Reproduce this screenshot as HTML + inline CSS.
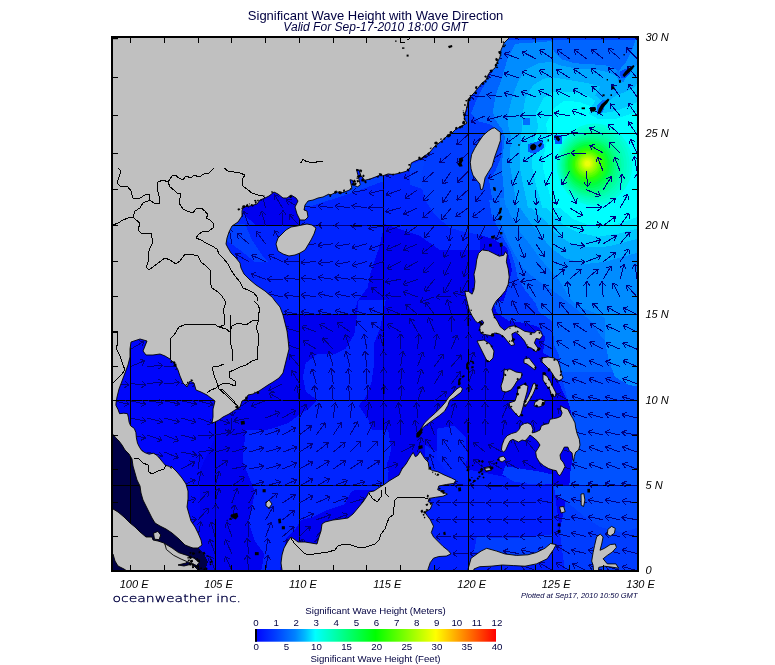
<!DOCTYPE html><html><head><meta charset="utf-8"><title>Significant Wave Height with Wave Direction</title>
<style>html,body{margin:0;padding:0;background:#fff}svg{display:block}text{font-family:"Liberation Sans",sans-serif}</style></head><body>
<svg width="775" height="665" viewBox="0 0 775 665">
<defs>
<clipPath id="mapclip"><rect x="113" y="38" width="524" height="532"/></clipPath>
<linearGradient id="cb" x1="0" x2="1" y1="0" y2="0"><stop offset="0" stop-color="#0000ff"/><stop offset="0.083" stop-color="#003cff"/><stop offset="0.167" stop-color="#0082ff"/><stop offset="0.208" stop-color="#00b9ff"/><stop offset="0.25" stop-color="#00ffff"/><stop offset="0.5" stop-color="#00ff00"/><stop offset="0.75" stop-color="#ffff00"/><stop offset="1" stop-color="#ff0000"/></linearGradient>
</defs>
<rect width="775" height="665" fill="#fff"/>
<g clip-path="url(#mapclip)">
<rect x="113" y="38" width="524" height="532" fill="#0000f0"/>
<g shape-rendering="crispEdges">
<polygon fill="#0024ff" points="222.0,190.0 300.0,185.0 384.0,160.0 480.0,130.0 480.0,250.0 440.0,250.0 420.0,236.0 384.4,224.0 379.4,247.0 371.0,271.0 367.7,287.5 357.6,301.0 354.0,315.0 283.0,315.0 222.0,300.0"/>
<polygon fill="#0040ff" points="224.0,224.0 245.0,224.0 252.0,240.0 262.0,255.0 268.0,262.0 255.0,262.0 240.0,250.0 226.0,240.0"/>
<polygon fill="#0040ff" points="305.0,200.0 330.0,192.0 360.0,182.0 384.0,176.0 384.0,181.0 360.0,190.0 330.0,200.0 305.0,208.0"/>
<polygon fill="#0040ff" points="410.0,165.0 480.0,135.0 480.0,190.0 465.0,195.0 455.0,185.0 440.0,180.0 425.0,190.0 410.0,185.0"/>
<polygon fill="#0024ff" points="302.9,377.1 305.7,362.9 317.1,354.3 334.3,354.3 345.7,348.6 354.3,334.3 357.1,314.3 358.6,300.0 385.7,300.0 382.9,314.3 380.0,328.6 374.3,342.9 374.3,362.9 371.4,382.9 365.7,397.1 358.6,405.7 368.6,420.0 374.3,437.1 380.0,448.6 385.7,460.0 388.6,471.4 387.1,490.0 260.0,490.0 260.0,431.4 271.4,428.6 288.6,422.9 300.0,414.3 308.6,408.6 317.1,400.0 305.7,391.4"/>
<polygon fill="#0024ff" points="245.7,430.0 388.2,430.0 391.3,448.6 388.2,461.0 375.8,476.5 363.4,485.7 351.0,491.9 344.8,504.3 326.3,510.5 313.9,516.7 301.5,519.8 295.3,529.1 286.0,538.4 282.9,553.9 279.8,570.9 261.2,570.9 264.3,553.9 255.0,541.5 248.8,522.9 251.9,507.4 255.0,491.9 248.8,476.5 242.6,461.0 244.2,445.5"/>
<polygon fill="#0024ff" points="437.1,428.6 454.3,425.7 465.7,437.1 467.1,460.0 460.0,477.1 445.7,474.3 437.1,454.3"/>
<polygon fill="#0000f0" points="240.0,190.0 300.0,190.0 300.0,225.0 256.0,225.0 244.0,215.0"/>
<polygon fill="#0006fb" points="113.0,330.0 215.0,330.0 215.0,400.0 214.0,440.0 200.0,470.0 200.0,548.0 113.0,548.0"/>
<polygon fill="#000046" points="111.0,430.0 125.0,438.0 140.0,460.0 150.0,490.0 170.0,520.0 195.0,545.0 203.0,552.0 208.0,562.0 204.0,572.0 111.0,572.0"/>
<polygon fill="#003cff" points="505.0,38.0 640.0,38.0 640.0,572.0 562.0,572.0 558.0,540.0 566.0,500.0 578.0,470.0 580.0,440.0 572.0,410.0 562.0,390.0 550.0,360.0 546.0,335.0 536.0,322.0 516.0,316.0 502.0,306.0 507.0,290.0 512.0,270.0 507.0,248.0 495.0,240.0 480.0,235.0 465.0,232.0 450.0,228.0 435.0,215.0 425.0,200.0 420.0,180.0 425.0,160.0 440.0,140.0 465.0,118.0 470.0,97.0 490.0,72.0"/>
<polygon fill="#0052ff" points="561.6,369.4 639.9,369.4 639.9,485.8 569.3,485.8 570.6,470.3 574.5,449.6 573.2,428.9 570.6,410.8 566.7,395.3 562.9,382.3"/>
<polygon fill="#0048ff" points="553.8,485.3 639.9,485.3 639.9,527.2 621.1,532.4 600.4,527.2 584.9,516.9 569.3,503.9 553.8,493.6"/>
<polygon fill="#0064ff" points="504.7,39.9 639.9,39.9 639.9,208.0 495.6,208.0 491.7,196.4 489.1,180.9 495.6,170.5 500.8,157.6 502.1,144.6 500.8,134.3 495.6,127.8 489.1,123.9 478.8,121.4 471.0,113.6 476.2,100.7 481.4,90.3 489.1,77.4 495.6,64.5 500.8,51.5"/>
<polygon fill="#0064ff" points="489.1,200.0 491.7,215.5 499.5,231.0 509.8,249.1 515.0,264.7 517.6,277.6 525.4,290.5 535.7,303.5 539.6,313.8 542.2,324.2 546.6,334.5 553.8,344.9 559.0,355.2 561.6,372.0 639.9,372.0 639.9,200.0"/>
<polygon fill="#0078ff" points="500.0,198.0 500.0,221.7 507.2,239.7 514.4,254.0 523.5,268.6 536.0,279.4 547.0,286.6 552.3,290.0 565.0,300.0 580.0,312.0 592.0,322.0 600.0,335.0 605.0,341.0 640.0,341.0 640.0,198.0"/>
<polygon fill="#008cff" points="515.0,43.8 551.2,41.2 553.8,51.5 561.6,59.3 574.5,63.2 595.2,64.5 608.1,65.7 618.5,70.9 626.2,61.9 632.7,48.9 635.3,39.9 639.9,39.9 639.9,208.0 506.0,208.0 504.9,202.1 503.4,186.0 501.6,166.1 503.4,149.8 504.9,136.9 502.1,129.1 498.2,123.9 494.3,117.5 493.0,111.0 495.6,95.5 502.1,77.4 507.3,59.3"/>
<polygon fill="#008cff" points="504.0,198.0 505.0,202.0 511.0,216.0 520.0,232.0 530.0,244.5 539.8,258.2 551.5,271.8 561.3,283.6 569.0,297.2 577.0,306.0 592.6,312.0 605.5,318.0 605.0,341.0 609.0,361.0 615.0,377.0 629.0,385.0 640.0,387.0 640.0,198.0"/>
<polygon fill="#00aaff" points="517.6,82.6 525.4,69.6 538.3,63.2 551.2,61.9 561.6,65.7 574.5,68.3 595.2,69.6 608.1,72.2 618.5,77.4 628.8,74.8 636.6,64.5 639.9,59.3 639.9,208.0 517.1,208.0 516.0,202.1 513.7,186.0 510.1,166.1 510.4,149.8 510.9,136.9 508.5,126.5 507.3,118.8 511.1,100.7"/>
<polygon fill="#00aaff" points="515.0,198.0 516.0,202.0 523.0,212.0 530.0,222.0 539.8,234.7 551.5,248.4 565.2,258.2 584.7,264.0 604.2,262.0 621.8,257.2 640.0,252.0 640.0,198.0"/>
<polygon fill="#00c8ff" points="525.4,98.1 533.1,85.1 543.5,78.7 553.8,77.4 569.3,80.0 584.9,82.6 600.4,86.4 595.2,95.5 605.5,103.3 615.9,95.5 626.2,91.6 634.0,87.7 639.9,80.0 639.9,208.0 527.9,208.0 526.9,202.1 523.3,186.0 519.7,166.1 520.2,149.8 521.0,136.9 522.3,123.9 522.8,113.6"/>
<polygon fill="#00c8ff" points="526.0,198.0 527.0,202.0 533.0,210.0 545.6,221.0 555.4,232.8 569.0,242.5 588.6,247.4 608.0,246.4 623.8,242.5 640.0,238.0 640.0,198.0"/>
<polygon fill="#00e6ff" points="535.7,113.6 543.5,98.1 553.8,91.6 569.3,91.6 584.9,94.2 595.2,100.7 590.0,109.7 600.4,113.6 615.9,111.0 628.8,105.8 639.9,100.7 639.9,208.0 542.2,208.0 540.9,202.1 536.2,186.0 531.8,166.1 533.1,149.8 534.9,136.9 538.3,126.5"/>
<polygon fill="#00e6ff" points="540.0,198.0 541.0,202.0 545.0,206.0 551.5,213.2 563.2,225.0 578.8,232.8 598.4,236.7 618.0,233.7 640.0,228.0 640.0,198.0"/>
<polygon fill="#00ffff" points="546.1,123.9 553.8,108.4 564.2,100.7 579.7,102.0 592.6,107.1 588.7,113.6 597.8,118.8 615.9,118.8 631.4,113.6 639.9,111.0 639.9,208.0 553.3,208.0 552.0,202.1 547.3,186.0 542.7,166.1 544.8,149.8 547.9,136.9"/>
<polygon fill="#00ffff" points="551.0,198.0 552.5,200.0 559.3,207.4 573.0,219.0 588.6,225.0 608.0,226.0 623.8,222.0 640.0,216.0 640.0,198.0"/>
<polygon fill="#003aff" points="493.0,301.0 497.0,313.0 509.0,321.0 525.0,323.0 539.0,327.0 545.0,337.0 543.0,353.0 551.0,357.0 554.0,341.0 552.0,321.0 535.0,309.0 515.0,301.0"/>
<polygon fill="#001eff" points="425.0,445.0 470.0,470.0 520.0,480.0 554.0,486.0 565.0,572.0 425.0,572.0"/>
<polygon fill="#0046ff" points="619.7,71.9 626.1,68.7 631.2,67.5 629.9,73.2 625.4,78.3 621.0,77.7"/>
<polygon fill="#0078ff" points="617.1,69.4 619.7,71.9 621.0,77.7 625.4,78.3 623.5,82.1 618.4,79.6 615.9,74.5"/>
<polygon fill="#006eff" points="596.7,106.4 602.5,100.0 606.9,100.0 605.0,106.4 601.8,113.4 597.3,114.7"/>
<polygon fill="#005aff" points="528.0,144.0 543.0,140.0 544.0,148.0 535.0,154.0 528.0,152.0"/>
<polygon fill="#005aff" points="554.0,135.0 562.0,135.0 562.0,144.0 555.0,144.0"/>
<polygon fill="#006eff" points="523.0,118.0 530.0,118.0 530.0,125.0 523.0,125.0"/>
<polygon fill="#003eff" points="476.8,536.9 505.2,538.3 533.5,536.9 553.4,534.1 553.4,544.0 544.9,548.3 536.4,552.5 527.9,554.8 516.5,555.4 505.2,554.0 496.6,551.1 486.7,548.3 481.0,551.1 473.9,552.5"/>
<polygon fill="#003eff" points="505.2,466.0 522.2,468.8 539.2,471.6 553.4,474.5 553.4,484.4 533.5,484.4 513.7,481.6 502.3,474.5"/>
<polygon fill="#0024ff" points="437.0,444.7 451.2,447.5 462.6,458.9 468.3,473.1 468.3,484.4 456.9,481.6 445.5,470.2 437.0,458.9"/>
</g>
<ellipse cx="594.5" cy="164.5" rx="38" ry="41" fill="rgb(0, 255, 222)"/>
<ellipse cx="593.7" cy="164.7" rx="36.0" ry="38.5" fill="rgb(0, 255, 208)"/>
<ellipse cx="592.9" cy="164.8" rx="34.0" ry="36.0" fill="rgb(0, 255, 194)"/>
<ellipse cx="592" cy="165" rx="32" ry="33.5" fill="rgb(0, 255, 180)"/>
<ellipse cx="591.3" cy="165.2" rx="30.2" ry="31.5" fill="rgb(0, 255, 163)"/>
<ellipse cx="590.7" cy="165.3" rx="28.4" ry="29.5" fill="rgb(0, 255, 147)"/>
<ellipse cx="590" cy="165.5" rx="26.5" ry="27.5" fill="rgb(0, 255, 130)"/>
<ellipse cx="589.6" cy="165.3" rx="24.7" ry="25.4" fill="rgb(0, 255, 106)"/>
<ellipse cx="589.2" cy="165.0" rx="22.9" ry="23.2" fill="rgb(0, 255, 83)"/>
<ellipse cx="588.8" cy="164.8" rx="21" ry="21" fill="rgb(0, 255, 60)"/>
<ellipse cx="588.6" cy="164.6" rx="19.0" ry="19.0" fill="rgb(16, 255, 40)"/>
<ellipse cx="588.4" cy="164.4" rx="17.0" ry="17.0" fill="rgb(33, 255, 20)"/>
<ellipse cx="588.2" cy="164.2" rx="15" ry="15" fill="rgb(50, 255, 0)"/>
<ellipse cx="588.1" cy="164.1" rx="13.3" ry="13.3" fill="rgb(76, 255, 0)"/>
<ellipse cx="587.9" cy="163.9" rx="11.7" ry="11.7" fill="rgb(102, 255, 0)"/>
<ellipse cx="587.8" cy="163.8" rx="10" ry="10" fill="rgb(130, 255, 0)"/>
<ellipse cx="587.7" cy="163.7" rx="8.7" ry="8.7" fill="rgb(149, 255, 0)"/>
<ellipse cx="587.7" cy="163.6" rx="7.4" ry="7.4" fill="rgb(169, 255, 0)"/>
<ellipse cx="587.6" cy="163.5" rx="6" ry="6" fill="rgb(190, 255, 0)"/>
<ellipse cx="587.6" cy="163.5" rx="4.9" ry="4.9" fill="rgb(204, 255, 3)"/>
<ellipse cx="587.6" cy="163.5" rx="3.8" ry="3.8" fill="rgb(219, 255, 6)"/>
<ellipse cx="587.6" cy="163.5" rx="2.6" ry="2.6" fill="rgb(235, 255, 10)"/>
<g stroke="#000" stroke-width="1" shape-rendering="crispEdges">
<line x1="130.6" y1="38" x2="130.6" y2="570"/>
<line x1="215.0" y1="38" x2="215.0" y2="570"/>
<line x1="299.4" y1="38" x2="299.4" y2="570"/>
<line x1="383.8" y1="38" x2="383.8" y2="570"/>
<line x1="468.2" y1="38" x2="468.2" y2="570"/>
<line x1="552.6" y1="38" x2="552.6" y2="570"/>
<line x1="113" y1="485.5" x2="637" y2="485.5"/>
<line x1="113" y1="400.5" x2="637" y2="400.5"/>
<line x1="113" y1="314.5" x2="637" y2="314.5"/>
<line x1="113" y1="225.5" x2="637" y2="225.5"/>
<line x1="113" y1="133.5" x2="637" y2="133.5"/>
</g>
<g stroke="#000080" stroke-width="1" fill="none" shape-rendering="crispEdges">
<path d="M113.7 418.0L128.9 421.2M128.9 421.2L123.9 423.4M128.9 421.2L125.2 417.1"/>
<path d="M113.7 400.8L128.8 404.3M128.8 404.3L123.8 406.5M128.8 404.3L125.2 400.2"/>
<path d="M113.7 383.7L129.2 384.8M129.2 384.8L124.5 387.7M129.2 384.8L125.0 381.2"/>
<path d="M113.7 366.5L128.1 360.6M128.1 360.6L125.2 365.3M128.1 360.6L122.8 359.3"/>
<path d="M113.7 349.2L127.1 341.4M127.1 341.4L124.9 346.4M127.1 341.4L121.7 340.8"/>
<path d="M113.7 331.8L127.1 324.1M127.1 324.1L124.9 329.1M127.1 324.1L121.7 323.5"/>
<path d="M113.7 314.4L127.1 306.6M127.1 306.6L124.9 311.6M127.1 306.6L121.7 306.0"/>
<path d="M113.7 296.9L127.1 289.1M127.1 289.1L124.9 294.1M127.1 289.1L121.7 288.5"/>
<path d="M113.7 279.3L127.1 271.5M127.1 271.5L124.9 276.5M127.1 271.5L121.7 270.9"/>
<path d="M113.7 261.6L127.1 253.8M127.1 253.8L124.9 258.8M127.1 253.8L121.7 253.2"/>
<path d="M113.7 243.8L127.1 236.0M127.1 236.0L124.9 241.0M127.1 236.0L121.7 235.4"/>
<path d="M113.7 225.8L127.1 218.1M127.1 218.1L124.9 223.1M127.1 218.1L121.7 217.5"/>
<path d="M113.7 207.8L127.1 200.1M127.1 200.1L124.9 205.1M127.1 200.1L121.7 199.5"/>
<path d="M113.7 189.7L108.7 175.0M108.7 175.0L113.2 178.2M108.7 175.0L107.1 180.3"/>
<path d="M113.7 171.4L108.7 156.8M108.7 156.8L113.2 159.9M108.7 156.8L107.1 162.0"/>
<path d="M113.7 153.0L108.7 138.4M108.7 138.4L113.2 141.5M108.7 138.4L107.1 143.6"/>
<path d="M113.7 134.5L108.7 119.8M108.7 119.8L113.2 123.0M108.7 119.8L107.1 125.1"/>
<path d="M113.7 115.8L108.7 101.1M108.7 101.1L113.2 104.3M108.7 101.1L107.1 106.4"/>
<path d="M113.7 96.9L108.7 82.2M108.7 82.2L113.2 85.4M108.7 82.2L107.1 87.5"/>
<path d="M113.7 77.9L108.7 63.2M108.7 63.2L113.2 66.4M108.7 63.2L107.1 68.5"/>
<path d="M113.7 58.7L108.7 44.0M108.7 44.0L113.2 47.2M108.7 44.0L107.1 49.3"/>
<path d="M113.7 39.3L108.7 24.6M108.7 24.6L113.2 27.8M108.7 24.6L107.1 29.9"/>
<path d="M130.6 452.1L146.0 454.0M146.0 454.0L141.2 456.7M146.0 454.0L142.0 450.2"/>
<path d="M130.6 435.0L145.8 437.9M145.8 437.9L140.9 440.3M145.8 437.9L142.1 433.9"/>
<path d="M130.6 418.0L145.8 421.2M145.8 421.2L140.7 423.4M145.8 421.2L142.1 417.1"/>
<path d="M130.6 400.8L145.7 404.3M145.7 404.3L140.6 406.5M145.7 404.3L142.1 400.2"/>
<path d="M130.6 383.7L146.1 384.8M146.1 384.8L141.4 387.7M146.1 384.8L141.8 381.2"/>
<path d="M130.6 366.5L145.0 360.6M145.0 360.6L142.1 365.3M145.0 360.6L139.6 359.3"/>
<path d="M130.6 349.2L144.0 341.4M144.0 341.4L141.8 346.4M144.0 341.4L138.6 340.8"/>
<path d="M130.6 331.8L144.0 324.1M144.0 324.1L141.8 329.1M144.0 324.1L138.6 323.5"/>
<path d="M130.6 314.4L144.0 306.6M144.0 306.6L141.8 311.6M144.0 306.6L138.6 306.0"/>
<path d="M130.6 296.9L144.0 289.1M144.0 289.1L141.8 294.1M144.0 289.1L138.6 288.5"/>
<path d="M130.6 279.3L144.0 271.5M144.0 271.5L141.8 276.5M144.0 271.5L138.6 270.9"/>
<path d="M130.6 261.6L144.0 253.8M144.0 253.8L141.8 258.8M144.0 253.8L138.6 253.2"/>
<path d="M130.6 243.8L144.0 236.0M144.0 236.0L141.8 241.0M144.0 236.0L138.6 235.4"/>
<path d="M130.6 225.8L144.0 218.1M144.0 218.1L141.8 223.1M144.0 218.1L138.6 217.5"/>
<path d="M130.6 207.8L125.6 193.2M125.6 193.2L130.1 196.3M125.6 193.2L123.9 198.4"/>
<path d="M130.6 189.7L125.6 175.0M125.6 175.0L130.1 178.2M125.6 175.0L123.9 180.3"/>
<path d="M130.6 171.4L125.6 156.8M125.6 156.8L130.1 159.9M125.6 156.8L123.9 162.0"/>
<path d="M130.6 153.0L125.6 138.4M125.6 138.4L130.1 141.5M125.6 138.4L123.9 143.6"/>
<path d="M130.6 134.5L125.6 119.8M125.6 119.8L130.1 123.0M125.6 119.8L123.9 125.1"/>
<path d="M130.6 115.8L125.6 101.1M125.6 101.1L130.1 104.3M125.6 101.1L123.9 106.4"/>
<path d="M130.6 96.9L125.6 82.2M125.6 82.2L130.1 85.4M125.6 82.2L123.9 87.5"/>
<path d="M130.6 77.9L125.6 63.2M125.6 63.2L130.1 66.4M125.6 63.2L123.9 68.5"/>
<path d="M130.6 58.7L125.6 44.0M125.6 44.0L130.1 47.2M125.6 44.0L123.9 49.3"/>
<path d="M130.6 39.3L125.6 24.6M125.6 24.6L130.1 27.8M125.6 24.6L123.9 29.9"/>
<path d="M147.5 486.0L159.9 495.3M159.9 495.3L154.4 495.2M159.9 495.3L158.3 490.0"/>
<path d="M147.5 469.0L160.8 477.0M160.8 477.0L155.3 477.5M160.8 477.0L158.6 472.0"/>
<path d="M147.5 452.1L162.5 456.0M162.5 456.0L157.3 458.0M162.5 456.0L159.0 451.7"/>
<path d="M147.5 435.0L162.0 440.3M162.0 440.3L156.8 441.8M162.0 440.3L159.0 435.8"/>
<path d="M147.5 418.0L162.5 422.0M162.5 422.0L157.3 423.9M162.5 422.0L159.0 417.7"/>
<path d="M147.5 400.8L162.8 403.0M162.8 403.0L158.0 405.6M162.8 403.0L158.9 399.2"/>
<path d="M147.5 383.7L162.9 381.8M162.9 381.8L158.8 385.5M162.9 381.8L158.1 379.1"/>
<path d="M147.5 366.5L162.9 365.4M162.9 365.4L158.7 368.9M162.9 365.4L158.3 362.5"/>
<path d="M147.5 349.2L162.0 343.9M162.0 343.9L159.0 348.4M162.0 343.9L156.8 342.3"/>
<path d="M147.5 331.8L159.5 322.0M159.5 322.0L158.1 327.4M159.5 322.0L154.0 322.3"/>
<path d="M147.5 314.4L162.0 309.1M162.0 309.1L159.0 313.6M162.0 309.1L156.8 307.6"/>
<path d="M147.5 296.9L162.0 291.6M162.0 291.6L159.0 296.1M162.0 291.6L156.8 290.0"/>
<path d="M147.5 279.3L162.0 273.9M162.0 273.9L159.0 278.5M162.0 273.9L156.8 272.4"/>
<path d="M147.5 261.6L162.0 256.3M162.0 256.3L159.0 260.8M162.0 256.3L156.8 254.7"/>
<path d="M147.5 243.8L162.0 238.5M162.0 238.5L159.0 243.0M162.0 238.5L156.8 236.9"/>
<path d="M147.5 225.8L142.4 211.2M142.4 211.2L146.9 214.3M142.4 211.2L140.8 216.5"/>
<path d="M147.5 207.8L142.4 193.2M142.4 193.2L146.9 196.3M142.4 193.2L140.8 198.4"/>
<path d="M147.5 189.7L142.4 175.0M142.4 175.0L146.9 178.2M142.4 175.0L140.8 180.3"/>
<path d="M147.5 171.4L142.4 156.8M142.4 156.8L146.9 159.9M142.4 156.8L140.8 162.0"/>
<path d="M147.5 153.0L142.4 138.4M142.4 138.4L146.9 141.5M142.4 138.4L140.8 143.6"/>
<path d="M147.5 134.5L142.4 119.8M142.4 119.8L146.9 123.0M142.4 119.8L140.8 125.1"/>
<path d="M147.5 115.8L142.4 101.1M142.4 101.1L146.9 104.3M142.4 101.1L140.8 106.4"/>
<path d="M147.5 96.9L142.4 82.2M142.4 82.2L146.9 85.4M142.4 82.2L140.8 87.5"/>
<path d="M147.5 77.9L142.4 63.2M142.4 63.2L146.9 66.4M142.4 63.2L140.8 68.5"/>
<path d="M147.5 58.7L142.4 44.0M142.4 44.0L146.9 47.2M142.4 44.0L140.8 49.3"/>
<path d="M147.5 39.3L142.4 24.6M142.4 24.6L146.9 27.8M142.4 24.6L140.8 29.9"/>
<path d="M164.4 502.9L176.4 512.7M176.4 512.7L170.9 512.4M176.4 512.7L175.0 507.4"/>
<path d="M164.4 486.0L177.3 494.6M177.3 494.6L171.8 494.8M177.3 494.6L175.4 489.4"/>
<path d="M164.4 469.0L178.1 476.2M178.1 476.2L172.6 477.0M178.1 476.2L175.6 471.3"/>
<path d="M164.4 452.1L178.7 457.9M178.7 457.9L173.4 459.2M178.7 457.9L175.8 453.2"/>
<path d="M164.4 435.0L178.7 440.8M178.7 440.8L173.4 442.2M178.7 440.8L175.8 436.2"/>
<path d="M164.4 418.0L179.3 422.0M179.3 422.0L174.2 423.9M179.3 422.0L175.9 417.7"/>
<path d="M164.4 400.8L179.5 404.1M179.5 404.1L174.5 406.3M179.5 404.1L175.8 400.0"/>
<path d="M164.4 383.7L179.8 382.6M179.8 382.6L175.6 386.1M179.8 382.6L175.2 379.7"/>
<path d="M164.4 366.5L179.9 366.5M179.9 366.5L175.4 369.7M179.9 366.5L175.4 363.2"/>
<path d="M164.4 349.2L179.4 345.4M179.4 345.4L175.9 349.6M179.4 345.4L174.3 343.3"/>
<path d="M164.4 331.8L177.7 323.8M177.7 323.8L175.5 328.9M177.7 323.8L172.2 323.3"/>
<path d="M164.4 314.4L174.3 302.5M174.3 302.5L173.9 308.0M174.3 302.5L169.0 303.8"/>
<path d="M164.4 296.9L178.9 291.6M178.9 291.6L175.8 296.1M178.9 291.6L173.6 290.0"/>
<path d="M164.4 279.3L178.9 273.9M178.9 273.9L175.8 278.5M178.9 273.9L173.6 272.4"/>
<path d="M164.4 261.6L150.9 253.8M150.9 253.8L156.4 253.2M150.9 253.8L153.2 258.8"/>
<path d="M164.4 243.8L152.7 233.6M152.7 233.6L158.1 234.1M152.7 233.6L153.9 238.9"/>
<path d="M164.4 225.8L159.3 211.2M159.3 211.2L163.8 214.3M159.3 211.2L157.7 216.5"/>
<path d="M164.4 207.8L159.3 193.2M159.3 193.2L163.8 196.3M159.3 193.2L157.7 198.4"/>
<path d="M164.4 189.7L159.3 175.0M159.3 175.0L163.8 178.2M159.3 175.0L157.7 180.3"/>
<path d="M164.4 171.4L159.3 156.8M159.3 156.8L163.8 159.9M159.3 156.8L157.7 162.0"/>
<path d="M164.4 153.0L159.3 138.4M159.3 138.4L163.8 141.5M159.3 138.4L157.7 143.6"/>
<path d="M164.4 134.5L159.3 119.8M159.3 119.8L163.8 123.0M159.3 119.8L157.7 125.1"/>
<path d="M164.4 115.8L159.3 101.1M159.3 101.1L163.8 104.3M159.3 101.1L157.7 106.4"/>
<path d="M164.4 96.9L159.3 82.2M159.3 82.2L163.8 85.4M159.3 82.2L157.7 87.5"/>
<path d="M164.4 77.9L159.3 63.2M159.3 63.2L163.8 66.4M159.3 63.2L157.7 68.5"/>
<path d="M164.4 58.7L159.3 44.0M159.3 44.0L163.8 47.2M159.3 44.0L157.7 49.3"/>
<path d="M164.4 39.3L159.3 24.6M159.3 24.6L163.8 27.8M159.3 24.6L157.7 29.9"/>
<path d="M181.2 519.8L196.7 519.4M196.7 519.4L192.4 522.8M196.7 519.4L192.2 516.3"/>
<path d="M181.2 502.9L196.1 498.4M196.1 498.4L192.8 502.8M196.1 498.4L190.9 496.6"/>
<path d="M181.2 486.0L195.4 479.8M195.4 479.8L192.7 484.5M195.4 479.8L190.1 478.6"/>
<path d="M181.2 469.0L194.9 461.6M194.9 461.6L192.5 466.6M194.9 461.6L189.4 460.9"/>
<path d="M181.2 452.1L196.5 455.0M196.5 455.0L191.5 457.3M196.5 455.0L192.7 451.0"/>
<path d="M181.2 435.0L196.2 439.0M196.2 439.0L191.1 441.0M196.2 439.0L192.8 434.8"/>
<path d="M181.2 418.0L196.1 422.2M196.1 422.2L191.0 424.1M196.1 422.2L192.8 417.9"/>
<path d="M181.2 400.8L196.4 404.1M196.4 404.1L191.4 406.3M196.4 404.1L192.7 400.0"/>
<path d="M181.2 383.7L196.7 383.7M196.7 383.7L192.3 386.9M196.7 383.7L192.3 380.4"/>
<path d="M181.2 366.5L196.7 365.9M196.7 365.9L192.4 369.3M196.7 365.9L192.2 362.8"/>
<path d="M181.2 349.2L196.6 347.4M196.6 347.4L192.6 351.1M196.6 347.4L191.8 344.7"/>
<path d="M181.2 331.8L194.8 324.3M194.8 324.3L192.5 329.3M194.8 324.3L189.3 323.6"/>
<path d="M181.2 314.4L191.2 302.5M191.2 302.5L190.8 308.0M191.2 302.5L185.9 303.8"/>
<path d="M181.2 296.9L188.3 283.1M188.3 283.1L189.2 288.5M188.3 283.1L183.4 285.5"/>
<path d="M181.2 279.3L167.8 271.5M167.8 271.5L173.3 270.9M167.8 271.5L170.1 276.5"/>
<path d="M181.2 261.6L167.8 253.8M167.8 253.8L173.3 253.2M167.8 253.8L170.1 258.8"/>
<path d="M181.2 243.8L169.5 233.6M169.5 233.6L175.0 234.1M169.5 233.6L170.8 238.9"/>
<path d="M181.2 225.8L176.2 211.2M176.2 211.2L180.7 214.3M176.2 211.2L174.6 216.5"/>
<path d="M181.2 207.8L176.2 193.2M176.2 193.2L180.7 196.3M176.2 193.2L174.6 198.4"/>
<path d="M181.2 189.7L176.2 175.0M176.2 175.0L180.7 178.2M176.2 175.0L174.6 180.3"/>
<path d="M181.2 171.4L176.2 156.8M176.2 156.8L180.7 159.9M176.2 156.8L174.6 162.0"/>
<path d="M181.2 153.0L176.2 138.4M176.2 138.4L180.7 141.5M176.2 138.4L174.6 143.6"/>
<path d="M181.2 134.5L176.2 119.8M176.2 119.8L180.7 123.0M176.2 119.8L174.6 125.1"/>
<path d="M181.2 115.8L176.2 101.1M176.2 101.1L180.7 104.3M176.2 101.1L174.6 106.4"/>
<path d="M181.2 96.9L176.2 82.2M176.2 82.2L180.7 85.4M176.2 82.2L174.6 87.5"/>
<path d="M181.2 77.9L176.2 63.2M176.2 63.2L180.7 66.4M176.2 63.2L174.6 68.5"/>
<path d="M181.2 58.7L176.2 44.0M176.2 44.0L180.7 47.2M176.2 44.0L174.6 49.3"/>
<path d="M181.2 39.3L176.2 24.6M176.2 24.6L180.7 27.8M176.2 24.6L174.6 29.9"/>
<path d="M198.1 536.7L200.8 521.5M200.8 521.5L203.2 526.4M200.8 521.5L196.9 525.3"/>
<path d="M198.1 519.8L208.5 508.3M208.5 508.3L207.9 513.8M208.5 508.3L203.1 509.5"/>
<path d="M198.1 502.9L208.5 491.4M208.5 491.4L207.9 496.9M208.5 491.4L203.1 492.6"/>
<path d="M198.1 486.0L201.1 470.8M201.1 470.8L203.4 475.8M201.1 470.8L197.1 474.5"/>
<path d="M198.1 469.0L200.0 453.7M200.0 453.7L202.7 458.5M200.0 453.7L196.3 457.7"/>
<path d="M198.1 452.1L213.5 449.9M213.5 449.9L209.5 453.7M213.5 449.9L208.6 447.3"/>
<path d="M198.1 435.0L213.6 435.0M213.6 435.0L209.2 438.3M213.6 435.0L209.2 431.8"/>
<path d="M198.1 418.0L212.7 423.3M212.7 423.3L207.4 424.8M212.7 423.3L209.6 418.7"/>
<path d="M198.1 400.8L213.1 404.9M213.1 404.9L208.0 406.8M213.1 404.9L209.6 400.6"/>
<path d="M198.1 383.7L213.5 385.4M213.5 385.4L208.7 388.1M213.5 385.4L209.5 381.7"/>
<path d="M198.1 366.5L213.6 365.3M213.6 365.3L209.4 368.8M213.6 365.3L208.9 362.4"/>
<path d="M198.1 349.2L213.3 346.2M213.3 346.2L209.6 350.2M213.3 346.2L208.3 343.8"/>
<path d="M198.1 331.8L212.0 324.9M212.0 324.9L209.5 329.8M212.0 324.9L206.6 324.0"/>
<path d="M198.1 314.4L204.1 300.1M204.1 300.1L205.4 305.4M204.1 300.1L199.4 302.9"/>
<path d="M198.1 296.9L200.9 281.6M200.9 281.6L203.3 286.6M200.9 281.6L197.0 285.4"/>
<path d="M198.1 279.3L201.8 264.2M201.8 264.2L203.9 269.3M201.8 264.2L197.6 267.7"/>
<path d="M198.1 261.6L184.7 253.8M184.7 253.8L190.2 253.2M184.7 253.8L186.9 258.8"/>
<path d="M198.1 243.8L186.4 233.6M186.4 233.6L191.9 234.1M186.4 233.6L187.7 238.9"/>
<path d="M198.1 225.8L193.1 211.2M193.1 211.2L197.6 214.3M193.1 211.2L191.5 216.5"/>
<path d="M198.1 207.8L193.1 193.2M193.1 193.2L197.6 196.3M193.1 193.2L191.5 198.4"/>
<path d="M198.1 189.7L193.1 175.0M193.1 175.0L197.6 178.2M193.1 175.0L191.5 180.3"/>
<path d="M198.1 171.4L193.1 156.8M193.1 156.8L197.6 159.9M193.1 156.8L191.5 162.0"/>
<path d="M198.1 153.0L193.1 138.4M193.1 138.4L197.6 141.5M193.1 138.4L191.5 143.6"/>
<path d="M198.1 134.5L193.1 119.8M193.1 119.8L197.6 123.0M193.1 119.8L191.5 125.1"/>
<path d="M198.1 115.8L193.1 101.1M193.1 101.1L197.6 104.3M193.1 101.1L191.5 106.4"/>
<path d="M198.1 96.9L193.1 82.2M193.1 82.2L197.6 85.4M193.1 82.2L191.5 87.5"/>
<path d="M198.1 77.9L193.1 63.2M193.1 63.2L197.6 66.4M193.1 63.2L191.5 68.5"/>
<path d="M198.1 58.7L193.1 44.0M193.1 44.0L197.6 47.2M193.1 44.0L191.5 49.3"/>
<path d="M198.1 39.3L193.1 24.6M193.1 24.6L197.6 27.8M193.1 24.6L191.5 29.9"/>
<path d="M215.0 570.5L209.7 555.9M209.7 555.9L214.3 559.0M209.7 555.9L208.2 561.2"/>
<path d="M215.0 553.6L209.7 539.1M209.7 539.1L214.3 542.1M209.7 539.1L208.2 544.3"/>
<path d="M215.0 536.7L211.0 521.8M211.0 521.8L215.3 525.2M211.0 521.8L209.0 526.9"/>
<path d="M215.0 519.8L216.1 504.4M216.1 504.4L219.0 509.0M216.1 504.4L212.5 508.6"/>
<path d="M215.0 502.9L219.0 488.0M219.0 488.0L221.0 493.1M219.0 488.0L214.7 491.4"/>
<path d="M215.0 486.0L219.3 471.1M219.3 471.1L221.2 476.3M219.3 471.1L214.9 474.5"/>
<path d="M215.0 469.0L227.9 460.4M227.9 460.4L226.0 465.5M227.9 460.4L222.4 460.2"/>
<path d="M215.0 452.1L230.0 448.0M230.0 448.0L226.5 452.3M230.0 448.0L224.8 446.1"/>
<path d="M215.0 435.0L230.3 432.3M230.3 432.3L226.4 436.3M230.3 432.3L225.3 429.9"/>
<path d="M215.0 418.0L229.6 423.3M229.6 423.3L224.3 424.8M229.6 423.3L226.5 418.7"/>
<path d="M215.0 400.8L228.5 408.5M228.5 408.5L223.0 409.1M228.5 408.5L226.2 403.5"/>
<path d="M215.0 383.7L229.3 389.6M229.3 389.6L224.0 390.9M229.3 389.6L226.5 384.9"/>
<path d="M215.0 366.5L230.5 367.3M230.5 367.3L225.9 370.3M230.5 367.3L226.2 363.8"/>
<path d="M215.0 349.2L229.6 344.1M229.6 344.1L226.5 348.6M229.6 344.1L224.4 342.5"/>
<path d="M215.0 331.8L224.4 319.5M224.4 319.5L224.3 325.0M224.4 319.5L219.1 321.1"/>
<path d="M215.0 314.4L212.5 299.1M212.5 299.1L216.4 302.9M212.5 299.1L210.0 304.0"/>
<path d="M215.0 296.9L207.8 283.1M207.8 283.1L212.8 285.6M207.8 283.1L207.0 288.6"/>
<path d="M215.0 279.3L210.0 264.6M210.0 264.6L214.5 267.7M210.0 264.6L208.3 269.9"/>
<path d="M215.0 261.6L215.3 246.1M215.3 246.1L218.4 250.6M215.3 246.1L212.0 250.4"/>
<path d="M215.0 243.8L203.3 233.6M203.3 233.6L208.8 234.1M203.3 233.6L204.5 238.9"/>
<path d="M215.0 225.8L210.0 211.2M210.0 211.2L214.5 214.3M210.0 211.2L208.3 216.5"/>
<path d="M215.0 207.8L210.0 193.2M210.0 193.2L214.5 196.3M210.0 193.2L208.3 198.4"/>
<path d="M215.0 189.7L210.0 175.0M210.0 175.0L214.5 178.2M210.0 175.0L208.3 180.3"/>
<path d="M215.0 171.4L210.0 156.8M210.0 156.8L214.5 159.9M210.0 156.8L208.3 162.0"/>
<path d="M215.0 153.0L210.0 138.4M210.0 138.4L214.5 141.5M210.0 138.4L208.3 143.6"/>
<path d="M215.0 134.5L210.0 119.8M210.0 119.8L214.5 123.0M210.0 119.8L208.3 125.1"/>
<path d="M215.0 115.8L210.0 101.1M210.0 101.1L214.5 104.3M210.0 101.1L208.3 106.4"/>
<path d="M215.0 96.9L210.0 82.2M210.0 82.2L214.5 85.4M210.0 82.2L208.3 87.5"/>
<path d="M215.0 77.9L210.0 63.2M210.0 63.2L214.5 66.4M210.0 63.2L208.3 68.5"/>
<path d="M215.0 58.7L210.0 44.0M210.0 44.0L214.5 47.2M210.0 44.0L208.3 49.3"/>
<path d="M215.0 39.3L210.0 24.6M210.0 24.6L214.5 27.8M210.0 24.6L208.3 29.9"/>
<path d="M231.9 570.5L225.3 556.5M225.3 556.5L230.1 559.1M225.3 556.5L224.3 561.9"/>
<path d="M231.9 553.6L225.3 539.6M225.3 539.6L230.1 542.2M225.3 539.6L224.3 545.0"/>
<path d="M231.9 536.7L226.6 522.2M226.6 522.2L231.1 525.2M226.6 522.2L225.1 527.5"/>
<path d="M231.9 519.8L235.1 504.7M235.1 504.7L237.3 509.7M235.1 504.7L231.0 508.4"/>
<path d="M231.9 502.9L237.2 488.4M237.2 488.4L238.7 493.7M237.2 488.4L232.6 491.4"/>
<path d="M231.9 486.0L244.4 476.9M244.4 476.9L242.7 482.1M244.4 476.9L238.9 476.9"/>
<path d="M231.9 469.0L247.0 465.8M247.0 465.8L243.4 469.9M247.0 465.8L242.0 463.6"/>
<path d="M231.9 452.1L246.8 447.8M246.8 447.8L243.4 452.1M246.8 447.8L241.6 445.9"/>
<path d="M231.9 435.0L247.0 431.8M247.0 431.8L243.4 435.9M247.0 431.8L242.0 429.6"/>
<path d="M231.9 418.0L230.8 433.4M230.8 433.4L227.9 428.8M230.8 433.4L234.3 429.2"/>
<path d="M231.9 400.8L232.6 416.3M232.6 416.3L229.1 412.0M232.6 416.3L235.6 411.7"/>
<path d="M231.9 383.7L235.5 398.8M235.5 398.8L231.3 395.2M235.5 398.8L237.6 393.7"/>
<path d="M231.9 366.5L237.5 380.9M237.5 380.9L232.9 377.9M237.5 380.9L238.9 375.6"/>
<path d="M231.9 349.2L239.0 335.4M239.0 335.4L239.8 340.9M239.0 335.4L234.1 337.9"/>
<path d="M231.9 331.8L225.4 317.7M225.4 317.7L230.2 320.4M225.4 317.7L224.3 323.1"/>
<path d="M231.9 314.4L220.5 303.8M220.5 303.8L226.0 304.5M220.5 303.8L221.6 309.2"/>
<path d="M231.9 296.9L219.8 287.2M219.8 287.2L225.3 287.4M219.8 287.2L221.2 292.5"/>
<path d="M231.9 279.3L219.9 269.4M219.9 269.4L225.4 269.7M219.9 269.4L221.3 274.7"/>
<path d="M231.9 261.6L222.3 249.3M222.3 249.3L227.6 250.9M222.3 249.3L222.5 254.8"/>
<path d="M231.9 243.8L229.2 228.5M229.2 228.5L233.1 232.3M229.2 228.5L226.8 233.4"/>
<path d="M231.9 225.8L226.8 211.2M226.8 211.2L231.3 214.3M226.8 211.2L225.2 216.5"/>
<path d="M231.9 207.8L226.8 193.2M226.8 193.2L231.3 196.3M226.8 193.2L225.2 198.4"/>
<path d="M231.9 189.7L226.8 175.0M226.8 175.0L231.3 178.2M226.8 175.0L225.2 180.3"/>
<path d="M231.9 171.4L226.8 156.8M226.8 156.8L231.3 159.9M226.8 156.8L225.2 162.0"/>
<path d="M231.9 153.0L226.8 138.4M226.8 138.4L231.3 141.5M226.8 138.4L225.2 143.6"/>
<path d="M231.9 134.5L226.8 119.8M226.8 119.8L231.3 123.0M226.8 119.8L225.2 125.1"/>
<path d="M231.9 115.8L226.8 101.1M226.8 101.1L231.3 104.3M226.8 101.1L225.2 106.4"/>
<path d="M231.9 96.9L226.8 82.2M226.8 82.2L231.3 85.4M226.8 82.2L225.2 87.5"/>
<path d="M231.9 77.9L226.8 63.2M226.8 63.2L231.3 66.4M226.8 63.2L225.2 68.5"/>
<path d="M231.9 58.7L226.8 44.0M226.8 44.0L231.3 47.2M226.8 44.0L225.2 49.3"/>
<path d="M231.9 39.3L226.8 24.6M226.8 24.6L231.3 27.8M226.8 24.6L225.2 29.9"/>
<path d="M248.8 570.5L246.9 555.1M246.9 555.1L250.6 559.1M246.9 555.1L244.2 559.9"/>
<path d="M248.8 553.6L246.9 538.2M246.9 538.2L250.6 542.3M246.9 538.2L244.2 543.0"/>
<path d="M248.8 536.7L247.9 521.3M247.9 521.3L251.4 525.5M247.9 521.3L245.0 525.9"/>
<path d="M248.8 519.8L252.5 504.8M252.5 504.8L254.6 509.9M252.5 504.8L248.3 508.3"/>
<path d="M248.8 502.9L256.3 489.4M256.3 489.4L256.9 494.8M256.3 489.4L251.3 491.7"/>
<path d="M248.8 486.0L263.7 481.7M263.7 481.7L260.3 486.1M263.7 481.7L258.5 479.8"/>
<path d="M248.8 469.0L264.0 466.1M264.0 466.1L260.2 470.1M264.0 466.1L259.0 463.8"/>
<path d="M248.8 452.1L263.7 447.8M263.7 447.8L260.3 452.1M263.7 447.8L258.5 445.9"/>
<path d="M248.8 435.0L263.7 430.8M263.7 430.8L260.3 435.1M263.7 430.8L258.5 428.9"/>
<path d="M248.8 418.0L233.6 421.2M233.6 421.2L237.3 417.1M233.6 421.2L238.6 423.4"/>
<path d="M248.8 400.8L236.0 409.7M236.0 409.7L237.8 404.5M236.0 409.7L241.5 409.8"/>
<path d="M248.8 383.7L238.6 395.4M238.6 395.4L239.1 389.9M238.6 395.4L244.0 394.2"/>
<path d="M248.8 366.5L235.5 374.5M235.5 374.5L237.6 369.5M235.5 374.5L241.0 375.0"/>
<path d="M248.8 349.2L233.4 351.1M233.4 351.1L237.4 347.4M233.4 351.1L238.2 353.8"/>
<path d="M248.8 331.8L233.9 327.3M233.9 327.3L239.1 325.5M233.9 327.3L237.2 331.7"/>
<path d="M248.8 314.4L234.7 307.8M234.7 307.8L240.1 306.7M234.7 307.8L237.4 312.6"/>
<path d="M248.8 296.9L234.8 290.2M234.8 290.2L240.2 289.2M234.8 290.2L237.4 295.0"/>
<path d="M248.8 279.3L235.0 272.1M235.0 272.1L240.5 271.3M235.0 272.1L237.5 277.0"/>
<path d="M248.8 261.6L235.3 253.8M235.3 253.8L240.8 253.2M235.3 253.8L237.6 258.8"/>
<path d="M248.8 243.8L237.1 233.6M237.1 233.6L242.5 234.1M237.1 233.6L238.3 238.9"/>
<path d="M248.8 225.8L243.7 211.2M243.7 211.2L248.2 214.3M243.7 211.2L242.1 216.5"/>
<path d="M248.8 207.8L243.7 193.2M243.7 193.2L248.2 196.3M243.7 193.2L242.1 198.4"/>
<path d="M248.8 189.7L243.7 175.0M243.7 175.0L248.2 178.2M243.7 175.0L242.1 180.3"/>
<path d="M248.8 171.4L243.7 156.8M243.7 156.8L248.2 159.9M243.7 156.8L242.1 162.0"/>
<path d="M248.8 153.0L243.7 138.4M243.7 138.4L248.2 141.5M243.7 138.4L242.1 143.6"/>
<path d="M248.8 134.5L243.7 119.8M243.7 119.8L248.2 123.0M243.7 119.8L242.1 125.1"/>
<path d="M248.8 115.8L243.7 101.1M243.7 101.1L248.2 104.3M243.7 101.1L242.1 106.4"/>
<path d="M248.8 96.9L243.7 82.2M243.7 82.2L248.2 85.4M243.7 82.2L242.1 87.5"/>
<path d="M248.8 77.9L243.7 63.2M243.7 63.2L248.2 66.4M243.7 63.2L242.1 68.5"/>
<path d="M248.8 58.7L233.4 56.5M233.4 56.5L238.3 53.9M233.4 56.5L237.4 60.3"/>
<path d="M248.8 39.3L233.4 37.1M233.4 37.1L238.3 34.5M233.4 37.1L237.4 40.9"/>
<path d="M265.6 570.5L267.8 555.2M267.8 555.2L270.4 560.0M267.8 555.2L264.0 559.1"/>
<path d="M265.6 553.6L267.8 538.3M267.8 538.3L270.4 543.1M267.8 538.3L264.0 542.2"/>
<path d="M265.6 536.7L271.2 522.3M271.2 522.3L272.6 527.6M271.2 522.3L266.6 525.3"/>
<path d="M265.6 519.8L273.4 506.4M273.4 506.4L274.0 511.9M273.4 506.4L268.4 508.7"/>
<path d="M265.6 502.9L277.5 493.0M277.5 493.0L276.2 498.3M277.5 493.0L272.0 493.3"/>
<path d="M265.6 486.0L280.5 481.7M280.5 481.7L277.2 486.1M280.5 481.7L275.4 479.8"/>
<path d="M265.6 469.0L280.5 464.8M280.5 464.8L277.2 469.1M280.5 464.8L275.4 462.9"/>
<path d="M265.6 452.1L280.5 447.8M280.5 447.8L277.2 452.1M280.5 447.8L275.4 445.9"/>
<path d="M265.6 435.0L280.2 429.7M280.2 429.7L277.1 434.3M280.2 429.7L274.9 428.2"/>
<path d="M265.6 418.0L280.0 412.2M280.0 412.2L277.1 416.8M280.0 412.2L274.7 410.8"/>
<path d="M265.6 400.8L251.1 406.1M251.1 406.1L254.2 401.6M251.1 406.1L256.4 407.7"/>
<path d="M265.6 383.7L252.7 392.2M252.7 392.2L254.6 387.0M252.7 392.2L258.2 392.4"/>
<path d="M265.6 366.5L251.3 372.4M251.3 372.4L254.2 367.7M251.3 372.4L256.7 373.7"/>
<path d="M265.6 349.2L250.4 352.0M250.4 352.0L254.2 348.0M250.4 352.0L255.4 354.4"/>
<path d="M265.6 331.8L250.1 331.3M250.1 331.3L254.7 328.2M250.1 331.3L254.5 334.7"/>
<path d="M265.6 314.4L250.5 310.8M250.5 310.8L255.6 308.7M250.5 310.8L254.1 315.0"/>
<path d="M265.6 296.9L250.9 292.1M250.9 292.1L256.1 290.4M250.9 292.1L254.1 296.6"/>
<path d="M265.6 279.3L251.1 273.9M251.1 273.9L256.4 272.4M251.1 273.9L254.2 278.5"/>
<path d="M265.6 261.6L251.5 255.2M251.5 255.2L256.9 254.1M251.5 255.2L254.2 260.0"/>
<path d="M265.6 243.8L256.1 231.5M256.1 231.5L261.4 233.1M256.1 231.5L256.3 237.0"/>
<path d="M265.6 225.8L261.4 210.9M261.4 210.9L265.7 214.3M261.4 210.9L259.5 216.1"/>
<path d="M265.6 207.8L261.4 192.9M261.4 192.9L265.7 196.3M261.4 192.9L259.5 198.1"/>
<path d="M265.6 189.7L261.4 174.8M261.4 174.8L265.7 178.2M261.4 174.8L259.5 180.0"/>
<path d="M265.6 171.4L261.4 156.5M261.4 156.5L265.7 159.9M261.4 156.5L259.5 161.7"/>
<path d="M265.6 153.0L261.4 138.1M261.4 138.1L265.7 141.5M261.4 138.1L259.5 143.3"/>
<path d="M265.6 134.5L261.4 119.6M261.4 119.6L265.7 122.9M261.4 119.6L259.5 124.7"/>
<path d="M265.6 115.8L250.3 113.6M250.3 113.6L255.1 111.0M250.3 113.6L254.2 117.4"/>
<path d="M265.6 96.9L250.3 94.7M250.3 94.7L255.1 92.2M250.3 94.7L254.2 98.6"/>
<path d="M265.6 77.9L250.3 75.7M250.3 75.7L255.1 73.1M250.3 75.7L254.2 79.5"/>
<path d="M265.6 58.7L250.3 56.5M250.3 56.5L255.1 53.9M250.3 56.5L254.2 60.3"/>
<path d="M265.6 39.3L250.3 37.1M250.3 37.1L255.1 34.5M250.3 37.1L254.2 40.9"/>
<path d="M282.5 570.5L287.8 555.9M287.8 555.9L289.3 561.2M287.8 555.9L283.3 559.0"/>
<path d="M282.5 553.6L287.8 539.1M287.8 539.1L289.3 544.3M287.8 539.1L283.3 542.1"/>
<path d="M282.5 536.7L294.2 526.6M294.2 526.6L293.0 531.9M294.2 526.6L288.7 527.0"/>
<path d="M282.5 519.8L294.7 510.3M294.7 510.3L293.2 515.6M294.7 510.3L289.2 510.5"/>
<path d="M282.5 502.9L295.5 494.5M295.5 494.5L293.5 499.6M295.5 494.5L290.0 494.2"/>
<path d="M282.5 486.0L296.7 479.7M296.7 479.7L293.9 484.5M296.7 479.7L291.3 478.5"/>
<path d="M282.5 469.0L296.8 463.0M296.8 463.0L294.0 467.7M296.8 463.0L291.4 461.7"/>
<path d="M282.5 452.1L297.2 447.0M297.2 447.0L294.0 451.5M297.2 447.0L291.9 445.4"/>
<path d="M282.5 435.0L295.9 427.3M295.9 427.3L293.7 432.3M295.9 427.3L290.5 426.7"/>
<path d="M282.5 418.0L295.9 410.2M295.9 410.2L293.7 415.2M295.9 410.2L290.5 409.6"/>
<path d="M282.5 400.8L269.1 393.1M269.1 393.1L274.6 392.5M269.1 393.1L271.3 398.1"/>
<path d="M282.5 383.7L268.7 390.7M268.7 390.7L271.2 385.8M268.7 390.7L274.1 391.6"/>
<path d="M282.5 366.5L267.9 371.6M267.9 371.6L271.0 367.1M267.9 371.6L273.2 373.2"/>
<path d="M282.5 349.2L267.3 352.3M267.3 352.3L271.0 348.2M267.3 352.3L272.3 354.5"/>
<path d="M282.5 331.8L267.0 332.7M267.0 332.7L271.3 329.2M267.0 332.7L271.7 335.7"/>
<path d="M282.5 314.4L267.1 313.2M267.1 313.2L271.8 310.3M267.1 313.2L271.3 316.7"/>
<path d="M282.5 296.9L267.4 293.6M267.4 293.6L272.4 291.4M267.4 293.6L271.0 297.7"/>
<path d="M282.5 279.3L267.0 279.3M267.0 279.3L271.5 276.0M267.0 279.3L271.5 282.5"/>
<path d="M282.5 261.6L268.4 255.2M268.4 255.2L273.7 254.1M268.4 255.2L271.1 260.0"/>
<path d="M282.5 243.8L274.3 230.6M274.3 230.6L279.4 232.7M274.3 230.6L273.9 236.1"/>
<path d="M282.5 225.8L283.1 210.4M283.1 210.4L286.1 214.9M283.1 210.4L279.7 214.7"/>
<path d="M282.5 207.8L274.4 194.7M274.4 194.7L279.4 196.7M274.4 194.7L274.0 200.1"/>
<path d="M282.5 189.7L283.1 174.2M283.1 174.2L286.1 178.8M283.1 174.2L279.7 178.5"/>
<path d="M282.5 171.4L267.2 169.3M267.2 169.3L272.0 166.7M267.2 169.3L271.1 173.1"/>
<path d="M282.5 153.0L267.2 150.9M267.2 150.9L272.0 148.3M267.2 150.9L271.1 154.7"/>
<path d="M282.5 134.5L267.2 132.3M267.2 132.3L272.0 129.7M267.2 132.3L271.1 136.1"/>
<path d="M282.5 115.8L267.2 113.6M267.2 113.6L272.0 111.0M267.2 113.6L271.1 117.4"/>
<path d="M282.5 96.9L267.2 94.7M267.2 94.7L272.0 92.2M267.2 94.7L271.1 98.6"/>
<path d="M282.5 77.9L267.2 75.7M267.2 75.7L272.0 73.1M267.2 75.7L271.1 79.5"/>
<path d="M282.5 58.7L267.2 56.5M267.2 56.5L272.0 53.9M267.2 56.5L271.1 60.3"/>
<path d="M282.5 39.3L267.2 37.1M267.2 37.1L272.0 34.5M267.2 37.1L271.1 40.9"/>
<path d="M299.4 570.5L304.7 555.9M304.7 555.9L306.2 561.2M304.7 555.9L300.1 559.0"/>
<path d="M299.4 553.6L303.3 538.6M303.3 538.6L305.3 543.7M303.3 538.6L299.0 542.1"/>
<path d="M299.4 536.7L310.5 525.9M310.5 525.9L309.5 531.3M310.5 525.9L305.0 526.7"/>
<path d="M299.4 519.8L313.6 513.5M313.6 513.5L310.8 518.3M313.6 513.5L308.2 512.4"/>
<path d="M299.4 502.9L313.0 495.4M313.0 495.4L310.6 500.4M313.0 495.4L307.5 494.7"/>
<path d="M299.4 486.0L313.0 478.5M313.0 478.5L310.6 483.5M313.0 478.5L307.5 477.8"/>
<path d="M299.4 469.0L313.0 461.5M313.0 461.5L310.6 466.5M313.0 461.5L307.5 460.9"/>
<path d="M299.4 452.1L312.5 443.8M312.5 443.8L310.5 448.9M312.5 443.8L307.1 443.5"/>
<path d="M299.4 435.0L311.6 425.5M311.6 425.5L310.1 430.8M311.6 425.5L306.1 425.7"/>
<path d="M299.4 418.0L306.4 404.1M306.4 404.1L307.3 409.6M306.4 404.1L301.5 406.6"/>
<path d="M299.4 400.8L296.7 385.6M296.7 385.6L300.7 389.4M296.7 385.6L294.3 390.5"/>
<path d="M299.4 383.7L291.6 370.3M291.6 370.3L296.7 372.5M291.6 370.3L291.1 375.7"/>
<path d="M299.4 366.5L289.4 354.6M289.4 354.6L294.8 355.9M289.4 354.6L289.8 360.1"/>
<path d="M299.4 349.2L284.8 343.9M284.8 343.9L290.1 342.3M284.8 343.9L287.9 348.4"/>
<path d="M299.4 331.8L284.4 327.8M284.4 327.8L289.6 325.8M284.4 327.8L287.9 332.1"/>
<path d="M299.4 314.4L284.2 311.4M284.2 311.4L289.2 309.1M284.2 311.4L287.9 315.4"/>
<path d="M299.4 296.9L284.1 294.7M284.1 294.7L288.9 292.1M284.1 294.7L288.0 298.5"/>
<path d="M299.4 279.3L283.9 278.2M283.9 278.2L288.6 275.3M283.9 278.2L288.2 281.7"/>
<path d="M299.4 261.6L283.9 261.6M283.9 261.6L288.3 258.3M283.9 261.6L288.3 264.8"/>
<path d="M299.4 243.8L285.3 237.4M285.3 237.4L290.6 236.3M285.3 237.4L288.0 242.2"/>
<path d="M299.4 225.8L289.0 214.3M289.0 214.3L294.4 215.5M289.0 214.3L289.6 219.8"/>
<path d="M299.4 207.8L286.2 199.7M286.2 199.7L291.7 199.3M286.2 199.7L288.3 204.7"/>
<path d="M299.4 189.7L284.1 187.5M284.1 187.5L288.9 184.9M284.1 187.5L288.0 191.3"/>
<path d="M299.4 171.4L284.1 169.3M284.1 169.3L288.9 166.7M284.1 169.3L288.0 173.1"/>
<path d="M299.4 153.0L284.1 150.9M284.1 150.9L288.9 148.3M284.1 150.9L288.0 154.7"/>
<path d="M299.4 134.5L284.1 132.3M284.1 132.3L288.9 129.7M284.1 132.3L288.0 136.1"/>
<path d="M299.4 115.8L284.1 113.6M284.1 113.6L288.9 111.0M284.1 113.6L288.0 117.4"/>
<path d="M299.4 96.9L284.1 94.7M284.1 94.7L288.9 92.2M284.1 94.7L288.0 98.6"/>
<path d="M299.4 77.9L284.1 75.7M284.1 75.7L288.9 73.1M284.1 75.7L288.0 79.5"/>
<path d="M299.4 58.7L284.1 56.5M284.1 56.5L288.9 53.9M284.1 56.5L288.0 60.3"/>
<path d="M299.4 39.3L284.1 42.0M284.1 42.0L288.0 38.0M284.1 42.0L289.1 44.4"/>
<path d="M316.3 570.5L321.6 555.9M321.6 555.9L323.1 561.2M321.6 555.9L317.0 559.0"/>
<path d="M316.3 553.6L318.2 538.2M318.2 538.2L320.9 543.1M318.2 538.2L314.5 542.2"/>
<path d="M316.3 536.7L326.1 524.7M326.1 524.7L325.8 530.2M326.1 524.7L320.8 526.1"/>
<path d="M316.3 519.8L330.9 514.8M330.9 514.8L327.8 519.3M330.9 514.8L325.7 513.2"/>
<path d="M316.3 502.9L330.4 496.6M330.4 496.6L327.7 501.4M330.4 496.6L325.1 495.5"/>
<path d="M316.3 486.0L329.8 478.5M329.8 478.5L327.5 483.5M329.8 478.5L324.4 477.8"/>
<path d="M316.3 469.0L329.4 460.8M329.4 460.8L327.4 465.9M329.4 460.8L323.9 460.4"/>
<path d="M316.3 452.1L328.5 442.5M328.5 442.5L327.0 447.8M328.5 442.5L323.0 442.7"/>
<path d="M316.3 435.0L325.4 422.5M325.4 422.5L325.4 428.0M325.4 422.5L320.2 424.2"/>
<path d="M316.3 418.0L319.2 402.7M319.2 402.7L321.6 407.7M319.2 402.7L315.2 406.5"/>
<path d="M316.3 400.8L314.1 385.5M314.1 385.5L317.9 389.5M314.1 385.5L311.5 390.4"/>
<path d="M316.3 383.7L312.0 368.8M312.0 368.8L316.3 372.2M312.0 368.8L310.1 373.9"/>
<path d="M316.3 366.5L311.0 351.9M311.0 351.9L315.5 355.0M311.0 351.9L309.5 357.2"/>
<path d="M316.3 349.2L303.1 341.0M303.1 341.0L308.6 340.6M303.1 341.0L305.2 346.1"/>
<path d="M316.3 331.8L301.7 326.5M301.7 326.5L307.0 325.0M301.7 326.5L304.8 331.1"/>
<path d="M316.3 314.4L301.1 311.4M301.1 311.4L306.0 309.1M301.1 311.4L304.8 315.4"/>
<path d="M316.3 296.9L300.9 294.7M300.9 294.7L305.8 292.1M300.9 294.7L304.9 298.5"/>
<path d="M316.3 279.3L300.8 278.2M300.8 278.2L305.5 275.3M300.8 278.2L305.0 281.7"/>
<path d="M316.3 261.6L300.8 262.6M300.8 262.6L305.0 259.1M300.8 262.6L305.5 265.5"/>
<path d="M316.3 243.8L300.9 245.6M300.9 245.6L304.9 241.9M300.9 245.6L305.7 248.3"/>
<path d="M316.3 225.8L300.8 224.8M300.8 224.8L305.5 221.9M300.8 224.8L305.0 228.3"/>
<path d="M316.3 207.8L300.9 205.7M300.9 205.7L305.8 203.1M300.9 205.7L304.9 209.5"/>
<path d="M316.3 189.7L305.0 179.0M305.0 179.0L310.5 179.7M305.0 179.0L306.0 184.4"/>
<path d="M316.3 171.4L300.9 169.3M300.9 169.3L305.8 166.7M300.9 169.3L304.9 173.1"/>
<path d="M316.3 153.0L300.9 150.9M300.9 150.9L305.8 148.3M300.9 150.9L304.9 154.7"/>
<path d="M316.3 134.5L300.9 132.3M300.9 132.3L305.8 129.7M300.9 132.3L304.9 136.1"/>
<path d="M316.3 115.8L300.9 113.6M300.9 113.6L305.8 111.0M300.9 113.6L304.9 117.4"/>
<path d="M316.3 96.9L301.0 99.6M301.0 99.6L304.8 95.6M301.0 99.6L306.0 102.0"/>
<path d="M316.3 77.9L301.0 80.6M301.0 80.6L304.8 76.6M301.0 80.6L306.0 83.0"/>
<path d="M316.3 58.7L301.0 61.4M301.0 61.4L304.8 57.4M301.0 61.4L306.0 63.8"/>
<path d="M316.3 39.3L301.0 42.0M301.0 42.0L304.8 38.0M301.0 42.0L306.0 44.4"/>
<path d="M333.2 570.5L347.8 565.5M347.8 565.5L344.7 570.0M347.8 565.5L342.6 563.8"/>
<path d="M333.2 553.6L332.6 538.1M332.6 538.1L336.0 542.5M332.6 538.1L329.5 542.7"/>
<path d="M333.2 536.7L340.8 523.2M340.8 523.2L341.4 528.7M340.8 523.2L335.8 525.5"/>
<path d="M333.2 519.8L347.6 514.3M347.6 514.3L344.6 518.9M347.6 514.3L342.3 512.9"/>
<path d="M333.2 502.9L347.7 497.6M347.7 497.6L344.6 502.2M347.7 497.6L342.4 496.1"/>
<path d="M333.2 486.0L347.6 480.4M347.6 480.4L344.6 485.1M347.6 480.4L342.3 479.0"/>
<path d="M333.2 469.0L346.0 460.4M346.0 460.4L344.1 465.5M346.0 460.4L340.5 460.2"/>
<path d="M333.2 452.1L345.2 442.3M345.2 442.3L343.8 447.6M345.2 442.3L339.7 442.6"/>
<path d="M333.2 435.0L341.8 422.2M341.8 422.2L342.0 427.7M341.8 422.2L336.7 424.1"/>
<path d="M333.2 418.0L335.3 402.6M335.3 402.6L337.9 407.5M335.3 402.6L331.5 406.6"/>
<path d="M333.2 400.8L331.8 385.4M331.8 385.4L335.4 389.6M331.8 385.4L329.0 390.1"/>
<path d="M333.2 383.7L331.0 368.3M331.0 368.3L334.8 372.3M331.0 368.3L328.4 373.2"/>
<path d="M333.2 366.5L328.9 351.6M328.9 351.6L333.2 354.9M328.9 351.6L327.0 356.7"/>
<path d="M333.2 349.2L322.6 337.8M322.6 337.8L328.0 338.9M322.6 337.8L323.3 343.3"/>
<path d="M333.2 331.8L319.7 324.1M319.7 324.1L325.2 323.5M319.7 324.1L322.0 329.1"/>
<path d="M333.2 314.4L318.0 311.1M318.0 311.1L323.0 308.9M318.0 311.1L321.7 315.2"/>
<path d="M333.2 296.9L318.0 293.6M318.0 293.6L323.0 291.4M318.0 293.6L321.7 297.7"/>
<path d="M333.2 279.3L317.8 277.1M317.8 277.1L322.7 274.5M317.8 277.1L321.8 280.9"/>
<path d="M333.2 261.6L317.8 263.4M317.8 263.4L321.8 259.7M317.8 263.4L322.6 266.1"/>
<path d="M333.2 243.8L317.8 245.6M317.8 245.6L321.8 241.9M317.8 245.6L322.6 248.3"/>
<path d="M333.2 225.8L317.7 224.8M317.7 224.8L322.4 221.9M317.7 224.8L321.9 228.3"/>
<path d="M333.2 207.8L317.8 205.7M317.8 205.7L322.7 203.1M317.8 205.7L321.8 209.5"/>
<path d="M333.2 189.7L318.4 185.0M318.4 185.0L323.6 183.2M318.4 185.0L321.6 189.4"/>
<path d="M333.2 171.4L324.2 158.8M324.2 158.8L329.4 160.5M324.2 158.8L324.1 164.3"/>
<path d="M333.2 153.0L317.9 155.7M317.9 155.7L321.7 151.7M317.9 155.7L322.8 158.1"/>
<path d="M333.2 134.5L317.9 137.2M317.9 137.2L321.7 133.2M317.9 137.2L322.8 139.6"/>
<path d="M333.2 115.8L317.9 118.4M317.9 118.4L321.7 114.5M317.9 118.4L322.8 120.9"/>
<path d="M333.2 96.9L317.9 99.6M317.9 99.6L321.7 95.6M317.9 99.6L322.8 102.0"/>
<path d="M333.2 77.9L317.9 80.6M317.9 80.6L321.7 76.6M317.9 80.6L322.8 83.0"/>
<path d="M333.2 58.7L317.9 61.4M317.9 61.4L321.7 57.4M317.9 61.4L322.8 63.8"/>
<path d="M333.2 39.3L317.9 42.0M317.9 42.0L321.7 38.0M317.9 42.0L322.8 44.4"/>
<path d="M350.0 570.5L364.7 565.5M364.7 565.5L361.5 570.0M364.7 565.5L359.4 563.8"/>
<path d="M350.0 553.6L346.4 538.6M346.4 538.6L350.6 542.1M346.4 538.6L344.3 543.7"/>
<path d="M350.0 536.7L353.5 521.6M353.5 521.6L355.6 526.7M353.5 521.6L349.3 525.2"/>
<path d="M350.0 519.8L364.2 513.4M364.2 513.4L361.4 518.2M364.2 513.4L358.8 512.3"/>
<path d="M350.0 502.9L364.9 498.4M364.9 498.4L361.6 502.8M364.9 498.4L359.7 496.6"/>
<path d="M350.0 486.0L364.9 481.7M364.9 481.7L361.6 486.1M364.9 481.7L359.8 479.8"/>
<path d="M350.0 469.0L362.9 460.4M362.9 460.4L361.0 465.5M362.9 460.4L357.4 460.2"/>
<path d="M350.0 452.1L361.0 441.1M361.0 441.1L360.1 446.5M361.0 441.1L355.6 442.0"/>
<path d="M350.0 435.0L357.8 421.6M357.8 421.6L358.4 427.1M357.8 421.6L352.8 423.8"/>
<path d="M350.0 418.0L352.2 402.6M352.2 402.6L354.8 407.5M352.2 402.6L348.4 406.6"/>
<path d="M350.0 400.8L348.4 385.4M348.4 385.4L352.1 389.5M348.4 385.4L345.7 390.2"/>
<path d="M350.0 383.7L348.4 368.3M348.4 368.3L352.1 372.4M348.4 368.3L345.7 373.0"/>
<path d="M350.0 366.5L346.0 351.5M346.0 351.5L350.3 354.9M346.0 351.5L344.1 356.6"/>
<path d="M350.0 349.2L345.3 334.4M345.3 334.4L349.7 337.7M345.3 334.4L343.6 339.7"/>
<path d="M350.0 331.8L337.3 322.9M337.3 322.9L342.8 322.8M337.3 322.9L339.1 328.1"/>
<path d="M350.0 314.4L335.0 310.6M335.0 310.6L340.1 308.6M335.0 310.6L338.5 314.8"/>
<path d="M350.0 296.9L334.9 293.6M334.9 293.6L339.9 291.4M334.9 293.6L338.6 297.7"/>
<path d="M350.0 279.3L334.7 277.1M334.7 277.1L339.5 274.5M334.7 277.1L338.6 280.9"/>
<path d="M350.0 261.6L334.8 264.5M334.8 264.5L338.6 260.5M334.8 264.5L339.8 266.8"/>
<path d="M350.0 243.8L334.8 246.4M334.8 246.4L338.6 242.5M334.8 246.4L339.7 248.9"/>
<path d="M350.0 225.8L334.5 225.3M334.5 225.3L339.1 222.2M334.5 225.3L338.9 228.7"/>
<path d="M350.0 207.8L334.7 205.7M334.7 205.7L339.5 203.1M334.7 205.7L338.6 209.5"/>
<path d="M350.0 189.7L334.5 189.1M334.5 189.1L339.1 186.1M334.5 189.1L338.9 192.5"/>
<path d="M350.0 171.4L336.4 164.0M336.4 164.0L341.9 163.3M336.4 164.0L338.8 169.0"/>
<path d="M350.0 153.0L334.8 155.7M334.8 155.7L338.6 151.7M334.8 155.7L339.7 158.1"/>
<path d="M350.0 134.5L334.8 137.2M334.8 137.2L338.6 133.2M334.8 137.2L339.7 139.6"/>
<path d="M350.0 115.8L334.8 118.4M334.8 118.4L338.6 114.5M334.8 118.4L339.7 120.9"/>
<path d="M350.0 96.9L334.8 99.6M334.8 99.6L338.6 95.6M334.8 99.6L339.7 102.0"/>
<path d="M350.0 77.9L334.8 80.6M334.8 80.6L338.6 76.6M334.8 80.6L339.7 83.0"/>
<path d="M350.0 58.7L334.8 61.4M334.8 61.4L338.6 57.4M334.8 61.4L339.7 63.8"/>
<path d="M350.0 39.3L334.8 42.0M334.8 42.0L338.6 38.0M334.8 42.0L339.7 44.4"/>
<path d="M366.9 570.5L381.7 566.0M381.7 566.0L378.4 570.4M381.7 566.0L376.5 564.2"/>
<path d="M366.9 553.6L359.7 539.9M359.7 539.9L364.7 542.3M359.7 539.9L358.9 545.3"/>
<path d="M366.9 536.7L363.2 521.7M363.2 521.7L367.4 525.2M363.2 521.7L361.1 526.8"/>
<path d="M366.9 519.8L380.2 511.9M380.2 511.9L378.1 517.0M380.2 511.9L374.8 511.4"/>
<path d="M366.9 502.9L381.7 498.1M381.7 498.1L378.4 502.6M381.7 498.1L376.4 496.4"/>
<path d="M366.9 486.0L382.1 482.8M382.1 482.8L378.4 486.9M382.1 482.8L377.1 480.5"/>
<path d="M366.9 469.0L379.8 460.4M379.8 460.4L377.9 465.5M379.8 460.4L374.3 460.2"/>
<path d="M366.9 452.1L377.9 441.1M377.9 441.1L377.0 446.5M377.9 441.1L372.4 442.0"/>
<path d="M366.9 435.0L374.0 421.2M374.0 421.2L374.8 426.6M374.0 421.2L369.1 423.7"/>
<path d="M366.9 418.0L369.1 402.6M369.1 402.6L371.7 407.5M369.1 402.6L365.3 406.6"/>
<path d="M366.9 400.8L368.0 385.4M368.0 385.4L370.9 390.0M368.0 385.4L364.5 389.6"/>
<path d="M366.9 383.7L366.4 368.2M366.4 368.2L369.8 372.5M366.4 368.2L363.3 372.7"/>
<path d="M366.9 366.5L364.8 351.1M364.8 351.1L368.6 355.1M364.8 351.1L362.2 356.0"/>
<path d="M366.9 349.2L364.0 333.9M364.0 333.9L368.0 337.7M364.0 333.9L361.6 338.9"/>
<path d="M366.9 331.8L356.0 320.8M356.0 320.8L361.4 321.7M356.0 320.8L356.8 326.3"/>
<path d="M366.9 314.4L352.0 310.1M352.0 310.1L357.2 308.2M352.0 310.1L355.4 314.4"/>
<path d="M366.9 296.9L351.6 294.7M351.6 294.7L356.4 292.1M351.6 294.7L355.5 298.5"/>
<path d="M366.9 279.3L351.5 277.9M351.5 277.9L356.2 275.1M351.5 277.9L355.6 281.5"/>
<path d="M366.9 261.6L351.9 265.6M351.9 265.6L355.4 261.3M351.9 265.6L357.1 267.5"/>
<path d="M366.9 243.8L351.9 247.8M351.9 247.8L355.4 243.5M351.9 247.8L357.1 249.7"/>
<path d="M366.9 225.8L351.4 226.4M351.4 226.4L355.8 223.0M351.4 226.4L356.0 229.5"/>
<path d="M366.9 207.8L351.6 205.7M351.6 205.7L356.4 203.1M351.6 205.7L355.5 209.5"/>
<path d="M366.9 189.7L351.7 192.4M351.7 192.4L355.5 188.4M351.7 192.4L356.6 194.8"/>
<path d="M366.9 171.4L351.6 169.2M351.6 169.2L356.4 166.7M351.6 169.2L355.5 173.1"/>
<path d="M366.9 153.0L355.0 143.1M355.0 143.1L360.5 143.4M355.0 143.1L356.4 148.4"/>
<path d="M366.9 134.5L351.7 137.2M351.7 137.2L355.5 133.2M351.7 137.2L356.6 139.6"/>
<path d="M366.9 115.8L351.7 118.4M351.7 118.4L355.5 114.5M351.7 118.4L356.6 120.9"/>
<path d="M366.9 96.9L351.7 99.6M351.7 99.6L355.5 95.6M351.7 99.6L356.6 102.0"/>
<path d="M366.9 77.9L351.7 80.6M351.7 80.6L355.5 76.6M351.7 80.6L356.6 83.0"/>
<path d="M366.9 58.7L351.7 61.4M351.7 61.4L355.5 57.4M351.7 61.4L356.6 63.8"/>
<path d="M366.9 39.3L351.5 37.9M351.5 37.9L356.2 35.1M351.5 37.9L355.6 41.5"/>
<path d="M383.8 570.5L398.6 566.0M398.6 566.0L395.3 570.4M398.6 566.0L393.4 564.2"/>
<path d="M383.8 553.6L373.3 542.2M373.3 542.2L378.7 543.3M373.3 542.2L374.0 547.6"/>
<path d="M383.8 536.7L373.1 525.5M373.1 525.5L378.5 526.5M373.1 525.5L373.8 531.0"/>
<path d="M383.8 519.8L394.4 508.6M394.4 508.6L393.7 514.0M394.4 508.6L389.0 509.6"/>
<path d="M383.8 502.9L398.3 497.5M398.3 497.5L395.3 502.1M398.3 497.5L393.0 496.1"/>
<path d="M383.8 486.0L398.6 481.4M398.6 481.4L395.3 485.8M398.6 481.4L393.4 479.6"/>
<path d="M383.8 469.0L398.3 463.5M398.3 463.5L395.3 468.1M398.3 463.5L393.0 462.1"/>
<path d="M383.8 452.1L394.8 441.1M394.8 441.1L393.9 446.5M394.8 441.1L389.3 442.0"/>
<path d="M383.8 435.0L389.1 420.5M389.1 420.5L390.6 425.7M389.1 420.5L384.5 423.5"/>
<path d="M383.8 418.0L383.8 402.5M383.8 402.5L387.0 406.9M383.8 402.5L380.6 406.9"/>
<path d="M383.8 400.8L384.3 385.4M384.3 385.4L387.4 389.9M384.3 385.4L381.0 389.7"/>
<path d="M383.8 383.7L383.8 368.2M383.8 368.2L387.0 372.6M383.8 368.2L380.6 372.6"/>
<path d="M383.8 366.5L383.3 351.0M383.3 351.0L386.6 355.3M383.3 351.0L380.2 355.5"/>
<path d="M383.8 349.2L379.8 334.2M379.8 334.2L384.1 337.7M379.8 334.2L377.8 339.3"/>
<path d="M383.8 331.8L371.4 322.5M371.4 322.5L376.9 322.6M371.4 322.5L373.0 327.7"/>
<path d="M383.8 314.4L369.2 309.1M369.2 309.1L374.5 307.6M369.2 309.1L372.3 313.6"/>
<path d="M383.8 296.9L371.4 287.5M371.4 287.5L376.9 287.6M371.4 287.5L373.0 292.8"/>
<path d="M383.8 279.3L368.3 279.3M368.3 279.3L372.7 276.0M368.3 279.3L372.7 282.5"/>
<path d="M383.8 261.6L369.1 266.3M369.1 266.3L372.3 261.9M369.1 266.3L374.3 268.0"/>
<path d="M383.8 243.8L369.2 249.1M369.2 249.1L372.3 244.5M369.2 249.1L374.5 250.6"/>
<path d="M383.8 225.8L368.5 228.5M368.5 228.5L372.4 224.6M368.5 228.5L373.5 230.9"/>
<path d="M383.8 207.8L368.3 207.8M368.3 207.8L372.7 204.6M368.3 207.8L372.7 211.1"/>
<path d="M383.8 189.7L368.8 193.7M368.8 193.7L372.3 189.4M368.8 193.7L374.0 195.7"/>
<path d="M383.8 171.4L368.3 172.5M368.3 172.5L372.5 169.0M368.3 172.5L373.0 175.4"/>
<path d="M383.8 153.0L368.8 148.9M368.8 148.9L374.0 147.0M368.8 148.9L372.3 153.2"/>
<path d="M383.8 134.5L368.8 138.5M368.8 138.5L372.3 134.2M368.8 138.5L374.0 140.4"/>
<path d="M383.8 115.8L368.8 119.8M368.8 119.8L372.3 115.5M368.8 119.8L374.0 121.7"/>
<path d="M383.8 96.9L368.8 100.9M368.8 100.9L372.3 96.6M368.8 100.9L374.0 102.9"/>
<path d="M383.8 77.9L371.9 87.8M371.9 87.8L373.3 82.5M371.9 87.8L377.4 87.4"/>
<path d="M383.8 58.7L368.4 57.3M368.4 57.3L373.1 54.5M368.4 57.3L372.5 60.9"/>
<path d="M383.8 39.3L368.4 37.9M368.4 37.9L373.1 35.1M368.4 37.9L372.5 41.5"/>
<path d="M400.7 570.5L385.2 570.5M385.2 570.5L389.6 567.3M385.2 570.5L389.6 573.7"/>
<path d="M400.7 553.6L387.8 545.0M387.8 545.0L393.3 544.8M387.8 545.0L389.7 550.2"/>
<path d="M400.7 536.7L386.6 530.2M386.6 530.2L392.0 529.1M386.6 530.2L389.3 535.0"/>
<path d="M400.7 519.8L398.4 504.5M398.4 504.5L402.2 508.4M398.4 504.5L395.8 509.4"/>
<path d="M400.7 502.9L413.6 494.3M413.6 494.3L411.7 499.5M413.6 494.3L408.1 494.1"/>
<path d="M400.7 486.0L413.8 477.8M413.8 477.8L411.8 482.9M413.8 477.8L408.4 477.4"/>
<path d="M400.7 469.0L414.2 461.5M414.2 461.5L411.9 466.5M414.2 461.5L408.8 460.9"/>
<path d="M400.7 452.1L414.5 445.0M414.5 445.0L412.0 449.9M414.5 445.0L409.1 444.2"/>
<path d="M400.7 435.0L400.7 419.5M400.7 419.5L403.9 424.0M400.7 419.5L397.4 424.0"/>
<path d="M400.7 418.0L398.0 402.7M398.0 402.7L401.9 406.5M398.0 402.7L395.6 407.6"/>
<path d="M400.7 400.8L401.8 385.4M401.8 385.4L404.7 390.0M401.8 385.4L398.2 389.6"/>
<path d="M400.7 383.7L401.8 368.2M401.8 368.2L404.7 372.9M401.8 368.2L398.2 372.4"/>
<path d="M400.7 366.5L402.8 351.1M402.8 351.1L405.4 356.0M402.8 351.1L399.0 355.1"/>
<path d="M400.7 349.2L400.7 333.7M400.7 333.7L403.9 338.1M400.7 333.7L397.4 338.1"/>
<path d="M400.7 331.8L387.3 324.1M387.3 324.1L392.7 323.5M387.3 324.1L389.5 329.1"/>
<path d="M400.7 314.4L386.4 308.3M386.4 308.3L391.8 307.1M386.4 308.3L389.2 313.0"/>
<path d="M400.7 296.9L385.2 295.5M385.2 295.5L390.0 292.7M385.2 295.5L389.4 299.1"/>
<path d="M400.7 279.3L385.4 281.9M385.4 281.9L389.2 278.0M385.4 281.9L390.4 284.4"/>
<path d="M400.7 261.6L387.0 268.8M387.0 268.8L389.4 263.9M387.0 268.8L392.4 269.6"/>
<path d="M400.7 243.8L386.4 249.8M386.4 249.8L389.2 245.1M386.4 249.8L391.8 251.0"/>
<path d="M400.7 225.8L386.1 231.1M386.1 231.1L389.2 226.6M386.1 231.1L391.4 232.7"/>
<path d="M400.7 207.8L385.7 211.8M385.7 211.8L389.2 207.6M385.7 211.8L390.8 213.8"/>
<path d="M400.7 189.7L386.1 195.0M386.1 195.0L389.2 190.4M386.1 195.0L391.4 196.5"/>
<path d="M400.7 171.4L385.8 175.9M385.8 175.9L389.2 171.5M385.8 175.9L391.0 177.7"/>
<path d="M400.7 153.0L385.2 152.5M385.2 152.5L389.7 149.4M385.2 152.5L389.5 155.9"/>
<path d="M400.7 134.5L386.7 127.8M386.7 127.8L392.1 126.8M386.7 127.8L389.3 132.6"/>
<path d="M400.7 115.8L389.2 126.1M389.2 126.1L390.3 120.7M389.2 126.1L394.6 125.6"/>
<path d="M400.7 96.9L388.8 106.9M388.8 106.9L390.1 101.5M388.8 106.9L394.3 106.5"/>
<path d="M400.7 77.9L389.2 88.2M389.2 88.2L390.3 82.9M389.2 88.2L394.6 87.7"/>
<path d="M400.7 58.7L385.2 57.3M385.2 57.3L390.0 54.5M385.2 57.3L389.4 60.9"/>
<path d="M400.7 39.3L385.2 37.9M385.2 37.9L390.0 35.1M385.2 37.9L389.4 41.5"/>
<path d="M417.6 570.5L402.1 570.5M402.1 570.5L406.5 567.3M402.1 570.5L406.5 573.7"/>
<path d="M417.6 553.6L403.2 547.8M403.2 547.8L408.5 546.5M403.2 547.8L406.1 552.5"/>
<path d="M417.6 536.7L402.4 533.4M402.4 533.4L407.5 531.2M402.4 533.4L406.1 537.5"/>
<path d="M417.6 519.8L402.9 514.9M402.9 514.9L408.1 513.2M402.9 514.9L406.1 519.4"/>
<path d="M417.6 502.9L403.2 497.2M403.2 497.2L408.5 495.8M403.2 497.2L406.1 501.8"/>
<path d="M417.6 486.0L414.7 470.8M414.7 470.8L418.7 474.5M414.7 470.8L412.4 475.7"/>
<path d="M417.6 469.0L427.7 457.3M427.7 457.3L427.2 462.8M427.7 457.3L422.3 458.6"/>
<path d="M417.6 452.1L421.4 437.0M421.4 437.0L423.5 442.2M421.4 437.0L417.2 440.5"/>
<path d="M417.6 435.0L414.9 419.8M414.9 419.8L418.8 423.6M414.9 419.8L412.5 424.7"/>
<path d="M417.6 418.0L416.6 402.5M416.6 402.5L420.1 406.7M416.6 402.5L413.7 407.1"/>
<path d="M417.6 400.8L422.9 386.3M422.9 386.3L424.4 391.6M422.9 386.3L418.3 389.4"/>
<path d="M417.6 383.7L421.6 368.7M421.6 368.7L423.5 373.8M421.6 368.7L417.3 372.2"/>
<path d="M417.6 366.5L422.9 351.9M422.9 351.9L424.4 357.2M422.9 351.9L418.3 355.0"/>
<path d="M417.6 349.2L418.9 333.7M418.9 333.7L421.7 338.4M418.9 333.7L415.3 337.9"/>
<path d="M417.6 331.8L409.8 318.4M409.8 318.4L414.8 320.6M409.8 318.4L409.2 323.9"/>
<path d="M417.6 314.4L405.7 304.4M405.7 304.4L411.2 304.8M405.7 304.4L407.0 309.7"/>
<path d="M417.6 296.9L403.0 291.6M403.0 291.6L408.3 290.0M403.0 291.6L406.1 296.1"/>
<path d="M417.6 279.3L403.0 284.6M403.0 284.6L406.1 280.0M403.0 284.6L408.3 286.1"/>
<path d="M417.6 261.6L404.0 269.1M404.0 269.1L406.3 264.1M404.0 269.1L409.5 269.7"/>
<path d="M417.6 243.8L403.4 250.1M403.4 250.1L406.2 245.3M403.4 250.1L408.8 251.2"/>
<path d="M417.6 225.8L404.9 234.7M404.9 234.7L406.7 229.5M404.9 234.7L410.4 234.8"/>
<path d="M417.6 207.8L403.5 214.4M403.5 214.4L406.2 209.6M403.5 214.4L408.9 215.4"/>
<path d="M417.6 189.7L404.9 198.6M404.9 198.6L406.7 193.4M404.9 198.6L410.4 198.7"/>
<path d="M417.6 171.4L403.8 178.6M403.8 178.6L406.3 173.6M403.8 178.6L409.3 179.4"/>
<path d="M417.6 153.0L402.2 154.9M402.2 154.9L406.2 151.2M402.2 154.9L407.0 157.6"/>
<path d="M417.6 134.5L402.2 132.3M402.2 132.3L407.1 129.7M402.2 132.3L406.2 136.1"/>
<path d="M417.6 115.8L405.1 106.5M405.1 106.5L410.6 106.6M405.1 106.5L406.8 111.8"/>
<path d="M417.6 96.9L406.0 107.3M406.0 107.3L407.2 101.9M406.0 107.3L411.5 106.7"/>
<path d="M417.6 77.9L402.1 76.5M402.1 76.5L406.8 73.7M402.1 76.5L406.3 80.1"/>
<path d="M417.6 58.7L402.1 57.3M402.1 57.3L406.8 54.5M402.1 57.3L406.3 60.9"/>
<path d="M417.6 39.3L402.1 37.9M402.1 37.9L406.8 35.1M402.1 37.9L406.3 41.5"/>
<path d="M434.4 570.5L418.9 570.5M418.9 570.5L423.4 567.3M418.9 570.5L423.4 573.7"/>
<path d="M434.4 553.6L419.3 550.2M419.3 550.2L424.4 548.0M419.3 550.2L422.9 554.3"/>
<path d="M434.4 536.7L419.0 535.4M419.0 535.4L423.7 532.6M419.0 535.4L423.2 539.0"/>
<path d="M434.4 519.8L419.0 518.8M419.0 518.8L423.6 515.9M419.0 518.8L423.2 522.3"/>
<path d="M434.4 502.9L419.0 501.9M419.0 501.9L423.6 498.9M419.0 501.9L423.2 505.4"/>
<path d="M434.4 486.0L420.1 480.1M420.1 480.1L425.4 478.8M420.1 480.1L423.0 484.8"/>
<path d="M434.4 469.0L429.9 454.2M429.9 454.2L434.3 457.5M429.9 454.2L428.1 459.4"/>
<path d="M434.4 452.1L425.8 439.2M425.8 439.2L430.9 441.1M425.8 439.2L425.6 444.7"/>
<path d="M434.4 435.0L429.1 420.5M429.1 420.5L433.7 423.5M429.1 420.5L427.6 425.7"/>
<path d="M434.4 418.0L438.7 403.1M438.7 403.1L440.6 408.2M438.7 403.1L434.4 406.4"/>
<path d="M434.4 400.8L446.7 391.3M446.7 391.3L445.1 396.6M446.7 391.3L441.2 391.5"/>
<path d="M434.4 383.7L442.7 370.5M442.7 370.5L443.0 376.0M442.7 370.5L437.6 372.6"/>
<path d="M434.4 366.5L443.6 353.9M443.6 353.9L443.6 359.4M443.6 353.9L438.3 355.6"/>
<path d="M434.4 349.2L437.1 333.9M437.1 333.9L439.5 338.8M437.1 333.9L433.2 337.7"/>
<path d="M434.4 331.8L428.4 317.5M428.4 317.5L433.1 320.4M428.4 317.5L427.1 322.9"/>
<path d="M434.4 314.4L425.1 302.0M425.1 302.0L430.4 303.6M425.1 302.0L425.2 307.5"/>
<path d="M434.4 296.9L419.9 302.2M419.9 302.2L423.0 297.6M419.9 302.2L425.2 303.7"/>
<path d="M434.4 279.3L424.9 291.5M424.9 291.5L425.1 286.0M424.9 291.5L430.2 289.9"/>
<path d="M434.4 261.6L423.5 272.5M423.5 272.5L424.3 267.1M423.5 272.5L428.9 271.7"/>
<path d="M434.4 243.8L422.2 253.3M422.2 253.3L423.7 248.0M422.2 253.3L427.7 253.1"/>
<path d="M434.4 225.8L424.5 237.7M424.5 237.7L424.9 232.2M424.5 237.7L429.8 236.4"/>
<path d="M434.4 207.8L422.7 218.0M422.7 218.0L424.0 212.6M422.7 218.0L428.2 217.5"/>
<path d="M434.4 189.7L423.5 200.6M423.5 200.6L424.3 195.2M423.5 200.6L428.9 199.8"/>
<path d="M434.4 171.4L422.9 181.8M422.9 181.8L424.1 176.4M422.9 181.8L428.4 181.2"/>
<path d="M434.4 153.0L420.3 159.3M420.3 159.3L423.0 154.5M420.3 159.3L425.6 160.4"/>
<path d="M434.4 134.5L418.9 134.5M418.9 134.5L423.4 131.2M418.9 134.5L423.4 137.7"/>
<path d="M434.4 115.8L419.4 112.0M419.4 112.0L424.5 109.9M419.4 112.0L422.9 116.2"/>
<path d="M434.4 96.9L422.9 107.3M422.9 107.3L424.1 101.9M422.9 107.3L428.4 106.7"/>
<path d="M434.4 77.9L419.0 76.5M419.0 76.5L423.7 73.7M419.0 76.5L423.1 80.1"/>
<path d="M434.4 58.7L419.0 57.3M419.0 57.3L423.7 54.5M419.0 57.3L423.1 60.9"/>
<path d="M434.4 39.3L419.9 34.0M419.9 34.0L425.2 32.4M419.9 34.0L423.0 38.5"/>
<path d="M451.3 570.5L435.8 570.5M435.8 570.5L440.3 567.3M435.8 570.5L440.3 573.7"/>
<path d="M451.3 553.6L435.9 552.1M435.9 552.1L440.6 549.3M435.9 552.1L440.0 555.8"/>
<path d="M451.3 536.7L435.8 536.7M435.8 536.7L440.3 533.5M435.8 536.7L440.3 540.0"/>
<path d="M451.3 519.8L435.8 519.8M435.8 519.8L440.3 516.6M435.8 519.8L440.3 523.1"/>
<path d="M451.3 502.9L435.8 502.9M435.8 502.9L440.3 499.7M435.8 502.9L440.3 506.2"/>
<path d="M451.3 486.0L437.4 479.1M437.4 479.1L442.9 478.2M437.4 479.1L440.0 484.0"/>
<path d="M451.3 469.0L442.0 456.7M442.0 456.7L447.3 458.3M442.0 456.7L442.1 462.2"/>
<path d="M451.3 452.1L442.7 439.2M442.7 439.2L447.8 441.1M442.7 439.2L442.5 444.7"/>
<path d="M451.3 435.0L448.6 419.8M448.6 419.8L452.6 423.6M448.6 419.8L446.2 424.7"/>
<path d="M451.3 418.0L455.1 402.9M455.1 402.9L457.1 408.0M455.1 402.9L450.9 406.5"/>
<path d="M451.3 400.8L455.1 385.8M455.1 385.8L457.1 390.9M455.1 385.8L450.9 389.3"/>
<path d="M451.3 383.7L460.9 371.5M460.9 371.5L460.7 377.0M460.9 371.5L455.6 373.0"/>
<path d="M451.3 366.5L461.5 354.8M461.5 354.8L461.0 360.2M461.5 354.8L456.1 356.0"/>
<path d="M451.3 349.2L457.1 334.8M457.1 334.8L458.5 340.1M457.1 334.8L452.5 337.7"/>
<path d="M451.3 331.8L451.9 316.3M451.9 316.3L454.9 320.9M451.9 316.3L448.5 320.6"/>
<path d="M451.3 314.4L447.3 299.4M447.3 299.4L451.6 302.9M447.3 299.4L445.3 304.5"/>
<path d="M451.3 296.9L435.8 296.9M435.8 296.9L440.3 293.6M435.8 296.9L440.3 300.1"/>
<path d="M451.3 279.3L444.0 292.9M444.0 292.9L443.3 287.5M444.0 292.9L449.0 290.5"/>
<path d="M451.3 261.6L444.3 275.4M444.3 275.4L443.4 269.9M444.3 275.4L449.2 272.9"/>
<path d="M451.3 243.8L444.0 257.4M444.0 257.4L443.3 252.0M444.0 257.4L449.0 255.0"/>
<path d="M451.3 225.8L449.2 241.2M449.2 241.2L446.6 236.3M449.2 241.2L453.0 237.2"/>
<path d="M451.3 207.8L441.4 219.7M441.4 219.7L441.7 214.2M441.4 219.7L446.7 218.4"/>
<path d="M451.3 189.7L442.7 202.5M442.7 202.5L442.5 197.0M442.7 202.5L447.8 200.7"/>
<path d="M451.3 171.4L442.4 184.1M442.4 184.1L442.3 178.6M442.4 184.1L447.6 182.3"/>
<path d="M451.3 153.0L439.4 163.0M439.4 163.0L440.8 157.6M439.4 163.0L444.9 162.6"/>
<path d="M451.3 134.5L436.3 138.2M436.3 138.2L439.8 134.0M436.3 138.2L441.4 140.3"/>
<path d="M451.3 115.8L435.9 114.4M435.9 114.4L440.6 111.6M435.9 114.4L440.0 118.0"/>
<path d="M451.3 96.9L437.0 90.9M437.0 90.9L442.4 89.7M437.0 90.9L439.9 95.6"/>
<path d="M451.3 77.9L435.9 76.5M435.9 76.5L440.6 73.7M435.9 76.5L440.0 80.1"/>
<path d="M451.3 58.7L435.9 57.3M435.9 57.3L440.6 54.5M435.9 57.3L440.0 60.9"/>
<path d="M451.3 39.3L436.8 34.0M436.8 34.0L442.0 32.4M436.8 34.0L439.8 38.5"/>
<path d="M468.2 570.5L452.7 570.5M452.7 570.5L457.1 567.3M452.7 570.5L457.1 573.7"/>
<path d="M468.2 553.6L452.7 553.6M452.7 553.6L457.1 550.4M452.7 553.6L457.1 556.9"/>
<path d="M468.2 536.7L452.7 536.7M452.7 536.7L457.1 533.5M452.7 536.7L457.1 540.0"/>
<path d="M468.2 519.8L452.7 519.8M452.7 519.8L457.1 516.6M452.7 519.8L457.1 523.1"/>
<path d="M468.2 502.9L452.7 502.9M452.7 502.9L457.1 499.7M452.7 502.9L457.1 506.2"/>
<path d="M468.2 486.0L452.9 483.3M452.9 483.3L457.9 480.9M452.9 483.3L456.8 487.3"/>
<path d="M468.2 469.0L458.9 456.7M458.9 456.7L464.1 458.3M458.9 456.7L459.0 462.2"/>
<path d="M468.2 452.1L458.9 439.7M458.9 439.7L464.1 441.3M458.9 439.7L459.0 445.2"/>
<path d="M468.2 435.0L466.8 419.6M466.8 419.6L470.5 423.7M466.8 419.6L464.0 424.3"/>
<path d="M468.2 418.0L468.7 402.5M468.7 402.5L471.8 407.0M468.7 402.5L465.4 406.8"/>
<path d="M468.2 400.8L469.6 385.4M469.6 385.4L472.4 390.1M469.6 385.4L465.9 389.6"/>
<path d="M468.2 383.7L473.8 369.2M473.8 369.2L475.2 374.5M473.8 369.2L469.1 372.2"/>
<path d="M468.2 366.5L474.1 352.1M474.1 352.1L475.4 357.5M474.1 352.1L469.4 355.0"/>
<path d="M468.2 349.2L469.0 333.7M469.0 333.7L472.0 338.3M469.0 333.7L465.5 338.0"/>
<path d="M468.2 331.8L467.7 316.3M467.7 316.3L471.1 320.7M467.7 316.3L464.6 320.9"/>
<path d="M468.2 314.4L464.8 299.3M464.8 299.3L468.9 302.9M464.8 299.3L462.6 304.3"/>
<path d="M468.2 296.9L453.2 292.8M453.2 292.8L458.4 290.8M453.2 292.8L456.7 297.1"/>
<path d="M468.2 279.3L460.8 292.9M460.8 292.9L460.1 287.4M460.8 292.9L465.8 290.5"/>
<path d="M468.2 261.6L464.0 276.5M464.0 276.5L462.1 271.3M464.0 276.5L468.3 273.1"/>
<path d="M468.2 243.8L461.3 257.6M461.3 257.6L460.4 252.2M461.3 257.6L466.2 255.1"/>
<path d="M468.2 225.8L462.9 240.4M462.9 240.4L461.4 235.1M462.9 240.4L467.5 237.3"/>
<path d="M468.2 207.8L455.7 216.9M455.7 216.9L457.4 211.7M455.7 216.9L461.2 216.9"/>
<path d="M468.2 189.7L456.7 200.1M456.7 200.1L457.8 194.7M456.7 200.1L462.2 199.5"/>
<path d="M468.2 171.4L457.2 182.4M457.2 182.4L458.1 176.9M457.2 182.4L462.7 181.5"/>
<path d="M468.2 153.0L456.7 163.4M456.7 163.4L457.8 158.0M456.7 163.4L462.2 162.8"/>
<path d="M468.2 134.5L456.7 144.8M456.7 144.8L457.8 139.5M456.7 144.8L462.2 144.3"/>
<path d="M468.2 115.8L452.7 116.9M452.7 116.9L456.9 113.3M452.7 116.9L457.4 119.8"/>
<path d="M468.2 96.9L452.9 94.2M452.9 94.2L457.9 91.8M452.9 94.2L456.8 98.1"/>
<path d="M468.2 77.9L452.8 76.5M452.8 76.5L457.5 73.7M452.8 76.5L456.9 80.1"/>
<path d="M468.2 58.7L453.6 53.4M453.6 53.4L458.9 51.8M453.6 53.4L456.7 57.9"/>
<path d="M468.2 39.3L453.6 34.0M453.6 34.0L458.9 32.4M453.6 34.0L456.7 38.5"/>
<path d="M485.1 570.5L469.6 570.5M469.6 570.5L474.0 567.3M469.6 570.5L474.0 573.7"/>
<path d="M485.1 553.6L469.6 553.6M469.6 553.6L474.0 550.4M469.6 553.6L474.0 556.9"/>
<path d="M485.1 536.7L469.6 536.7M469.6 536.7L474.0 533.5M469.6 536.7L474.0 540.0"/>
<path d="M485.1 519.8L469.6 519.8M469.6 519.8L474.0 516.6M469.6 519.8L474.0 523.1"/>
<path d="M485.1 502.9L469.6 502.9M469.6 502.9L474.0 499.7M469.6 502.9L474.0 506.2"/>
<path d="M485.1 486.0L469.6 484.6M469.6 484.6L474.4 481.8M469.6 484.6L473.8 488.3"/>
<path d="M485.1 469.0L473.2 459.1M473.2 459.1L478.7 459.5M473.2 459.1L474.5 464.4"/>
<path d="M485.1 452.1L473.2 442.1M473.2 442.1L478.7 442.5M473.2 442.1L474.5 447.4"/>
<path d="M485.1 435.0L485.1 419.5M485.1 419.5L488.3 424.0M485.1 419.5L481.8 424.0"/>
<path d="M485.1 418.0L485.1 402.5M485.1 402.5L488.3 406.9M485.1 402.5L481.8 406.9"/>
<path d="M485.1 400.8L485.1 385.3M485.1 385.3L488.3 389.8M485.1 385.3L481.8 389.8"/>
<path d="M485.1 383.7L486.2 368.2M486.2 368.2L489.1 372.9M486.2 368.2L482.6 372.4"/>
<path d="M485.1 366.5L486.2 351.0M486.2 351.0L489.1 355.7M486.2 351.0L482.6 355.2"/>
<path d="M485.1 349.2L484.9 333.7M484.9 333.7L488.2 338.1M484.9 333.7L481.7 338.2"/>
<path d="M485.1 314.4L482.3 299.1M482.3 299.1L486.2 302.9M482.3 299.1L479.9 304.1"/>
<path d="M485.1 296.9L472.2 288.3M472.2 288.3L477.6 288.1M472.2 288.3L474.1 293.5"/>
<path d="M485.1 279.3L477.6 292.8M477.6 292.8L476.9 287.4M477.6 292.8L482.6 290.5"/>
<path d="M485.1 261.6L484.1 277.0M484.1 277.0L481.2 272.4M484.1 277.0L487.6 272.8"/>
<path d="M485.1 243.8L481.0 258.7M481.0 258.7L479.1 253.6M481.0 258.7L485.3 255.3"/>
<path d="M485.1 225.8L478.3 239.8M478.3 239.8L477.3 234.4M478.3 239.8L483.1 237.2"/>
<path d="M485.1 207.8L472.7 217.2M472.7 217.2L474.3 211.9M472.7 217.2L478.2 217.1"/>
<path d="M485.1 189.7L475.3 201.7M475.3 201.7L475.6 196.2M475.3 201.7L480.6 200.3"/>
<path d="M485.1 171.4L472.6 180.6M472.6 180.6L474.3 175.4M472.6 180.6L478.1 180.6"/>
<path d="M485.1 153.0L472.8 162.5M472.8 162.5L474.4 157.2M472.8 162.5L478.3 162.3"/>
<path d="M485.1 134.5L473.1 144.4M473.1 144.4L474.5 139.0M473.1 144.4L478.6 144.0"/>
<path d="M485.1 115.8L471.0 122.3M471.0 122.3L473.7 117.5M471.0 122.3L476.4 123.4"/>
<path d="M485.1 96.9L469.6 95.5M469.6 95.5L474.4 92.7M469.6 95.5L473.8 99.2"/>
<path d="M485.1 77.9L470.1 73.8M470.1 73.8L475.3 71.9M470.1 73.8L473.6 78.1"/>
<path d="M485.1 58.7L470.5 53.4M470.5 53.4L475.8 51.8M470.5 53.4L473.6 57.9"/>
<path d="M485.1 39.3L470.5 34.0M470.5 34.0L475.8 32.4M470.5 34.0L473.6 38.5"/>
<path d="M502.0 570.5L486.5 570.5M486.5 570.5L490.9 567.3M486.5 570.5L490.9 573.7"/>
<path d="M502.0 553.6L486.5 552.3M486.5 552.3L491.2 549.4M486.5 552.3L490.7 555.9"/>
<path d="M502.0 536.7L486.5 536.7M486.5 536.7L490.9 533.5M486.5 536.7L490.9 540.0"/>
<path d="M502.0 519.8L486.5 519.8M486.5 519.8L490.9 516.6M486.5 519.8L490.9 523.1"/>
<path d="M502.0 502.9L486.5 502.9M486.5 502.9L490.9 499.7M486.5 502.9L490.9 506.2"/>
<path d="M502.0 486.0L486.5 486.0M486.5 486.0L490.9 482.8M486.5 486.0L490.9 489.2"/>
<path d="M502.0 469.0L488.4 461.5M488.4 461.5L493.9 460.9M488.4 461.5L490.7 466.5"/>
<path d="M502.0 452.1L488.5 444.3M488.5 444.3L494.0 443.7M488.5 444.3L490.8 449.3"/>
<path d="M502.0 435.0L504.7 419.8M504.7 419.8L507.1 424.7M504.7 419.8L500.7 423.6"/>
<path d="M502.0 418.0L508.0 403.7M508.0 403.7L509.3 409.1M508.0 403.7L503.3 406.5"/>
<path d="M502.0 400.8L507.3 386.3M507.3 386.3L508.8 391.6M507.3 386.3L502.7 389.4"/>
<path d="M502.0 383.7L504.7 368.4M504.7 368.4L507.1 373.4M504.7 368.4L500.7 372.2"/>
<path d="M502.0 314.4L498.1 299.4M498.1 299.4L502.3 302.9M498.1 299.4L496.1 304.5"/>
<path d="M502.0 296.9L492.4 284.7M492.4 284.7L497.7 286.2M492.4 284.7L492.6 290.2"/>
<path d="M502.0 279.3L494.0 292.6M494.0 292.6L493.5 287.1M494.0 292.6L499.1 290.4"/>
<path d="M502.0 261.6L504.3 276.9M504.3 276.9L500.4 273.0M504.3 276.9L506.8 272.0"/>
<path d="M502.0 243.8L501.1 259.2M501.1 259.2L498.2 254.6M501.1 259.2L504.6 255.0"/>
<path d="M502.0 225.8L495.7 240.0M495.7 240.0L494.5 234.6M495.7 240.0L500.4 237.3"/>
<path d="M502.0 207.8L493.7 221.0M493.7 221.0L493.4 215.5M493.7 221.0L498.8 218.9"/>
<path d="M502.0 189.7L494.2 203.1M494.2 203.1L493.6 197.6M494.2 203.1L499.2 200.9"/>
<path d="M502.0 171.4L488.3 178.7M488.3 178.7L490.7 173.7M488.3 178.7L493.7 179.5"/>
<path d="M502.0 153.0L489.0 161.6M489.0 161.6L491.0 156.4M489.0 161.6L494.5 161.8"/>
<path d="M502.0 134.5L489.6 143.9M489.6 143.9L491.2 138.6M489.6 143.9L495.1 143.7"/>
<path d="M502.0 115.8L487.0 119.8M487.0 119.8L490.4 115.5M487.0 119.8L492.1 121.7"/>
<path d="M502.0 96.9L486.6 94.7M486.6 94.7L491.5 92.2M486.6 94.7L490.6 98.6"/>
<path d="M502.0 77.9L487.0 73.9M487.0 73.9L492.1 71.9M487.0 73.9L490.4 78.1"/>
<path d="M502.0 58.7L487.4 53.4M487.4 53.4L492.7 51.8M487.4 53.4L490.5 57.9"/>
<path d="M502.0 39.3L487.4 34.0M487.4 34.0L492.7 32.4M487.4 34.0L490.5 38.5"/>
<path d="M518.8 570.5L503.3 570.5M503.3 570.5L507.8 567.3M503.3 570.5L507.8 573.7"/>
<path d="M518.8 553.6L503.6 550.9M503.6 550.9L508.5 548.5M503.6 550.9L507.4 554.9"/>
<path d="M518.8 536.7L503.3 536.7M503.3 536.7L507.8 533.5M503.3 536.7L507.8 540.0"/>
<path d="M518.8 519.8L503.3 519.8M503.3 519.8L507.8 516.6M503.3 519.8L507.8 523.1"/>
<path d="M518.8 502.9L503.3 502.9M503.3 502.9L507.8 499.7M503.3 502.9L507.8 506.2"/>
<path d="M518.8 486.0L503.3 486.0M503.3 486.0L507.8 482.8M503.3 486.0L507.8 489.2"/>
<path d="M518.8 469.0L505.3 461.5M505.3 461.5L510.7 460.9M505.3 461.5L507.6 466.5"/>
<path d="M518.8 452.1L512.5 437.9M512.5 437.9L517.3 440.6M512.5 437.9L511.4 443.3"/>
<path d="M518.8 435.0L520.4 419.6M520.4 419.6L523.2 424.4M520.4 419.6L516.7 423.7"/>
<path d="M518.8 400.8L522.4 385.8M522.4 385.8L524.5 390.8M522.4 385.8L518.2 389.3"/>
<path d="M518.8 331.8L511.3 318.3M511.3 318.3L516.3 320.6M511.3 318.3L510.6 323.7"/>
<path d="M518.8 314.4L512.1 300.4M512.1 300.4L516.9 303.0M512.1 300.4L511.1 305.8"/>
<path d="M518.8 296.9L512.8 282.6M512.8 282.6L517.5 285.4M512.8 282.6L511.5 287.9"/>
<path d="M518.8 279.3L504.4 284.9M504.4 284.9L507.4 280.3M504.4 284.9L509.7 286.3"/>
<path d="M518.8 261.6L524.1 276.1M524.1 276.1L519.6 273.0M524.1 276.1L525.7 270.8"/>
<path d="M518.8 243.8L524.6 258.1M524.6 258.1L520.0 255.2M524.6 258.1L526.0 252.8"/>
<path d="M518.8 225.8L518.0 241.3M518.0 241.3L515.0 236.7M518.0 241.3L521.5 237.1"/>
<path d="M518.8 207.8L515.9 223.0M515.9 223.0L513.6 218.1M515.9 223.0L519.9 219.3"/>
<path d="M518.8 189.7L514.8 204.7M514.8 204.7L512.9 199.5M514.8 204.7L519.1 201.2"/>
<path d="M518.8 171.4L512.3 185.5M512.3 185.5L511.2 180.1M512.3 185.5L517.1 182.8"/>
<path d="M518.8 153.0L507.0 163.0M507.0 163.0L508.3 157.6M507.0 163.0L512.5 162.6"/>
<path d="M518.8 134.5L506.1 143.3M506.1 143.3L507.9 138.1M506.1 143.3L511.6 143.4"/>
<path d="M518.8 115.8L503.4 117.1M503.4 117.1L507.5 113.5M503.4 117.1L508.1 119.9"/>
<path d="M518.8 96.9L503.9 92.9M503.9 92.9L509.0 90.9M503.9 92.9L507.3 97.2"/>
<path d="M518.8 77.9L504.1 73.1M504.1 73.1L509.3 71.4M504.1 73.1L507.3 77.5"/>
<path d="M518.8 58.7L504.3 53.4M504.3 53.4L509.6 51.8M504.3 53.4L507.4 57.9"/>
<path d="M518.8 39.3L504.3 34.0M504.3 34.0L509.6 32.4M504.3 34.0L507.4 38.5"/>
<path d="M535.7 570.5L521.2 565.2M521.2 565.2L526.4 563.7M521.2 565.2L524.2 569.8"/>
<path d="M535.7 553.6L520.8 549.6M520.8 549.6L525.9 547.6M520.8 549.6L524.2 553.9"/>
<path d="M535.7 536.7L520.2 536.7M520.2 536.7L524.7 533.5M520.2 536.7L524.7 540.0"/>
<path d="M535.7 519.8L520.2 519.8M520.2 519.8L524.7 516.6M520.2 519.8L524.7 523.1"/>
<path d="M535.7 502.9L520.2 502.4M520.2 502.4L524.8 499.3M520.2 502.4L524.6 505.8"/>
<path d="M535.7 486.0L520.2 485.5M520.2 485.5L524.8 482.4M520.2 485.5L524.6 488.8"/>
<path d="M535.7 469.0L522.6 460.8M522.6 460.8L528.1 460.4M522.6 460.8L524.6 465.9"/>
<path d="M535.7 452.1L525.9 440.1M525.9 440.1L531.2 441.5M525.9 440.1L526.2 445.6"/>
<path d="M535.7 435.0L532.6 419.8M532.6 419.8L536.7 423.6M532.6 419.8L530.4 424.8"/>
<path d="M535.7 331.8L524.7 320.9M524.7 320.9L530.1 321.8M524.7 320.9L525.6 326.4"/>
<path d="M535.7 314.4L524.8 303.4M524.8 303.4L530.2 304.3M524.8 303.4L525.6 308.8"/>
<path d="M535.7 296.9L527.7 283.6M527.7 283.6L532.8 285.7M527.7 283.6L527.3 289.0"/>
<path d="M535.7 279.3L520.5 281.9M520.5 281.9L524.3 278.0M520.5 281.9L525.4 284.4"/>
<path d="M535.7 261.6L545.7 273.4M545.7 273.4L540.3 272.1M545.7 273.4L545.3 267.9"/>
<path d="M535.7 243.8L544.6 256.4M544.6 256.4L539.4 254.7M544.6 256.4L544.7 251.0"/>
<path d="M535.7 225.8L542.8 239.7M542.8 239.7L537.9 237.2M542.8 239.7L543.6 234.2"/>
<path d="M535.7 207.8L538.4 223.1M538.4 223.1L534.5 219.3M538.4 223.1L540.8 218.1"/>
<path d="M535.7 189.7L536.3 205.2M536.3 205.2L532.9 200.8M536.3 205.2L539.3 200.6"/>
<path d="M535.7 171.4L528.4 185.1M528.4 185.1L527.7 179.7M528.4 185.1L533.4 182.7"/>
<path d="M535.7 153.0L523.0 161.9M523.0 161.9L524.8 156.7M523.0 161.9L528.5 162.0"/>
<path d="M535.7 134.5L521.7 141.0M521.7 141.0L524.3 136.2M521.7 141.0L527.1 142.1"/>
<path d="M535.7 115.8L520.2 115.8M520.2 115.8L524.7 112.5M520.2 115.8L524.7 119.0"/>
<path d="M535.7 96.9L521.2 91.6M521.2 91.6L526.4 90.1M521.2 91.6L524.2 96.2"/>
<path d="M535.7 77.9L521.6 71.6M521.6 71.6L526.9 70.4M521.6 71.6L524.3 76.3"/>
<path d="M535.7 58.7L521.9 51.6M521.9 51.6L527.3 50.8M521.9 51.6L524.4 56.5"/>
<path d="M535.7 39.3L521.2 34.0M521.2 34.0L526.4 32.4M521.2 34.0L524.2 38.5"/>
<path d="M552.6 570.5L539.2 562.8M539.2 562.8L544.6 562.2M539.2 562.8L541.4 567.8"/>
<path d="M552.6 553.6L538.0 548.3M538.0 548.3L543.3 546.8M538.0 548.3L541.1 552.9"/>
<path d="M552.6 536.7L537.2 535.4M537.2 535.4L541.9 532.6M537.2 535.4L541.3 539.0"/>
<path d="M552.6 519.8L537.1 519.3M537.1 519.3L541.7 516.2M537.1 519.3L541.4 522.7"/>
<path d="M552.6 502.9L537.3 500.2M537.3 500.2L542.3 497.8M537.3 500.2L541.2 504.2"/>
<path d="M552.6 486.0L537.2 484.6M537.2 484.6L541.9 481.8M537.2 484.6L541.3 488.3"/>
<path d="M552.6 469.0L538.9 461.8M538.9 461.8L544.4 461.0M538.9 461.8L541.3 466.7"/>
<path d="M552.6 452.1L539.3 444.1M539.3 444.1L544.8 443.6M539.3 444.1L541.5 449.1"/>
<path d="M552.6 435.0L543.1 422.8M543.1 422.8L548.4 424.3M543.1 422.8L543.3 428.3"/>
<path d="M552.6 366.5L539.6 358.1M539.6 358.1L545.1 357.8M539.6 358.1L541.6 363.2"/>
<path d="M552.6 349.2L539.0 341.7M539.0 341.7L544.5 341.0M539.0 341.7L541.4 346.6"/>
<path d="M552.6 331.8L539.5 323.6M539.5 323.6L544.9 323.2M539.5 323.6L541.5 328.7"/>
<path d="M552.6 314.4L541.3 303.8M541.3 303.8L546.7 304.5M541.3 303.8L542.3 309.2"/>
<path d="M552.6 296.9L543.5 284.3M543.5 284.3L548.7 286.0M543.5 284.3L543.5 289.8"/>
<path d="M552.6 279.3L564.5 269.3M564.5 269.3L563.1 274.6M564.5 269.3L559.0 269.7"/>
<path d="M552.6 261.6L567.2 266.9M567.2 266.9L561.9 268.4M567.2 266.9L564.1 262.3"/>
<path d="M552.6 243.8L566.0 251.5M566.0 251.5L560.6 252.1M566.0 251.5L563.8 246.5"/>
<path d="M552.6 225.8L563.0 237.4M563.0 237.4L557.6 236.2M563.0 237.4L562.4 231.9"/>
<path d="M552.6 207.8L560.6 221.1M560.6 221.1L555.5 219.0M560.6 221.1L561.1 215.6"/>
<path d="M552.6 189.7L556.6 204.7M556.6 204.7L552.3 201.2M556.6 204.7L558.6 199.5"/>
<path d="M552.6 171.4L545.3 185.1M545.3 185.1L544.6 179.7M545.3 185.1L550.3 182.7"/>
<path d="M552.6 153.0L539.2 160.8M539.2 160.8L541.4 155.7M539.2 160.8L544.6 161.3"/>
<path d="M552.6 134.5L538.0 139.8M538.0 139.8L541.1 135.2M538.0 139.8L543.3 141.3"/>
<path d="M552.6 115.8L537.2 114.4M537.2 114.4L541.9 111.6M537.2 114.4L541.3 118.0"/>
<path d="M552.6 96.9L538.6 90.3M538.6 90.3L544.0 89.3M538.6 90.3L541.2 95.2"/>
<path d="M552.6 77.9L539.2 70.1M539.2 70.1L544.6 69.5M539.2 70.1L541.4 75.1"/>
<path d="M552.6 58.7L539.7 50.0M539.7 50.0L545.2 49.8M539.7 50.0L541.6 55.2"/>
<path d="M552.6 39.3L539.7 30.6M539.7 30.6L545.2 30.4M539.7 30.6L541.6 35.8"/>
<path d="M569.5 570.5L556.1 562.8M556.1 562.8L561.5 562.2M556.1 562.8L558.3 567.8"/>
<path d="M569.5 553.6L556.2 545.6M556.2 545.6L561.7 545.2M556.2 545.6L558.3 550.7"/>
<path d="M569.5 536.7L554.5 532.7M554.5 532.7L559.6 530.8M554.5 532.7L558.0 537.0"/>
<path d="M569.5 519.8L554.2 517.1M554.2 517.1L559.2 514.7M554.2 517.1L558.0 521.1"/>
<path d="M569.5 502.9L555.8 495.7M555.8 495.7L561.2 494.9M555.8 495.7L558.2 500.6"/>
<path d="M569.5 486.0L554.1 483.8M554.1 483.8L559.0 481.3M554.1 483.8L558.1 487.7"/>
<path d="M569.5 469.0L555.3 462.7M555.3 462.7L560.7 461.6M555.3 462.7L558.1 467.5"/>
<path d="M569.5 452.1L555.1 446.2M555.1 446.2L560.5 444.9M555.1 446.2L558.0 450.8"/>
<path d="M569.5 435.0L556.0 427.3M556.0 427.3L561.5 426.7M556.0 427.3L558.3 432.3"/>
<path d="M569.5 418.0L557.5 408.2M557.5 408.2L563.0 408.5M557.5 408.2L558.9 413.5"/>
<path d="M569.5 400.8L555.8 393.5M555.8 393.5L561.3 392.8M555.8 393.5L558.2 398.5"/>
<path d="M569.5 383.7L554.9 378.4M554.9 378.4L560.2 376.9M554.9 378.4L558.0 382.9"/>
<path d="M569.5 366.5L555.4 359.9M555.4 359.9L560.8 358.9M555.4 359.9L558.1 364.7"/>
<path d="M569.5 349.2L556.6 340.5M556.6 340.5L562.1 340.3M556.6 340.5L558.5 345.7"/>
<path d="M569.5 331.8L556.9 322.7M556.9 322.7L562.4 322.7M556.9 322.7L558.6 327.9"/>
<path d="M569.5 314.4L559.5 302.5M559.5 302.5L564.9 303.8M559.5 302.5L559.9 308.0"/>
<path d="M569.5 296.9L567.1 281.5M567.1 281.5L570.9 285.4M567.1 281.5L564.6 286.4"/>
<path d="M569.5 279.3L581.2 269.1M581.2 269.1L579.9 274.4M581.2 269.1L575.7 269.6"/>
<path d="M569.5 261.6L585.0 262.1M585.0 262.1L580.4 265.2M585.0 262.1L580.6 258.7"/>
<path d="M569.5 243.8L584.8 246.2M584.8 246.2L579.9 248.7M584.8 246.2L580.9 242.3"/>
<path d="M569.5 225.8L584.3 230.4M584.3 230.4L579.1 232.2M584.3 230.4L581.0 226.0"/>
<path d="M569.5 207.8L582.8 215.8M582.8 215.8L577.3 216.3M582.8 215.8L580.6 210.7"/>
<path d="M569.5 189.7L576.3 203.6M576.3 203.6L571.4 201.0M576.3 203.6L577.2 198.2"/>
<path d="M569.5 171.4L561.7 184.8M561.7 184.8L561.2 179.4M561.7 184.8L566.8 182.6"/>
<path d="M569.5 153.0L554.9 158.3M554.9 158.3L558.0 153.7M554.9 158.3L560.2 159.8"/>
<path d="M569.5 134.5L554.2 137.2M554.2 137.2L558.0 133.2M554.2 137.2L559.2 139.6"/>
<path d="M569.5 115.8L554.2 113.1M554.2 113.1L559.2 110.7M554.2 113.1L558.0 117.0"/>
<path d="M569.5 96.9L555.7 89.7M555.7 89.7L561.2 88.9M555.7 89.7L558.2 94.7"/>
<path d="M569.5 77.9L556.4 69.5M556.4 69.5L561.9 69.2M556.4 69.5L558.4 74.7"/>
<path d="M569.5 58.7L556.9 49.7M556.9 49.7L562.4 49.6M556.9 49.7L558.6 54.9"/>
<path d="M569.5 39.3L556.6 30.6M556.6 30.6L562.1 30.4M556.6 30.6L558.5 35.8"/>
<path d="M586.4 570.5L572.3 563.9M572.3 563.9L577.7 562.9M572.3 563.9L575.0 568.8"/>
<path d="M586.4 553.6L571.3 550.1M571.3 550.1L576.3 548.0M571.3 550.1L574.9 554.3"/>
<path d="M586.4 536.7L571.4 532.7M571.4 532.7L576.5 530.8M571.4 532.7L574.8 537.0"/>
<path d="M586.4 519.8L571.2 516.6M571.2 516.6L576.2 514.4M571.2 516.6L574.9 520.7"/>
<path d="M586.4 502.9L571.5 498.7M571.5 498.7L576.6 496.8M571.5 498.7L574.8 503.0"/>
<path d="M586.4 486.0L571.0 483.8M571.0 483.8L575.9 481.3M571.0 483.8L575.0 487.7"/>
<path d="M586.4 469.0L571.8 463.7M571.8 463.7L577.1 462.2M571.8 463.7L574.9 468.3"/>
<path d="M586.4 452.1L571.8 446.8M571.8 446.8L577.1 445.2M571.8 446.8L574.9 451.3"/>
<path d="M586.4 435.0L571.4 431.0M571.4 431.0L576.5 429.0M571.4 431.0L574.8 435.3"/>
<path d="M586.4 418.0L571.8 412.7M571.8 412.7L577.1 411.1M571.8 412.7L574.9 417.2"/>
<path d="M586.4 400.8L571.7 395.8M571.7 395.8L577.0 394.2M571.7 395.8L574.9 400.3"/>
<path d="M586.4 383.7L571.7 378.6M571.7 378.6L577.0 377.0M571.7 378.6L574.9 383.1"/>
<path d="M586.4 366.5L572.1 360.4M572.1 360.4L577.5 359.2M572.1 360.4L574.9 365.1"/>
<path d="M586.4 349.2L573.1 341.2M573.1 341.2L578.6 340.7M573.1 341.2L575.2 346.2"/>
<path d="M586.4 331.8L573.4 323.4M573.4 323.4L578.9 323.1M573.4 323.4L575.3 328.5"/>
<path d="M586.4 314.4L576.4 302.5M576.4 302.5L581.7 303.8M576.4 302.5L576.8 308.0"/>
<path d="M586.4 296.9L586.9 281.4M586.9 281.4L590.0 285.9M586.9 281.4L583.5 285.7"/>
<path d="M586.4 279.3L598.1 269.1M598.1 269.1L596.8 274.4M598.1 269.1L592.6 269.6"/>
<path d="M586.4 261.6L600.8 256.0M600.8 256.0L597.8 260.6M600.8 256.0L595.5 254.6"/>
<path d="M586.4 243.8L601.3 239.7M601.3 239.7L597.9 244.0M601.3 239.7L596.2 237.8"/>
<path d="M586.4 225.8L601.8 224.5M601.8 224.5L597.7 228.1M601.8 224.5L597.1 221.7"/>
<path d="M586.4 207.8L601.9 207.3M601.9 207.3L597.5 210.7M601.9 207.3L597.3 204.2"/>
<path d="M586.4 189.7L600.6 195.7M600.6 195.7L595.3 197.0M600.6 195.7L597.8 191.0"/>
<path d="M586.4 171.4L587.7 186.9M587.7 186.9L584.1 182.7M587.7 186.9L590.5 182.1"/>
<path d="M586.4 153.0L570.9 153.0M570.9 153.0L575.3 149.8M570.9 153.0L575.3 156.2"/>
<path d="M586.4 134.5L571.1 131.8M571.1 131.8L576.0 129.4M571.1 131.8L574.9 135.7"/>
<path d="M586.4 115.8L571.8 110.5M571.8 110.5L577.1 108.9M571.8 110.5L574.9 115.0"/>
<path d="M586.4 96.9L572.9 89.1M572.9 89.1L578.4 88.6M572.9 89.1L575.2 94.2"/>
<path d="M586.4 77.9L573.7 69.0M573.7 69.0L579.2 68.9M573.7 69.0L575.5 74.2"/>
<path d="M586.4 58.7L574.0 49.3M574.0 49.3L579.5 49.4M574.0 49.3L575.6 54.6"/>
<path d="M586.4 39.3L574.0 29.9M574.0 29.9L579.5 30.0M574.0 29.9L575.6 35.2"/>
<path d="M603.2 570.5L588.7 565.2M588.7 565.2L594.0 563.7M588.7 565.2L591.8 569.8"/>
<path d="M603.2 553.6L588.3 549.6M588.3 549.6L593.4 547.6M588.3 549.6L591.7 553.9"/>
<path d="M603.2 536.7L588.2 533.0M588.2 533.0L593.3 530.9M588.2 533.0L591.7 537.2"/>
<path d="M603.2 519.8L588.1 516.6M588.1 516.6L593.1 514.4M588.1 516.6L591.8 520.7"/>
<path d="M603.2 502.9L588.1 499.7M588.1 499.7L593.1 497.5M588.1 499.7L591.8 503.8"/>
<path d="M603.2 486.0L588.0 483.3M588.0 483.3L592.9 480.9M588.0 483.3L591.8 487.3"/>
<path d="M603.2 469.0L588.7 463.7M588.7 463.7L594.0 462.2M588.7 463.7L591.8 468.3"/>
<path d="M603.2 452.1L588.7 446.8M588.7 446.8L594.0 445.2M588.7 446.8L591.8 451.3"/>
<path d="M603.2 435.0L588.1 431.5M588.1 431.5L593.2 429.4M588.1 431.5L591.7 435.7"/>
<path d="M603.2 418.0L588.3 413.7M588.3 413.7L593.5 411.8M588.3 413.7L591.7 418.0"/>
<path d="M603.2 400.8L588.3 396.6M588.3 396.6L593.5 394.7M588.3 396.6L591.7 400.9"/>
<path d="M603.2 383.7L588.6 378.6M588.6 378.6L593.8 377.0M588.6 378.6L591.7 383.1"/>
<path d="M603.2 366.5L589.0 360.4M589.0 360.4L594.3 359.2M589.0 360.4L591.8 365.1"/>
<path d="M603.2 349.2L589.6 341.9M589.6 341.9L595.0 341.1M589.6 341.9L592.0 346.8"/>
<path d="M603.2 331.8L590.2 323.4M590.2 323.4L595.7 323.1M590.2 323.4L592.2 328.5"/>
<path d="M603.2 314.4L592.7 303.0M592.7 303.0L598.1 304.1M592.7 303.0L593.3 308.5"/>
<path d="M603.2 296.9L601.9 281.4M601.9 281.4L605.5 285.6M601.9 281.4L599.1 286.1"/>
<path d="M603.2 279.3L611.2 266.0M611.2 266.0L611.7 271.4M611.2 266.0L606.2 268.1"/>
<path d="M603.2 261.6L615.8 252.4M615.8 252.4L614.1 257.7M615.8 252.4L610.3 252.4"/>
<path d="M603.2 243.8L616.5 235.8M616.5 235.8L614.4 240.8M616.5 235.8L611.0 235.3"/>
<path d="M603.2 225.8L615.6 216.5M615.6 216.5L614.0 221.8M615.6 216.5L610.1 216.6"/>
<path d="M603.2 207.8L615.5 198.3M615.5 198.3L613.9 203.6M615.5 198.3L610.0 198.5"/>
<path d="M603.2 189.7L611.5 176.5M611.5 176.5L611.8 182.0M611.5 176.5L606.4 178.6"/>
<path d="M603.2 171.4L597.4 157.0M597.4 157.0L602.1 160.0M597.4 157.0L596.1 162.4"/>
<path d="M603.2 153.0L589.8 145.3M589.8 145.3L595.3 144.7M589.8 145.3L592.1 150.3"/>
<path d="M603.2 134.5L589.2 127.9M589.2 127.9L594.6 126.9M589.2 127.9L591.9 132.7"/>
<path d="M603.2 115.8L589.8 108.0M589.8 108.0L595.3 107.4M589.8 108.0L592.1 113.0"/>
<path d="M603.2 96.9L591.8 86.4M591.8 86.4L597.3 87.0M591.8 86.4L592.9 91.8"/>
<path d="M603.2 77.9L590.9 68.4M590.9 68.4L596.4 68.6M590.9 68.4L592.5 73.7"/>
<path d="M603.2 58.7L591.1 49.0M591.1 49.0L596.6 49.3M591.1 49.0L592.6 54.3"/>
<path d="M603.2 39.3L591.4 29.3M591.4 29.3L596.9 29.7M591.4 29.3L592.7 34.6"/>
<path d="M620.1 570.5L605.3 565.8M605.3 565.8L610.6 564.1M605.3 565.8L608.6 570.3"/>
<path d="M620.1 553.6L605.1 549.6M605.1 549.6L610.3 547.6M605.1 549.6L608.6 553.9"/>
<path d="M620.1 536.7L605.0 533.5M605.0 533.5L610.0 531.3M605.0 533.5L608.6 537.6"/>
<path d="M620.1 519.8L605.0 516.6M605.0 516.6L610.0 514.4M605.0 516.6L608.6 520.7"/>
<path d="M620.1 502.9L605.0 499.7M605.0 499.7L610.0 497.5M605.0 499.7L608.6 503.8"/>
<path d="M620.1 486.0L604.9 483.3M604.9 483.3L609.8 480.9M604.9 483.3L608.7 487.3"/>
<path d="M620.1 469.0L605.6 463.7M605.6 463.7L610.8 462.2M605.6 463.7L608.6 468.3"/>
<path d="M620.1 452.1L605.6 446.8M605.6 446.8L610.8 445.2M605.6 446.8L608.6 451.3"/>
<path d="M620.1 435.0L605.0 431.8M605.0 431.8L610.0 429.6M605.0 431.8L608.6 435.9"/>
<path d="M620.1 418.0L605.1 413.9M605.1 413.9L610.3 412.0M605.1 413.9L608.6 418.2"/>
<path d="M620.1 400.8L605.1 396.8M605.1 396.8L610.3 394.9M605.1 396.8L608.6 401.1"/>
<path d="M620.1 383.7L605.5 378.6M605.5 378.6L610.7 377.0M605.5 378.6L608.6 383.1"/>
<path d="M620.1 366.5L605.6 361.2M605.6 361.2L610.8 359.6M605.6 361.2L608.6 365.7"/>
<path d="M620.1 349.2L605.9 343.1M605.9 343.1L611.2 341.9M605.9 343.1L608.7 347.8"/>
<path d="M620.1 331.8L606.0 325.5M606.0 325.5L611.3 324.4M606.0 325.5L608.7 330.3"/>
<path d="M620.1 314.4L606.7 306.6M606.7 306.6L612.2 306.0M606.7 306.6L608.9 311.6"/>
<path d="M620.1 296.9L613.1 283.0M613.1 283.0L618.0 285.5M613.1 283.0L612.2 288.5"/>
<path d="M620.1 279.3L623.9 264.2M623.9 264.2L625.9 269.3M623.9 264.2L619.7 267.7"/>
<path d="M620.1 261.6L629.0 248.9M629.0 248.9L629.1 254.4M629.0 248.9L623.8 250.6"/>
<path d="M620.1 243.8L630.1 231.9M630.1 231.9L629.7 237.4M630.1 231.9L624.7 233.2"/>
<path d="M620.1 225.8L629.0 213.1M629.0 213.1L629.1 218.6M629.0 213.1L623.8 214.9"/>
<path d="M620.1 207.8L627.9 194.4M627.9 194.4L628.4 199.9M627.9 194.4L622.8 196.6"/>
<path d="M620.1 189.7L622.3 174.3M622.3 174.3L624.9 179.2M622.3 174.3L618.5 178.3"/>
<path d="M620.1 171.4L614.6 156.9M614.6 156.9L619.2 159.9M614.6 156.9L613.1 162.3"/>
<path d="M620.1 153.0L609.2 142.0M609.2 142.0L614.6 142.9M609.2 142.0L610.0 147.5"/>
<path d="M620.1 134.5L608.2 124.5M608.2 124.5L613.7 124.9M608.2 124.5L609.6 129.8"/>
<path d="M620.1 115.8L610.2 103.9M610.2 103.9L615.5 105.2M610.2 103.9L610.5 109.4"/>
<path d="M620.1 96.9L611.2 84.2M611.2 84.2L616.4 86.0M611.2 84.2L611.1 89.7"/>
<path d="M620.1 77.9L608.2 67.9M608.2 67.9L613.7 68.3M608.2 67.9L609.6 73.2"/>
<path d="M620.1 58.7L608.2 48.7M608.2 48.7L613.7 49.1M608.2 48.7L609.6 54.0"/>
<path d="M620.1 39.3L608.2 29.3M608.2 29.3L613.7 29.7M608.2 29.3L609.6 34.6"/>
<path d="M637.0 570.5L622.0 566.5M622.0 566.5L627.2 564.5M622.0 566.5L625.5 570.8"/>
<path d="M637.0 553.6L622.0 549.6M622.0 549.6L627.2 547.6M622.0 549.6L625.5 553.9"/>
<path d="M637.0 536.7L621.8 533.5M621.8 533.5L626.9 531.3M621.8 533.5L625.5 537.6"/>
<path d="M637.0 519.8L621.7 517.1M621.7 517.1L626.7 514.7M621.7 517.1L625.6 521.1"/>
<path d="M637.0 502.9L621.7 500.8M621.7 500.8L626.5 498.2M621.7 500.8L625.6 504.6"/>
<path d="M637.0 486.0L621.7 483.3M621.7 483.3L626.7 480.9M621.7 483.3L625.6 487.3"/>
<path d="M637.0 469.0L622.4 463.7M622.4 463.7L627.7 462.2M622.4 463.7L625.5 468.3"/>
<path d="M637.0 452.1L622.4 446.8M622.4 446.8L627.7 445.2M622.4 446.8L625.5 451.3"/>
<path d="M637.0 435.0L621.7 432.3M621.7 432.3L626.7 429.9M621.7 432.3L625.6 436.3"/>
<path d="M637.0 418.0L622.0 414.2M622.0 414.2L627.1 412.1M622.0 414.2L625.5 418.4"/>
<path d="M637.0 400.8L622.0 396.8M622.0 396.8L627.2 394.9M622.0 396.8L625.5 401.1"/>
<path d="M637.0 383.7L622.4 378.4M622.4 378.4L627.7 376.9M622.4 378.4L625.5 382.9"/>
<path d="M637.0 366.5L622.7 360.4M622.7 360.4L628.1 359.2M622.7 360.4L625.6 365.1"/>
<path d="M637.0 349.2L622.7 343.1M622.7 343.1L628.1 341.9M622.7 343.1L625.6 347.8"/>
<path d="M637.0 331.8L623.0 325.3M623.0 325.3L628.4 324.2M623.0 325.3L625.6 330.1"/>
<path d="M637.0 314.4L623.0 307.8M623.0 307.8L628.4 306.8M623.0 307.8L625.6 312.6"/>
<path d="M637.0 296.9L626.6 285.3M626.6 285.3L632.0 286.5M626.6 285.3L627.2 290.8"/>
<path d="M637.0 279.3L634.8 263.9M634.8 263.9L638.7 267.9M634.8 263.9L632.3 268.8"/>
<path d="M637.0 261.6L644.3 247.9M644.3 247.9L645.0 253.3M644.3 247.9L639.3 250.3"/>
<path d="M637.0 243.8L645.2 230.6M645.2 230.6L645.6 236.1M645.2 230.6L640.1 232.7"/>
<path d="M637.0 225.8L644.3 212.2M644.3 212.2L645.0 217.6M644.3 212.2L639.3 214.6"/>
<path d="M637.0 207.8L642.3 193.3M642.3 193.3L643.8 198.5M642.3 193.3L637.7 196.3"/>
<path d="M637.0 189.7L637.0 174.2M637.0 174.2L640.2 178.6M637.0 174.2L633.8 178.6"/>
<path d="M637.0 171.4L634.3 156.1M634.3 156.1L638.3 160.0M634.3 156.1L631.9 161.1"/>
<path d="M637.0 153.0L630.4 139.0M630.4 139.0L635.3 141.6M630.4 139.0L629.4 144.4"/>
<path d="M637.0 134.5L628.1 121.8M628.1 121.8L633.3 123.6M628.1 121.8L628.0 127.3"/>
<path d="M637.0 115.8L628.1 103.1M628.1 103.1L633.3 104.9M628.1 103.1L628.0 108.6"/>
<path d="M637.0 96.9L628.1 84.2M628.1 84.2L633.3 86.0M628.1 84.2L628.0 89.7"/>
<path d="M637.0 77.9L627.0 66.0M627.0 66.0L632.4 67.3M627.0 66.0L627.4 71.5"/>
<path d="M637.0 58.7L626.0 47.7M626.0 47.7L631.5 48.6M626.0 47.7L626.9 53.1"/>
<path d="M637.0 39.3L626.0 28.3M626.0 28.3L631.5 29.2M626.0 28.3L626.9 33.7"/>
</g>
<g fill="#c0c0c0" stroke="#000" stroke-width="0.9" stroke-linejoin="round">
<polygon points="111.0,36.0 509.0,36.0 509.0,38.0 504.0,43.0 501.0,50.0 500.0,57.0 497.0,63.0 495.0,68.0 490.0,72.0 488.0,75.0 486.0,80.0 482.0,83.0 478.0,88.0 474.0,93.0 470.0,97.0 468.0,101.0 467.0,107.0 465.0,114.0 464.0,119.0 467.0,123.0 462.0,126.0 456.0,129.0 452.0,133.0 448.0,135.0 444.0,139.0 439.0,143.0 434.0,147.0 430.0,152.0 425.0,156.0 420.0,160.0 425.5,155.2 420.3,159.0 415.2,161.0 411.3,162.9 410.0,168.1 406.1,171.3 399.7,173.2 393.2,174.5 388.1,173.9 382.9,175.8 379.7,175.2 375.2,177.1 370.0,179.0 364.8,180.3 361.0,175.8 359.0,170.0 356.5,169.4 357.7,174.5 359.0,179.7 360.3,184.8 357.7,186.8 354.5,185.5 352.6,180.3 350.0,179.7 351.3,185.5 351.9,188.7 348.1,190.6 342.9,192.6 337.7,191.9 332.6,193.9 330.0,195.2 329.0,194.0 323.0,197.0 318.0,198.0 313.0,200.0 308.0,201.0 305.0,205.0 304.0,210.0 307.0,211.0 308.0,217.0 305.0,220.0 300.0,220.0 297.0,214.0 295.0,207.0 298.0,201.0 296.0,198.0 291.0,195.0 287.0,198.0 283.0,198.0 278.0,194.0 274.0,192.0 269.0,196.0 265.0,198.0 260.0,200.0 257.0,204.0 250.0,206.0 243.0,207.0 242.0,211.0 242.0,216.0 238.0,222.0 232.0,226.0 229.0,232.0 227.0,238.0 226.0,244.0 228.0,248.0 231.0,253.0 236.0,258.0 240.0,263.0 241.0,268.0 244.0,274.0 250.0,280.0 256.0,285.0 262.0,289.0 265.0,291.0 272.5,297.5 275.0,301.0 280.0,307.0 283.0,315.0 285.0,323.0 287.0,331.0 288.0,339.0 289.0,349.0 287.0,357.0 285.0,365.0 283.0,373.0 279.0,378.0 273.0,382.0 268.0,385.0 265.0,387.0 259.0,391.0 253.0,394.0 248.0,395.0 246.0,399.0 242.0,401.0 240.0,407.0 235.0,410.0 229.0,414.0 223.0,417.0 219.0,420.0 215.0,422.0 212.0,423.0 213.0,417.0 213.0,409.0 215.0,401.0 211.0,398.0 207.0,395.0 201.0,392.0 196.0,390.0 194.0,383.0 190.0,381.0 187.0,387.0 183.0,383.0 180.0,376.0 178.0,370.0 175.0,364.0 170.0,359.0 165.0,356.0 160.0,354.0 153.0,355.0 146.0,355.0 143.0,351.0 145.0,346.0 147.0,341.0 140.0,339.0 131.0,342.0 130.0,349.0 130.0,357.0 128.0,365.0 125.0,373.0 122.0,381.0 119.0,389.0 117.0,397.0 116.0,403.0 115.9,405.3 118.0,409.5 119.6,413.7 123.8,413.2 127.5,413.7 128.5,417.9 129.1,422.1 130.6,425.8 134.3,428.4 135.9,432.6 136.4,437.9 137.5,443.2 139.6,447.4 141.7,450.5 144.8,452.6 149.1,454.2 153.3,453.2 156.9,455.3 160.1,458.9 162.7,462.1 165.4,465.3 169.1,466.3 171.2,468.4 171.0,466.0 177.0,472.0 182.0,478.0 186.0,484.0 188.0,491.0 188.0,499.0 187.0,507.0 189.0,514.0 191.0,521.0 195.0,527.0 198.0,533.0 201.0,540.0 202.0,545.0 198.0,548.0 193.0,548.0 190.0,547.0 185.0,545.0 179.0,539.0 172.0,533.0 166.0,529.0 160.0,526.0 155.0,523.0 152.0,518.0 149.0,512.0 146.0,506.0 143.0,500.0 141.0,493.0 140.0,486.0 137.0,480.0 135.0,473.0 133.0,466.0 132.0,459.0 129.0,454.0 125.0,450.0 122.0,445.0 119.0,441.0 117.0,439.0 115.9,437.9 113.3,434.7 111.0,434.0"/>
<polygon points="110.0,508.0 113.0,509.0 118.0,512.0 124.0,517.0 130.0,523.0 135.0,527.0 140.0,532.0 146.0,537.0 152.0,537.0 153.0,540.0 158.0,541.0 164.0,543.0 168.0,548.0 174.0,552.0 180.0,555.0 186.0,557.0 190.0,559.0 186.0,563.0 178.0,565.0 184.0,566.0 192.0,564.0 196.0,568.0 199.0,571.0 199.0,573.0 130.0,573.0 124.0,569.0 118.0,566.0 115.0,561.0 113.0,554.0 110.0,553.0"/>
<polygon points="282.0,573.0 282.0,570.0 281.0,563.0 282.0,555.0 284.0,548.0 288.0,541.0 291.0,537.0 294.0,539.0 298.0,542.0 305.0,542.0 311.0,543.0 317.0,544.0 319.0,537.0 321.0,531.0 322.0,524.0 325.0,522.0 333.0,520.0 341.0,519.0 348.0,518.0 353.0,514.0 358.0,508.0 363.0,502.0 367.0,496.0 369.0,492.0 374.0,491.0 380.0,487.0 385.0,484.0 389.0,481.0 394.0,478.0 399.0,475.0 402.0,469.0 406.0,464.0 411.0,455.6 413.2,452.4 415.3,456.7 417.4,455.6 420.2,451.4 422.8,455.6 424.9,458.8 428.1,462.1 429.2,468.5 432.4,470.6 437.7,471.7 444.1,474.9 451.6,478.1 455.9,480.2 453.8,483.4 446.3,484.5 438.8,486.0 437.7,489.8 443.1,492.0 447.4,494.1 443.1,496.2 435.6,497.3 429.2,498.4 428.1,501.6 432.4,503.7 430.3,509.1 424.9,512.3 427.1,515.5 430.3,519.7 433.5,526.2 431.3,532.6 433.5,536.8 437.7,541.1 443.1,546.5 448.4,550.7 451.0,553.9 446.3,556.1 438.8,556.5 433.5,558.2 430.3,562.5 428.1,568.9 427.1,575.3"/>
<polygon points="467.7,572.4 468.3,568.2 471.1,558.2 481.0,551.1 486.7,548.3 496.6,551.1 505.2,554.0 516.5,555.4 527.9,554.8 536.4,552.5 544.9,548.3 550.6,543.5 556.2,544.6 553.4,549.7 547.2,558.8 536.4,563.9 525.0,566.2 513.7,565.6 502.3,565.0 491.0,566.2 479.6,566.7 473.9,569.0 473.9,572.4"/>
<polygon points="560.7,405.7 564.3,407.9 567.9,409.3 570.0,413.6 572.9,418.6 575.0,422.9 575.7,427.9 577.1,433.6 579.3,439.3 580.0,445.0 578.6,450.0 575.7,452.1 574.3,456.4 573.6,461.4 572.6,457.9 572.1,452.9 569.3,450.7 567.9,447.1 564.3,447.1 562.9,450.0 560.0,455.0 560.7,459.3 563.6,462.9 565.0,466.4 562.9,470.7 560.0,475.7 557.9,474.3 556.4,470.7 552.9,470.0 548.6,468.6 543.6,465.7 539.3,462.1 536.4,457.1 535.7,452.1 537.9,448.6 540.0,445.0 537.1,440.7 532.9,437.1 530.0,435.0 527.9,437.9 525.0,440.7 522.1,440.0 518.6,442.1 515.7,440.7 512.9,439.3 510.0,440.7 507.9,445.0 505.7,450.0 503.6,452.1 501.4,450.0 502.1,445.0 504.3,439.3 507.1,435.7 511.4,433.6 516.4,432.1 519.3,429.3 520.7,425.7 524.3,423.6 527.9,422.9 531.4,425.0 532.9,429.3 532.1,432.9 535.7,432.1 540.0,430.0 541.4,425.7 545.0,424.3 548.6,423.6 550.0,419.3 553.6,418.6 557.1,417.9 560.7,416.4 562.1,412.9 560.7,409.3"/>
<polygon points="478.5,253.5 482.1,249.9 488.4,250.8 493.8,253.5 499.2,256.2 503.7,255.3 505.5,251.7 507.3,254.4 506.4,261.7 508.2,268.9 509.2,277.0 508.2,284.2 505.5,290.5 501.0,296.0 496.5,300.5 493.8,305.0 492.0,309.5 493.8,315.8 497.4,321.2 500.1,326.6 504.6,330.3 509.2,326.6 514.6,325.7 520.0,328.4 524.5,331.2 529.0,332.1 534.4,333.0 537.1,330.3 540.7,331.2 542.5,335.7 539.8,339.3 536.2,338.4 534.4,342.9 538.0,348.3 536.2,351.9 531.7,348.3 527.2,346.5 524.5,341.1 520.0,335.7 515.5,332.1 511.9,333.9 512.8,340.2 514.6,344.7 511.0,345.6 507.3,341.1 503.7,336.6 499.2,333.9 494.7,333.0 491.1,335.7 486.6,334.8 482.1,333.9 479.4,330.3 480.3,325.7 483.9,323.0 482.1,320.3 477.6,323.0 474.9,320.3 472.1,315.8 469.4,310.4 467.6,303.2 465.8,296.0 464.9,291.4 468.5,291.4 472.1,294.2 474.0,289.6 474.9,281.5 474.0,274.3 475.8,267.1 476.7,259.9"/>
<polygon points="494.6,127.8 500.4,132.3 500.4,140.6 497.8,148.2 494.6,157.2 492.1,166.2 488.2,172.5 485.1,177.7 483.8,184.1 482.5,189.4 480.6,189.4 479.9,184.1 476.7,180.2 472.9,175.1 471.0,168.7 470.3,162.3 471.6,154.6 474.8,148.2 478.7,141.9 483.1,135.5 488.2,131.0 492.1,128.4"/>
<polygon points="312.0,225.0 316.0,228.0 314.0,234.0 311.0,240.0 308.0,245.0 305.0,250.0 300.0,253.0 295.0,255.0 289.0,256.0 283.0,254.0 278.0,251.0 276.0,244.0 278.0,238.0 282.0,234.0 286.0,230.0 291.0,227.0 297.0,226.0 302.0,225.0 307.0,224.0"/>
<polygon points="477.0,341.0 484.0,340.0 490.0,344.0 494.0,351.0 493.0,358.0 489.0,362.0 486.0,359.0 483.0,353.0 480.0,347.0"/>
<polygon points="504.0,370.0 510.0,369.0 516.0,372.0 522.0,373.0 521.0,378.0 517.0,381.0 514.0,386.0 511.0,390.0 506.0,392.0 502.0,391.0 501.0,386.0 503.0,380.0 504.0,375.0"/>
<polygon points="520.0,386.0 524.0,384.0 528.0,386.0 527.0,392.0 525.0,399.0 523.0,407.0 521.0,414.0 519.0,417.0 515.0,413.0 510.0,407.0 509.0,403.0 515.0,401.0 517.0,395.0 518.0,389.0"/>
<polygon points="535.0,383.0 536.0,387.0 533.0,394.0 529.0,401.0 525.0,407.0 524.0,404.0 528.0,397.0 531.0,390.0 533.0,384.0"/>
<polygon points="535.0,402.0 540.0,399.0 545.0,401.0 544.0,405.0 539.0,407.0 534.0,406.0"/>
<polygon points="542.0,358.0 548.0,357.0 554.0,358.0 558.0,361.0 560.0,367.0 561.0,373.0 563.0,378.0 559.0,381.0 555.0,378.0 552.0,373.0 549.0,369.0 545.0,365.0 542.0,362.0"/>
<polygon points="543.0,374.0 547.0,376.0 550.0,381.0 553.0,387.0 556.0,393.0 555.0,397.0 551.0,395.0 550.0,390.0 546.0,385.0 543.0,380.0"/>
<polygon points="524.0,359.0 529.0,358.0 532.0,362.0 536.0,367.0 535.0,370.0 531.0,367.0 527.0,364.0 524.0,363.0"/>
<polygon points="420.7,429.3 421.5,427.7 424.8,422.7 429.8,417.8 435.5,412.8 441.3,407.0 445.5,402.1 448.8,397.1 452.9,393.0 457.0,388.8 460.3,386.7 462.5,388.8 461.2,392.1 457.9,394.6 453.7,397.9 449.6,400.4 447.9,405.4 444.6,411.2 439.7,415.3 433.9,419.4 428.1,423.6 423.1,427.4"/>
<polygon points="596.6,536.9 600.2,534.1 603.1,536.9 601.7,544.0 600.0,550.3 604.5,548.3 610.2,544.6 615.3,544.0 616.4,547.4 612.4,552.0 607.3,555.4 603.1,558.8 607.3,563.9 615.9,563.9 618.7,568.2 613.0,567.3 604.5,566.2 598.8,567.3 598.3,572.4 593.7,572.4 593.1,565.3 591.7,561.1 593.1,552.5 594.6,545.4"/>
<polygon points="607.9,529.3 611.6,526.4 615.3,528.4 614.4,533.2 610.2,536.1 607.3,534.1"/>
<polygon points="266.0,503.0 269.0,500.0 272.0,504.0 269.0,508.0 266.0,506.0"/>
<polygon points="499.0,457.4 503.4,456.1 506.0,459.4 502.1,462.0 499.0,460.5"/>
<polygon points="484.0,467.7 490.4,466.4 491.7,469.8 486.0,471.6"/>
<polygon points="581.0,494.1 583.8,493.6 584.9,500.0 583.6,506.5 581.2,505.2"/>
<polygon points="559.5,507.0 563.6,506.5 565.2,511.7 561.1,513.0"/>
<polygon points="153.5,533.2 157.9,531.4 160.7,535.0 159.1,539.7 154.5,539.2"/>
<polygon points="164.8,543.6 172.1,548.0 178.5,552.6 186.3,555.2 194.1,558.3 199.2,562.4 196.7,565.5 188.9,562.4 181.1,559.1 173.4,555.2 166.4,549.5"/>
<polygon points="484.7,468.5 490.1,467.4 491.2,470.2 485.8,471.0"/>
</g>
<g fill="#000">
<polygon points="416.5,436.8 417.4,432.6 420.7,429.0 423.1,429.3 421.5,432.6 418.5,436.0"/>
<polygon points="457.9,385.0 458.2,380.1 459.8,377.8 461.5,378.4 460.2,380.7 460.8,383.9 459.5,385.4"/>
<polygon points="461.5,376.4 464.1,374.8 464.8,376.4 462.5,378.1"/>
<polygon points="466.1,368.5 466.1,364.0 467.8,361.6 469.4,362.2 468.1,364.5 468.1,367.9 469.4,369.2 467.4,369.8"/>
<polygon points="470.2,360.6 473.4,360.9 474.4,363.6 472.7,364.2 472.1,362.2 470.1,361.9"/>
<polygon points="471.1,366.5 473.4,365.9 473.7,367.9 471.4,368.5"/>
<polygon points="503.6,41.2 504.2,41.9 504.1,42.8 502.8,43.0 502.5,41.8"/>
<polygon points="506.1,45.4 505.0,46.0 504.1,45.1 505.2,44.2"/>
<polygon points="505.0,46.1 504.5,47.3 503.4,47.2 502.8,46.1 503.8,45.2"/>
<polygon points="499.6,54.2 498.1,51.6 500.7,51.1 501.5,52.9"/>
<polygon points="499.8,51.0 500.8,52.0 501.6,53.2 500.0,54.1 498.9,53.7 498.5,52.0"/>
<polygon points="500.1,55.0 501.1,54.3 501.7,55.3 500.8,55.8"/>
<polygon points="495.3,59.6 495.9,57.7 497.4,58.5 498.2,59.9 497.2,61.6 495.6,60.6"/>
<polygon points="496.5,61.9 498.1,61.8 498.6,64.0 496.8,63.9"/>
<polygon points="495.9,66.7 494.6,65.4 495.2,63.8 496.5,64.0 497.5,65.5"/>
<polygon points="497.3,66.4 498.3,67.2 497.5,68.3 495.8,67.8 496.2,66.9"/>
<polygon points="491.6,69.6 492.9,70.5 492.3,71.9 490.6,71.9 489.8,71.4 489.7,69.9"/>
<polygon points="486.4,77.8 485.0,77.6 484.2,76.6 485.4,75.3 486.8,76.2"/>
<polygon points="486.9,77.5 488.3,77.2 488.8,78.4 488.4,79.5 487.2,79.5"/>
<polygon points="484.9,80.4 486.3,80.7 486.7,82.2 485.3,82.6 484.2,81.9"/>
<polygon points="481.4,83.4 482.1,82.4 483.7,81.9 484.4,83.5 483.4,85.1 481.9,84.7"/>
<polygon points="480.1,85.6 481.4,85.7 481.3,86.6 480.2,86.8"/>
<polygon points="475.3,86.6 477.4,86.1 477.0,88.9 475.0,88.5"/>
<polygon points="476.7,91.7 477.1,93.7 474.9,94.3 474.3,92.7 475.2,91.8"/>
<polygon points="471.4,96.4 470.2,96.8 469.5,95.5 471.1,94.8"/>
<polygon points="470.5,98.9 469.2,98.1 470.4,97.1 471.6,98.1"/>
<polygon points="469.0,101.6 467.1,100.2 468.2,98.2 469.8,98.7 470.9,100.3"/>
<polygon points="466.9,99.9 467.6,101.0 466.3,101.6 465.2,101.1 465.7,100.0"/>
<polygon points="465.7,105.7 464.3,106.0 464.2,104.1 465.9,104.4"/>
<polygon points="467.1,106.6 467.6,107.5 467.0,108.0 466.2,108.0 466.2,107.2 466.5,106.6"/>
<polygon points="462.9,111.2 462.7,110.7 463.0,110.2 463.7,110.4 463.6,110.9 463.5,111.5"/>
<polygon points="463.3,111.9 464.4,112.2 464.7,113.4 463.5,113.6 462.5,112.9"/>
<polygon points="463.6,116.6 463.0,114.1 465.0,113.3 466.1,115.6"/>
<polygon points="464.5,118.1 465.4,118.3 465.5,119.4 464.9,120.2 464.0,119.4 464.0,118.8"/>
<polygon points="464.6,121.0 465.3,122.8 464.6,124.2 462.4,124.1 462.2,122.6 463.0,120.7"/>
<polygon points="462.8,126.1 461.9,125.4 462.6,124.8 463.7,124.9 463.5,125.6"/>
<polygon points="459.9,127.1 460.9,125.6 462.0,125.4 462.9,125.8 462.7,127.7 461.4,127.5"/>
<polygon points="461.2,127.1 461.1,128.3 459.7,128.6 458.7,127.5 459.3,126.3 460.6,126.1"/>
<polygon points="455.3,129.6 455.1,127.5 456.8,126.7 457.5,128.1 457.1,129.6"/>
<polygon points="450.0,131.8 450.7,130.9 451.8,130.9 452.3,132.3 451.5,133.3 450.3,133.0"/>
<polygon points="451.0,133.6 449.8,133.5 449.5,132.8 449.8,131.5 450.8,131.7 451.5,132.6"/>
<polygon points="448.4,135.0 449.6,133.8 450.6,134.4 451.2,136.0 449.5,136.4"/>
<polygon points="449.9,136.9 447.9,137.6 446.4,136.2 447.4,134.3 449.7,134.7"/>
<polygon points="444.8,137.5 445.4,138.4 445.0,139.8 443.9,139.4 443.5,137.9"/>
<polygon points="440.9,138.2 441.8,138.5 441.6,139.6 441.1,139.8 440.1,139.8 440.2,138.9"/>
<polygon points="442.8,142.7 441.1,142.7 440.9,140.9 442.9,141.0"/>
<polygon points="434.2,143.5 434.6,142.1 436.3,141.5 437.6,142.2 437.9,143.8 435.8,144.7"/>
<polygon points="437.1,145.9 436.5,147.7 434.8,147.0 435.0,145.0"/>
<polygon points="431.6,148.3 430.9,148.9 430.4,148.1 431.1,147.1"/>
<polygon points="430.4,147.9 431.0,148.3 430.6,149.2 429.9,148.9 429.8,148.1"/>
<polygon points="429.4,155.1 428.0,155.3 427.1,153.7 428.2,152.4 429.5,152.3 429.7,153.8"/>
<polygon points="426.6,157.9 425.0,157.4 425.6,156.2 426.6,156.6"/>
<polygon points="421.1,158.1 421.9,158.7 421.4,159.5 420.6,159.6 420.5,158.6"/>
<polygon points="420.4,157.0 420.7,158.2 420.5,159.5 418.6,159.5 418.2,157.8 418.9,156.6"/>
<polygon points="409.7,165.7 408.8,165.7 408.1,165.0 408.7,163.9 410.0,164.0 410.3,164.9"/>
<polygon points="406.8,169.2 408.0,168.6 409.0,169.2 409.3,170.7 408.1,171.7 407.1,170.5"/>
<polygon points="400.5,173.0 399.6,173.6 398.7,173.2 398.5,172.5 399.2,171.8 400.3,172.3"/>
<polygon points="392.1,174.8 392.3,174.0 393.1,173.5 394.0,174.0 393.9,175.3 392.9,175.8"/>
<polygon points="381.8,175.5 380.0,175.7 379.2,175.0 378.8,173.3 380.5,173.2 382.3,173.9"/>
<polygon points="377.1,177.6 376.9,175.9 378.9,176.0 378.7,177.4"/>
<polygon points="370.7,179.6 369.7,180.0 369.0,179.4 369.9,178.4"/>
<polygon points="365.7,180.8 366.9,181.9 365.9,183.6 364.6,182.8 364.1,181.1"/>
<polygon points="363.4,179.0 364.8,180.3 363.8,181.4 361.9,181.4 361.1,180.2 362.1,178.3"/>
<polygon points="362.3,176.2 362.7,175.0 363.7,174.6 364.4,175.6 364.3,176.7 362.9,177.4"/>
<polygon points="360.7,174.4 361.3,176.1 360.4,176.9 358.7,176.9 358.3,175.7 359.5,174.7"/>
<polygon points="361.2,169.4 362.2,170.5 361.5,172.4 360.0,171.6 359.5,170.7 359.4,169.4"/>
<polygon points="357.8,170.8 356.4,171.1 356.3,169.2 358.0,169.2"/>
<polygon points="360.8,176.4 360.0,177.5 358.3,177.8 356.7,176.7 358.0,175.5 359.6,175.2"/>
<polygon points="357.8,177.6 357.8,178.9 356.5,178.7 356.6,177.6"/>
<polygon points="357.0,182.5 356.6,180.3 358.5,179.9 359.1,181.7"/>
<polygon points="354.0,185.0 354.5,182.6 356.7,183.0 356.1,185.1"/>
<polygon points="356.3,184.2 355.1,185.2 354.0,184.0 355.2,183.4"/>
<polygon points="355.8,181.0 355.9,182.3 353.9,182.7 352.7,181.5 354.3,179.6"/>
<polygon points="351.6,185.2 352.0,183.3 353.7,183.0 354.4,183.9 354.2,185.8"/>
<polygon points="350.2,187.9 351.3,187.9 351.3,188.9 350.2,188.9"/>
<polygon points="345.8,194.0 345.2,193.4 345.8,192.7 346.6,192.5 347.2,193.1 346.8,194.0"/>
<polygon points="343.6,191.9 342.9,190.7 343.6,189.4 344.5,189.3 345.0,190.4 344.7,191.6"/>
<polygon points="339.7,191.9 341.6,191.5 341.6,193.3 340.4,194.4 339.1,193.0"/>
<polygon points="341.0,194.1 338.6,193.9 339.0,190.9 341.0,191.8"/>
<polygon points="336.8,190.6 336.9,192.8 335.7,193.7 333.9,192.8 334.7,191.0"/>
<polygon points="331.3,195.8 330.9,196.9 329.8,197.0 329.1,195.7 330.0,194.3 331.3,194.5"/>
<polygon points="292.3,196.5 291.1,198.0 289.9,198.1 289.0,196.2 290.8,195.3"/>
<polygon points="272.5,191.2 273.0,192.0 272.5,193.3 271.3,192.4 271.2,191.3"/>
<polygon points="264.5,196.7 263.8,196.7 263.2,196.4 263.2,195.9 263.9,195.1 264.6,195.8"/>
<polygon points="261.7,199.5 261.9,200.2 261.6,200.7 260.6,200.8 260.4,199.9 261.0,199.5"/>
<polygon points="258.8,200.3 258.7,201.3 258.0,201.5 257.1,201.1 257.2,200.1 258.1,199.6"/>
<polygon points="256.3,201.3 255.3,201.7 254.4,201.2 254.0,200.3 255.2,199.7 256.4,200.2"/>
<polygon points="255.5,204.0 254.8,202.6 255.3,201.5 256.5,201.3 256.7,203.0"/>
<polygon points="252.6,206.7 251.6,206.0 251.5,204.7 252.9,204.7 253.5,205.3 253.7,206.1"/>
<polygon points="251.2,205.7 250.8,204.7 251.5,204.0 252.1,204.1 252.7,205.2 252.1,205.7"/>
<polygon points="250.2,203.9 249.5,204.5 248.7,204.0 249.4,203.2"/>
<polygon points="246.0,204.9 247.5,203.7 248.4,205.5 247.4,207.0 245.7,206.2"/>
<polygon points="245.2,207.5 243.1,208.6 242.0,206.1 244.1,205.1 245.3,205.9"/>
<polygon points="242.3,207.4 242.6,208.7 241.6,208.9 241.3,208.1"/>
<polygon points="240.3,209.5 239.3,210.3 238.4,210.4 237.5,209.7 237.9,208.6 239.3,208.2"/>
<polygon points="622.5,75.1 625.4,71.3 629.9,67.5 633.5,64.9 634.5,66.2 631.8,70.0 628.0,73.5 624.2,77.3"/>
<polygon points="618.7,80.2 620.7,79.8 621.2,82.4 619.2,82.9"/>
<polygon points="611.5,86.6 614.1,86.2 614.6,89.0 612.0,89.6"/>
<polygon points="597.7,113.1 598.6,109.0 601.2,104.5 605.0,101.3 608.0,98.5 609.5,99.8 607.2,103.2 604.1,106.4 602.1,110.2 600.0,114.1"/>
<polygon points="590.1,107.7 595.4,107.0 596.1,109.6 594.2,111.8 590.6,111.5"/>
<polygon points="581.6,107.4 585.0,107.4 585.0,109.2 581.6,109.2"/>
<polygon points="602.5,94.3 604.6,94.3 604.6,96.2 602.5,96.2"/>
<polygon points="610.5,94.3 612.0,94.3 612.0,95.9 610.5,95.9"/>
<polygon points="606.7,79.0 608.0,79.0 608.0,80.6 606.7,80.6"/>
<polygon points="623.5,54.0 624.8,54.0 624.8,55.6 623.5,55.6"/>
<polygon points="530.6,145.0 534.0,143.6 536.6,146.0 535.4,149.6 532.0,150.4 530.0,148.0"/>
<polygon points="537.8,145.6 541.0,142.4 542.2,144.0 539.8,147.6"/>
<polygon points="555.4,136.4 558.2,136.0 560.2,139.6 558.6,141.6 556.2,139.6"/>
<polygon points="518.2,144.2 519.8,144.2 519.8,145.8 518.2,145.8"/>
<polygon points="547.6,139.2 548.8,139.2 548.8,141.4 547.6,141.4"/>
<polygon points="458.8,158.5 462.0,157.2 463.3,160.4 461.4,163.0 462.7,166.2 459.5,166.8 457.6,164.2 459.5,161.7"/>
<polygon points="493.0,187.0 495.6,187.6 496.0,191.0 493.6,190.4"/>
<polygon points="499.6,208.0 502.0,207.6 501.0,213.0 498.4,215.0"/>
<polygon points="500.0,215.6 502.4,216.0 500.8,220.4 498.4,219.6"/>
<polygon points="499.6,243.0 502.4,242.4 502.8,246.0 500.0,247.0"/>
<polygon points="489.0,244.0 491.6,243.6 492.0,246.4 489.2,246.8"/>
<polygon points="491.0,236.0 494.4,235.6 494.8,238.4 491.4,238.8"/>
<polygon points="500.0,232.0 502.4,232.0 502.4,234.4 500.0,234.4"/>
<polygon points="499.0,458.6 499.6,459.9 498.8,460.8 497.9,460.7 496.9,459.6 497.9,458.7"/>
<polygon points="497.3,463.5 496.6,464.5 495.5,463.8 495.5,462.4 496.3,462.0 497.2,461.9"/>
<polygon points="493.6,464.2 493.4,463.5 493.7,462.7 494.5,463.1 494.6,463.9"/>
<polygon points="490.4,468.3 490.5,466.6 492.7,466.6 493.7,467.9 492.3,469.6"/>
<polygon points="489.5,468.9 490.2,466.8 491.5,467.9 490.9,469.5"/>
<polygon points="481.8,472.9 482.6,473.2 483.6,473.9 482.9,474.7 482.0,475.2 481.4,474.3"/>
<polygon points="479.9,473.6 478.9,473.5 477.9,472.8 478.6,471.6 479.6,471.3 480.3,472.3"/>
<polygon points="479.7,477.4 478.1,476.9 478.9,475.7 480.3,475.7 480.5,476.7"/>
<polygon points="472.7,477.9 471.7,478.3 471.1,477.1 472.2,477.0"/>
<polygon points="468.3,479.3 470.3,479.1 470.4,480.7 469.2,480.7"/>
<polygon points="557.7,523.3 560.5,523.3 560.5,526.4 557.7,526.4"/>
<polygon points="557.7,529.8 560.5,529.8 560.5,532.9 557.7,532.9"/>
<polygon points="587.4,488.9 590.0,488.9 590.0,492.5 587.4,492.5"/>
<polygon points="191.7,552.7 190.5,554.1 189.0,552.9 190.4,551.7"/>
<polygon points="194.7,553.5 193.5,554.4 192.0,554.4 192.1,552.4 193.4,552.5"/>
<polygon points="193.7,552.5 194.9,552.7 195.2,553.7 193.9,554.7 192.7,554.2 192.4,552.8"/>
<polygon points="200.6,551.7 200.1,553.0 198.9,553.6 198.4,552.1 199.2,551.0"/>
<polygon points="202.9,552.3 204.6,551.7 205.6,554.0 203.5,554.9"/>
<polygon points="206.5,556.7 206.2,555.5 207.3,554.9 208.3,555.9 207.7,556.8"/>
<polygon points="207.7,556.7 208.2,555.6 209.4,555.9 208.6,556.9"/>
<polygon points="210.6,558.8 211.8,559.4 210.7,560.0 210.0,559.5"/>
<polygon points="212.6,561.1 212.8,561.9 211.8,562.6 211.0,562.3 210.8,561.1 211.6,560.0"/>
<polygon points="211.2,563.4 209.7,563.6 209.6,561.1 211.7,561.8"/>
<polygon points="211.0,565.2 209.5,565.0 210.1,563.7 211.5,564.3"/>
<polygon points="206.3,570.3 204.9,569.5 205.2,568.3 205.9,567.3 207.4,568.1 207.4,569.5"/>
<polygon points="203.9,568.3 205.0,568.6 205.7,570.2 204.0,571.1 203.4,569.5"/>
<polygon points="202.1,567.9 201.7,569.1 200.6,569.1 200.1,568.8 200.3,567.7 201.1,567.2"/>
<polygon points="197.9,568.5 199.6,568.3 199.6,570.0 197.9,569.8"/>
<polygon points="197.8,568.0 196.8,567.1 196.7,565.6 198.1,565.4 199.0,565.7 199.3,567.1"/>
<polygon points="195.1,566.9 195.0,565.9 196.1,565.4 197.1,566.3 196.9,567.2 195.6,567.9"/>
<polygon points="192.6,565.7 193.9,566.3 194.0,567.9 192.2,568.3 191.9,566.8"/>
<polygon points="194.4,564.8 193.1,566.5 191.6,565.2 191.5,563.9 193.3,563.2"/>
<polygon points="188.8,564.0 189.7,562.6 191.0,563.4 191.2,565.7 188.9,565.1"/>
<polygon points="191.7,562.9 190.3,562.5 189.9,560.9 190.8,560.0 192.2,560.2 193.0,561.4"/>
<polygon points="188.0,561.4 187.7,559.8 190.0,559.5 189.6,561.3"/>
<polygon points="187.4,558.2 187.4,557.3 188.2,556.9 189.0,557.6 188.8,558.3 188.1,558.7"/>
<polygon points="191.5,556.2 192.0,557.9 190.4,559.2 188.8,557.8 189.1,556.6 190.1,555.6"/>
<polygon points="192.5,562.1 190.8,561.6 190.8,560.1 192.4,559.7 193.0,560.9"/>
<polygon points="195.3,557.3 195.0,558.3 194.2,558.2 194.0,557.3 194.6,557.1"/>
<polygon points="196.6,558.0 198.1,558.2 197.7,560.0 196.2,559.4"/>
<polygon points="198.8,562.0 197.8,562.1 196.8,560.5 198.2,559.4 199.7,559.6 200.1,561.5"/>
<polygon points="198.6,562.1 198.8,561.0 200.0,561.1 200.0,562.1 199.2,562.8"/>
<polygon points="227.1,519.4 227.7,520.4 227.2,521.6 226.5,520.5"/>
<polygon points="229.4,518.2 231.2,517.5 231.8,519.5 229.4,519.9"/>
<polygon points="233.8,514.5 233.5,516.8 231.6,517.8 230.3,515.9 231.3,514.3"/>
<polygon points="233.1,513.8 237.3,512.8 238.3,516.4 235.7,519.5 232.6,518.0"/>
<polygon points="262.6,489.2 265.7,489.2 265.7,492.3 262.6,492.3"/>
<polygon points="278.1,519.0 280.7,518.5 281.2,522.9 278.6,523.6"/>
<polygon points="281.8,526.2 284.9,526.2 284.9,529.3 281.8,529.3"/>
<polygon points="254.9,552.1 258.7,552.1 258.7,555.2 254.9,555.2"/>
<polygon points="240.6,421.2 244.5,420.7 245.0,424.3 241.1,424.8"/>
<polygon points="429.0,495.6 428.0,498.0 426.7,496.5 427.3,494.5"/>
<polygon points="429.0,499.7 428.5,498.9 429.3,498.4 430.2,498.9 429.7,499.6"/>
<polygon points="429.9,499.0 430.9,500.1 430.1,501.1 428.8,500.3"/>
<polygon points="430.0,503.0 431.1,503.0 431.9,503.5 431.2,504.9 430.0,504.6 429.7,503.8"/>
<polygon points="428.3,503.6 427.8,505.6 426.4,506.0 425.3,504.6 426.7,503.7"/>
<polygon points="425.4,510.3 426.7,508.7 428.5,509.7 427.1,511.0"/>
<polygon points="421.9,513.5 420.4,511.1 422.1,509.6 423.4,511.1"/>
<polygon points="425.1,510.7 426.2,512.7 424.3,513.7 423.1,512.1"/>
<polygon points="423.1,515.7 422.6,514.6 423.3,513.8 424.6,514.4 424.3,515.6"/>
<polygon points="424.2,518.6 423.8,517.7 424.1,516.8 424.9,516.8 425.4,517.3 425.2,518.0"/>
<polygon points="431.2,468.7 430.4,469.6 428.4,469.5 429.0,467.2 430.9,466.6"/>
<polygon points="433.3,472.1 433.0,473.3 432.3,472.8 432.1,472.1 432.7,471.5"/>
<polygon points="435.0,474.7 434.8,474.3 434.8,473.7 435.6,473.1 436.0,474.0 436.0,474.6"/>
<polygon points="437.4,473.6 439.3,474.1 438.6,475.7 436.2,475.8"/>
<polygon points="440.2,488.0 440.8,489.0 439.8,489.5 438.7,489.3 438.7,488.3 439.3,487.8"/>
<polygon points="440.5,492.2 440.9,490.2 442.4,490.1 444.3,490.6 443.4,492.4 442.2,492.4"/>
<polygon points="443.7,490.4 444.4,490.2 444.7,490.9 444.5,491.6 443.9,491.4 443.3,491.0"/>
<polygon points="442.3,493.3 442.9,491.5 444.5,492.2 445.0,493.5 443.6,494.0"/>
<polygon points="416.4,433.2 420.2,431.1 422.8,432.1 418.9,437.5 416.4,437.5"/>
<polygon points="418.5,446.0 422.4,445.0 422.8,448.2 418.9,449.2"/>
<polygon points="458.0,487.7 460.8,487.3 461.2,490.9 458.5,491.5"/>
<polygon points="443.1,532.6 445.2,531.5 445.9,534.7 443.7,535.1"/>
<polygon points="466.5,471.0 466.7,469.4 468.2,468.6 469.4,469.4 469.0,471.5"/>
<polygon points="469.0,465.6 469.8,467.3 468.1,467.9 467.2,466.5"/>
<polygon points="471.8,464.9 473.2,464.8 473.5,466.0 472.3,466.2"/>
<polygon points="478.0,461.6 478.3,460.2 479.8,460.1 480.5,461.2 479.5,462.4"/>
<polygon points="482.4,460.0 483.7,460.9 483.6,461.9 482.3,462.9 481.0,461.8 481.3,460.8"/>
<polygon points="482.3,465.7 481.5,466.0 481.3,465.3 481.6,464.5 482.4,465.1"/>
<polygon points="479.8,469.9 481.3,467.5 483.6,469.0 482.1,471.6"/>
<polygon points="480.0,470.9 481.2,470.6 482.0,471.7 481.0,472.7 479.9,472.0"/>
<polygon points="481.6,473.1 482.4,472.6 483.1,473.4 483.0,474.5 481.9,474.9 481.3,474.0"/>
<polygon points="483.2,478.6 482.5,477.4 483.0,476.7 483.9,476.6 484.3,477.1 484.5,478.1"/>
<polygon points="477.8,477.2 479.2,478.9 477.6,479.8 476.6,478.6"/>
<polygon points="472.8,482.2 473.3,480.1 474.6,479.8 476.3,480.7 474.9,482.1"/>
<polygon points="470.4,478.9 471.2,480.2 470.0,481.7 468.5,480.9 468.3,479.6 468.9,478.6"/>
<polygon points="554.3,358.4 556.0,360.1 554.1,361.0 553.1,359.9"/>
<polygon points="562.0,372.6 560.7,372.2 560.2,371.3 561.4,370.5 562.1,371.4"/>
<polygon points="561.4,374.2 561.2,375.9 559.6,375.7 560.1,373.9"/>
<polygon points="560.3,380.3 560.2,381.1 559.6,381.6 559.2,380.8 559.3,380.2 559.9,379.7"/>
<polygon points="554.9,379.5 555.3,378.8 555.9,379.3 555.9,379.9 555.1,380.1"/>
<polygon points="552.0,378.1 552.5,376.6 554.4,376.8 553.9,378.2"/>
<polygon points="547.8,371.4 547.7,369.3 549.1,367.9 550.5,369.6 549.6,371.5"/>
<polygon points="543.2,358.4 541.9,358.9 541.5,358.0 542.5,357.1"/>
<polygon points="545.5,372.6 546.4,374.3 544.5,374.9 542.6,374.2 542.3,372.6 544.1,372.0"/>
<polygon points="549.8,379.8 549.0,380.5 548.2,380.0 548.0,379.5 548.5,378.7 549.6,379.2"/>
<polygon points="551.3,385.8 550.8,384.6 551.8,384.1 552.1,385.1"/>
<polygon points="550.8,395.9 550.8,394.0 552.6,393.4 554.1,394.9 553.4,397.0 551.6,397.2"/>
<polygon points="550.9,393.0 549.9,392.5 550.7,391.4 551.6,392.1"/>
<polygon points="547.5,389.0 547.2,387.3 548.7,386.7 549.9,386.5 550.0,388.1 549.4,388.9"/>
<polygon points="545.0,383.1 546.0,382.5 546.8,383.6 546.0,384.4 544.9,384.1"/>
<polygon points="525.4,382.2 526.3,383.2 526.6,384.5 525.6,385.5 524.1,384.5 524.2,383.2"/>
<polygon points="525.9,401.4 525.0,401.6 524.7,400.9 525.1,399.7 525.8,400.4"/>
<polygon points="523.5,415.2 522.3,416.6 520.4,416.0 520.7,414.5 522.1,413.8"/>
<polygon points="515.6,415.1 515.7,413.9 516.8,413.3 517.3,414.3 516.9,415.1"/>
<polygon points="509.9,406.6 510.8,405.9 511.8,405.7 512.4,406.6 511.8,407.4 510.5,407.2"/>
<polygon points="516.4,395.1 516.1,393.3 517.9,392.6 519.2,394.0 518.2,395.5"/>
<polygon points="518.6,388.9 516.7,388.6 517.5,386.5 518.9,386.3 520.6,386.8 520.5,388.6"/>
<polygon points="536.5,384.3 537.7,384.6 538.0,385.8 537.3,387.0 535.8,386.3 536.0,385.3"/>
<polygon points="536.8,386.9 538.2,388.7 536.4,389.6 534.4,388.2"/>
<polygon points="530.7,396.6 531.6,396.4 532.0,397.0 531.6,397.8 530.8,397.6 530.6,397.1"/>
<polygon points="525.3,404.2 526.0,404.5 526.3,405.0 526.0,405.8 525.3,405.8 524.7,405.1"/>
<polygon points="526.9,401.5 525.2,403.0 523.4,401.4 525.2,400.3"/>
<polygon points="507.3,371.5 506.8,370.3 507.7,369.9 508.4,370.8"/>
<polygon points="522.9,375.3 522.4,375.8 521.4,375.1 521.6,374.5 522.2,374.2 522.9,374.4"/>
<polygon points="517.6,377.8 519.1,379.1 517.8,380.3 516.3,379.3"/>
<polygon points="504.4,373.5 505.7,374.0 506.2,374.8 506.2,376.1 504.9,376.1 504.3,375.1"/>
<polygon points="525.4,357.3 526.0,355.9 527.3,357.1 526.3,358.1"/>
<polygon points="534.2,368.3 534.5,367.1 535.2,365.9 536.0,367.0 536.5,367.9 535.4,369.0"/>
<polygon points="487.4,344.2 486.6,344.3 485.9,343.4 486.5,342.5 487.2,342.6 488.0,343.2"/>
<polygon points="490.5,346.6 491.5,345.2 492.9,345.9 492.0,347.5"/>
<polygon points="485.7,360.3 488.4,360.0 489.1,362.1 486.8,362.2"/>
<polygon points="536.2,401.4 536.0,400.1 536.9,399.2 538.0,399.8 537.7,401.0 537.2,401.6"/>
<polygon points="541.9,400.6 541.7,399.6 542.4,398.7 543.5,399.4 543.4,400.1 542.9,400.8"/>
<polygon points="543.6,405.3 541.6,404.3 542.1,401.9 543.7,401.7 544.6,403.5"/>
<polygon points="541.3,404.7 541.6,404.0 542.6,404.0 543.4,404.9 542.4,405.5 541.5,405.7"/>
<polygon points="535.6,407.1 535.1,405.6 536.7,404.5 538.1,405.8 537.3,407.4"/>
<polygon points="494.4,316.6 495.1,317.3 495.0,318.3 493.9,318.2 493.7,317.3"/>
<polygon points="510.3,327.4 510.6,328.0 510.2,328.9 509.5,328.5 508.9,328.1 509.4,327.5"/>
<polygon points="516.7,326.0 517.0,327.0 515.8,327.6 514.7,327.3 514.4,326.2 515.3,325.6"/>
<polygon points="532.5,333.6 531.5,334.9 529.5,334.5 529.8,333.2 530.9,332.9"/>
<polygon points="538.4,332.3 539.9,331.9 540.6,332.6 540.1,334.1 538.8,333.6"/>
<polygon points="539.9,350.0 538.7,350.9 536.9,350.5 537.7,348.4 538.8,347.1 540.9,348.4"/>
<polygon points="534.6,349.5 535.0,351.3 533.2,351.1 532.6,349.3"/>
<polygon points="529.0,347.4 528.1,348.2 526.9,348.3 527.1,346.7 528.1,346.0"/>
<polygon points="527.7,344.9 527.4,345.6 526.6,345.6 526.6,344.7 527.3,344.0"/>
<polygon points="518.2,332.8 516.9,332.6 516.5,331.7 517.1,330.6 518.7,331.2"/>
<polygon points="513.4,341.7 511.9,339.8 512.8,338.1 515.4,339.1"/>
<polygon points="513.1,341.2 511.7,342.0 511.0,340.6 512.4,339.5"/>
<polygon points="508.6,341.0 509.7,340.2 510.4,341.4 509.3,342.2"/>
<polygon points="502.1,337.5 501.3,336.0 502.5,335.1 503.5,335.9 503.2,337.2"/>
<polygon points="496.8,332.6 497.6,333.4 497.3,334.3 496.7,334.1 495.9,333.9 496.2,333.0"/>
<polygon points="494.3,335.2 493.6,336.4 491.6,336.8 490.5,335.3 491.8,333.3 493.7,333.3"/>
<polygon points="481.7,333.1 482.1,331.6 483.9,331.9 483.2,333.7"/>
<polygon points="482.1,333.1 481.1,334.1 480.2,332.7 481.6,332.0"/>
<polygon points="480.8,330.6 479.5,330.8 478.3,330.5 479.1,329.0 480.0,329.3 481.1,329.7"/>
<polygon points="482.4,322.9 483.4,324.6 481.5,325.7 480.2,324.7 479.6,322.8 481.2,322.1"/>
<polygon points="479.7,320.8 481.3,322.2 479.9,323.4 478.6,322.4"/>
<polygon points="471.9,309.7 471.7,311.0 470.8,310.9 470.4,310.2 470.8,309.5"/>
<polygon points="466.5,304.7 467.5,304.3 468.2,305.2 466.9,306.0"/>
<polygon points="258.6,390.9 259.4,393.4 257.0,394.1 256.7,391.8"/>
<polygon points="255.4,392.5 254.8,392.9 254.2,392.3 255.0,391.5"/>
<polygon points="247.7,398.2 247.1,400.0 245.0,398.7 245.4,396.7 247.5,396.4"/>
<polygon points="235.9,408.1 235.0,407.0 236.1,405.4 238.0,405.6 238.9,407.5 237.4,408.7"/>
<polygon points="176.6,365.3 175.6,367.0 173.2,365.5 174.6,363.5 176.2,363.6"/>
<polygon points="172.7,363.3 172.9,361.5 174.6,361.3 175.6,362.7 174.3,363.7"/>
<polygon points="170.4,362.4 170.4,361.5 171.2,360.9 172.0,361.6 172.0,362.5 171.2,362.9"/>
<polygon points="191.0,380.9 190.6,379.2 192.0,379.5 193.3,380.2 192.3,381.1 191.5,381.3"/>
<polygon points="188.7,382.7 188.3,384.1 187.0,383.6 187.0,382.1 188.2,381.6"/>
<polygon points="187.6,385.0 186.0,385.6 185.5,384.2 187.0,384.1"/>
<polygon points="402.0,47.4 404.4,47.4 404.4,48.8 402.0,48.8"/>
<polygon points="406.6,54.6 408.6,54.6 408.6,56.6 406.6,56.6"/>
<polygon points="395.0,40.6 396.6,40.6 396.6,41.8 395.0,41.8"/>
<polygon points="113.0,38.0 118.0,38.0 118.0,39.2 113.0,39.2"/>
<polygon points="448.0,46.0 452.0,45.0 452.4,47.0 449.0,48.2"/>
</g>
<g fill="none" stroke="#000" stroke-width="1" stroke-linejoin="round" shape-rendering="crispEdges">
<polyline points="118.0,168.0 121.0,171.0 119.0,177.0 117.0,183.0 120.0,186.0 128.0,187.0 131.0,191.0 133.0,198.0 140.0,198.0 145.0,195.0 149.0,194.0 150.0,200.0 143.0,203.0 140.0,208.0 135.0,211.0 133.0,217.0 128.0,218.0 123.0,220.0 118.0,223.0 113.0,225.0 111.0,228.0"/>
<polyline points="133.0,217.0 136.0,220.0 140.0,223.0 138.0,230.0 142.0,234.0 151.0,233.0 153.0,242.0 150.0,248.0 148.0,254.0 149.0,260.0 146.0,267.0 149.0,270.0 158.0,263.0 165.0,258.0 170.0,260.0 176.0,264.0 180.0,261.0 185.0,254.0 190.0,254.0 198.0,256.0 201.0,262.0 206.0,266.0 210.0,270.0 211.0,276.0 210.0,282.0 212.0,288.0 218.0,292.0 222.0,296.0 225.0,301.0"/>
<polyline points="150.0,200.0 155.0,204.0 160.0,203.0 159.0,196.0 157.0,188.0 158.0,182.0 163.0,180.0 168.0,182.0 172.0,176.0 175.0,175.0 179.0,178.0 183.0,180.0 186.0,176.0 191.0,178.0 194.0,175.0 199.0,177.0 204.0,174.0 209.0,173.0 213.0,169.0 214.0,168.0"/>
<polyline points="168.0,182.0 170.0,187.0 174.0,190.0 177.0,193.0 180.0,193.0 180.0,198.0 179.0,203.0 183.0,209.0 187.0,211.0 193.0,213.0 196.0,209.0 201.0,208.0 205.0,211.0 208.0,215.0 206.0,218.0 210.0,220.0 214.0,224.0 213.0,228.0 209.0,231.0 203.0,231.0 198.0,235.0 196.0,238.0 201.0,240.0 206.0,243.0 212.0,246.0 217.0,249.0 219.0,254.0 223.0,258.0 228.0,264.0 231.0,270.0 235.0,276.0 240.0,282.0 243.0,288.0 248.0,290.0 254.0,293.0 257.0,297.0 258.0,301.0"/>
<polyline points="224.0,168.0 228.0,171.0 234.0,172.0 240.0,173.0 245.0,175.0 242.0,180.0 243.0,186.0 248.0,190.0 252.0,193.0 258.0,195.0 263.0,196.0 265.0,198.0"/>
<polyline points="170.0,359.0 170.0,339.0 174.0,335.0 179.0,327.0 184.0,325.0 194.0,324.0 204.0,324.6 214.0,324.0 219.0,327.0"/>
<polyline points="225.6,301.0 225.0,305.0 223.0,311.0 225.0,317.0 224.0,325.0 219.0,327.0 226.0,329.0 230.0,332.0 232.0,326.0 238.0,323.0 246.0,325.0 252.0,321.0 258.0,320.0"/>
<polyline points="254.0,301.0 258.0,305.0 260.0,310.0 258.0,315.0 259.0,320.0 256.0,327.0 258.0,333.0 259.0,341.0 257.0,351.0 258.0,359.0 252.0,361.0 246.0,365.0 240.0,367.0 234.0,370.0 229.0,372.0 230.0,378.0 235.0,381.0 235.0,386.0 230.0,384.0 224.0,383.0 220.0,385.0 216.0,388.0 211.0,390.0 207.0,393.0"/>
<polyline points="113.0,332.0 117.6,332.0 117.6,344.0 116.0,348.0 120.0,356.0 123.0,365.0 125.0,370.0 122.0,374.0 118.0,378.0 113.0,383.0"/>
<polyline points="134.0,458.0 139.0,459.0 143.0,463.0 148.0,465.0 149.0,472.0 152.0,474.0 158.0,471.0 164.0,469.0 166.0,465.0"/>
<polyline points="291.0,538.0 294.0,543.0 299.0,548.0 304.0,553.0 308.0,555.0 314.0,554.0 321.0,553.0 328.0,552.0 335.0,550.0 338.0,546.0 344.0,544.0 351.0,545.0 357.0,547.0 363.0,548.0 369.0,546.0 375.0,544.0 379.0,540.0 381.0,534.0 385.0,529.0 387.0,523.0 389.0,518.0 393.0,515.0 394.0,507.0 395.0,500.0 398.0,497.0 405.0,497.0 413.0,497.0 420.0,497.0"/>
<polyline points="369.0,493.0 372.0,498.0 377.0,502.0 381.0,497.0 382.0,490.0"/>
<polyline points="385.0,487.0 386.0,494.0 389.0,497.0"/>
<polyline points="420.0,497.0 428.0,498.6"/>
<polyline points="231.0,315.0 230.0,321.0 231.0,331.0 230.0,341.0 232.0,349.0 232.4,361.0"/>
<polyline points="212.0,367.0 214.0,375.0 217.0,383.0 219.0,389.0 226.0,395.0 232.0,401.0 238.0,406.0"/>
<polyline points="213.0,367.0 219.0,366.0 224.0,364.0"/>
<polyline points="219.0,389.0 223.0,390.0 230.0,397.0 235.0,402.0"/>
<polyline points="300.6,163.0 303.0,159.4 306.0,161.4 310.0,162.2 314.0,163.0 318.0,161.4 323.0,161.4"/>
<polyline points="400.6,38.6 400.6,42.2 405.0,42.2"/>
<polyline points="407.4,39.4 410.0,38.6"/>
</g>
</g>
<g fill="#000" shape-rendering="crispEdges">
<rect x="111" y="36" width="528" height="2"/><rect x="111" y="570" width="528" height="2"/>
<rect x="111" y="36" width="2" height="536"/><rect x="637" y="36" width="2" height="536"/>
<rect x="130" y="38" width="1" height="5"/><rect x="130" y="565" width="1" height="5"/>
<rect x="164" y="38" width="1" height="5"/><rect x="164" y="565" width="1" height="5"/>
<rect x="198" y="38" width="1" height="5"/><rect x="198" y="565" width="1" height="5"/>
<rect x="231" y="38" width="1" height="5"/><rect x="231" y="565" width="1" height="5"/>
<rect x="265" y="38" width="1" height="5"/><rect x="265" y="565" width="1" height="5"/>
<rect x="299" y="38" width="1" height="5"/><rect x="299" y="565" width="1" height="5"/>
<rect x="333" y="38" width="1" height="5"/><rect x="333" y="565" width="1" height="5"/>
<rect x="366" y="38" width="1" height="5"/><rect x="366" y="565" width="1" height="5"/>
<rect x="400" y="38" width="1" height="5"/><rect x="400" y="565" width="1" height="5"/>
<rect x="434" y="38" width="1" height="5"/><rect x="434" y="565" width="1" height="5"/>
<rect x="468" y="38" width="1" height="5"/><rect x="468" y="565" width="1" height="5"/>
<rect x="501" y="38" width="1" height="5"/><rect x="501" y="565" width="1" height="5"/>
<rect x="535" y="38" width="1" height="5"/><rect x="535" y="565" width="1" height="5"/>
<rect x="569" y="38" width="1" height="5"/><rect x="569" y="565" width="1" height="5"/>
<rect x="603" y="38" width="1" height="5"/><rect x="603" y="565" width="1" height="5"/>
<rect x="113" y="536" width="5" height="1"/><rect x="632" y="536" width="5" height="1"/>
<rect x="113" y="502" width="5" height="1"/><rect x="632" y="502" width="5" height="1"/>
<rect x="113" y="469" width="5" height="1"/><rect x="632" y="469" width="5" height="1"/>
<rect x="113" y="435" width="5" height="1"/><rect x="632" y="435" width="5" height="1"/>
<rect x="113" y="400" width="5" height="1"/><rect x="632" y="400" width="5" height="1"/>
<rect x="113" y="366" width="5" height="1"/><rect x="632" y="366" width="5" height="1"/>
<rect x="113" y="331" width="5" height="1"/><rect x="632" y="331" width="5" height="1"/>
<rect x="113" y="296" width="5" height="1"/><rect x="632" y="296" width="5" height="1"/>
<rect x="113" y="261" width="5" height="1"/><rect x="632" y="261" width="5" height="1"/>
<rect x="113" y="225" width="5" height="1"/><rect x="632" y="225" width="5" height="1"/>
<rect x="113" y="189" width="5" height="1"/><rect x="632" y="189" width="5" height="1"/>
<rect x="113" y="153" width="5" height="1"/><rect x="632" y="153" width="5" height="1"/>
<rect x="113" y="115" width="5" height="1"/><rect x="632" y="115" width="5" height="1"/>
<rect x="113" y="77" width="5" height="1"/><rect x="632" y="77" width="5" height="1"/>
</g>
<text x="375.6" y="19.6" font-size="13" text-anchor="middle" fill="#000040">Significant Wave Height with Wave Direction</text>
<text x="375.6" y="31" font-size="12" font-style="italic" text-anchor="middle" textLength="184.5" lengthAdjust="spacing" fill="#000040">Valid For Sep-17-2010 18:00 GMT</text>
<text x="134.1" y="588" font-size="11" font-style="italic" text-anchor="middle" fill="#000">100 E</text>
<text x="218.5" y="588" font-size="11" font-style="italic" text-anchor="middle" fill="#000">105 E</text>
<text x="302.9" y="588" font-size="11" font-style="italic" text-anchor="middle" fill="#000">110 E</text>
<text x="387.3" y="588" font-size="11" font-style="italic" text-anchor="middle" fill="#000">115 E</text>
<text x="471.7" y="588" font-size="11" font-style="italic" text-anchor="middle" fill="#000">120 E</text>
<text x="556.1" y="588" font-size="11" font-style="italic" text-anchor="middle" fill="#000">125 E</text>
<text x="640.5" y="588" font-size="11" font-style="italic" text-anchor="middle" fill="#000">130 E</text>
<text x="645.5" y="488.9" font-size="11" font-style="italic" fill="#000">5 N</text>
<text x="645.5" y="403.9" font-size="11" font-style="italic" fill="#000">10 N</text>
<text x="645.5" y="317.9" font-size="11" font-style="italic" fill="#000">15 N</text>
<text x="645.5" y="228.9" font-size="11" font-style="italic" fill="#000">20 N</text>
<text x="645.5" y="136.9" font-size="11" font-style="italic" fill="#000">25 N</text>
<text x="645.5" y="41.4" font-size="11" font-style="italic" fill="#000">30 N</text>
<text x="645.5" y="573.9" font-size="11" font-style="italic" fill="#000">0</text>
<text x="112.5" y="602" font-size="11" font-weight="200" style="font-family:'DejaVu Sans','Liberation Sans',sans-serif" textLength="128.5" lengthAdjust="spacingAndGlyphs" fill="#000040" stroke="#000040" stroke-width="0.3">oceanweather inc.</text>
<text x="521" y="598.3" font-size="8" font-style="italic" textLength="116.5" lengthAdjust="spacingAndGlyphs" fill="#000040">Plotted at Sep17, 2010 10:50 GMT</text>
<rect x="255" y="629" width="241" height="12.7" fill="url(#cb)"/><rect x="255" y="629" width="2" height="12.7" fill="#000"/>
<text x="375.5" y="614.2" font-size="9.65" text-anchor="middle" fill="#000040">Significant Wave Height (Meters)</text>
<text x="375.5" y="661.8" font-size="9.65" text-anchor="middle" fill="#000040">Significant Wave Height (Feet)</text>
<text x="256.0" y="626" font-size="9.7" text-anchor="middle" fill="#000040">0</text>
<text x="276.1" y="626" font-size="9.7" text-anchor="middle" fill="#000040">1</text>
<text x="296.2" y="626" font-size="9.7" text-anchor="middle" fill="#000040">2</text>
<text x="316.2" y="626" font-size="9.7" text-anchor="middle" fill="#000040">3</text>
<text x="336.3" y="626" font-size="9.7" text-anchor="middle" fill="#000040">4</text>
<text x="356.4" y="626" font-size="9.7" text-anchor="middle" fill="#000040">5</text>
<text x="376.5" y="626" font-size="9.7" text-anchor="middle" fill="#000040">6</text>
<text x="396.6" y="626" font-size="9.7" text-anchor="middle" fill="#000040">7</text>
<text x="416.6" y="626" font-size="9.7" text-anchor="middle" fill="#000040">8</text>
<text x="436.7" y="626" font-size="9.7" text-anchor="middle" fill="#000040">9</text>
<text x="456.8" y="626" font-size="9.7" text-anchor="middle" fill="#000040">10</text>
<text x="476.9" y="626" font-size="9.7" text-anchor="middle" fill="#000040">11</text>
<text x="497.0" y="626" font-size="9.7" text-anchor="middle" fill="#000040">12</text>
<text x="256.3" y="650.2" font-size="9.7" text-anchor="middle" fill="#000040">0</text>
<text x="286.4" y="650.2" font-size="9.7" text-anchor="middle" fill="#000040">5</text>
<text x="316.5" y="650.2" font-size="9.7" text-anchor="middle" fill="#000040">10</text>
<text x="346.6" y="650.2" font-size="9.7" text-anchor="middle" fill="#000040">15</text>
<text x="376.7" y="650.2" font-size="9.7" text-anchor="middle" fill="#000040">20</text>
<text x="406.8" y="650.2" font-size="9.7" text-anchor="middle" fill="#000040">25</text>
<text x="436.9" y="650.2" font-size="9.7" text-anchor="middle" fill="#000040">30</text>
<text x="467.0" y="650.2" font-size="9.7" text-anchor="middle" fill="#000040">35</text>
<text x="497.1" y="650.2" font-size="9.7" text-anchor="middle" fill="#000040">40</text>
</svg></body></html>
